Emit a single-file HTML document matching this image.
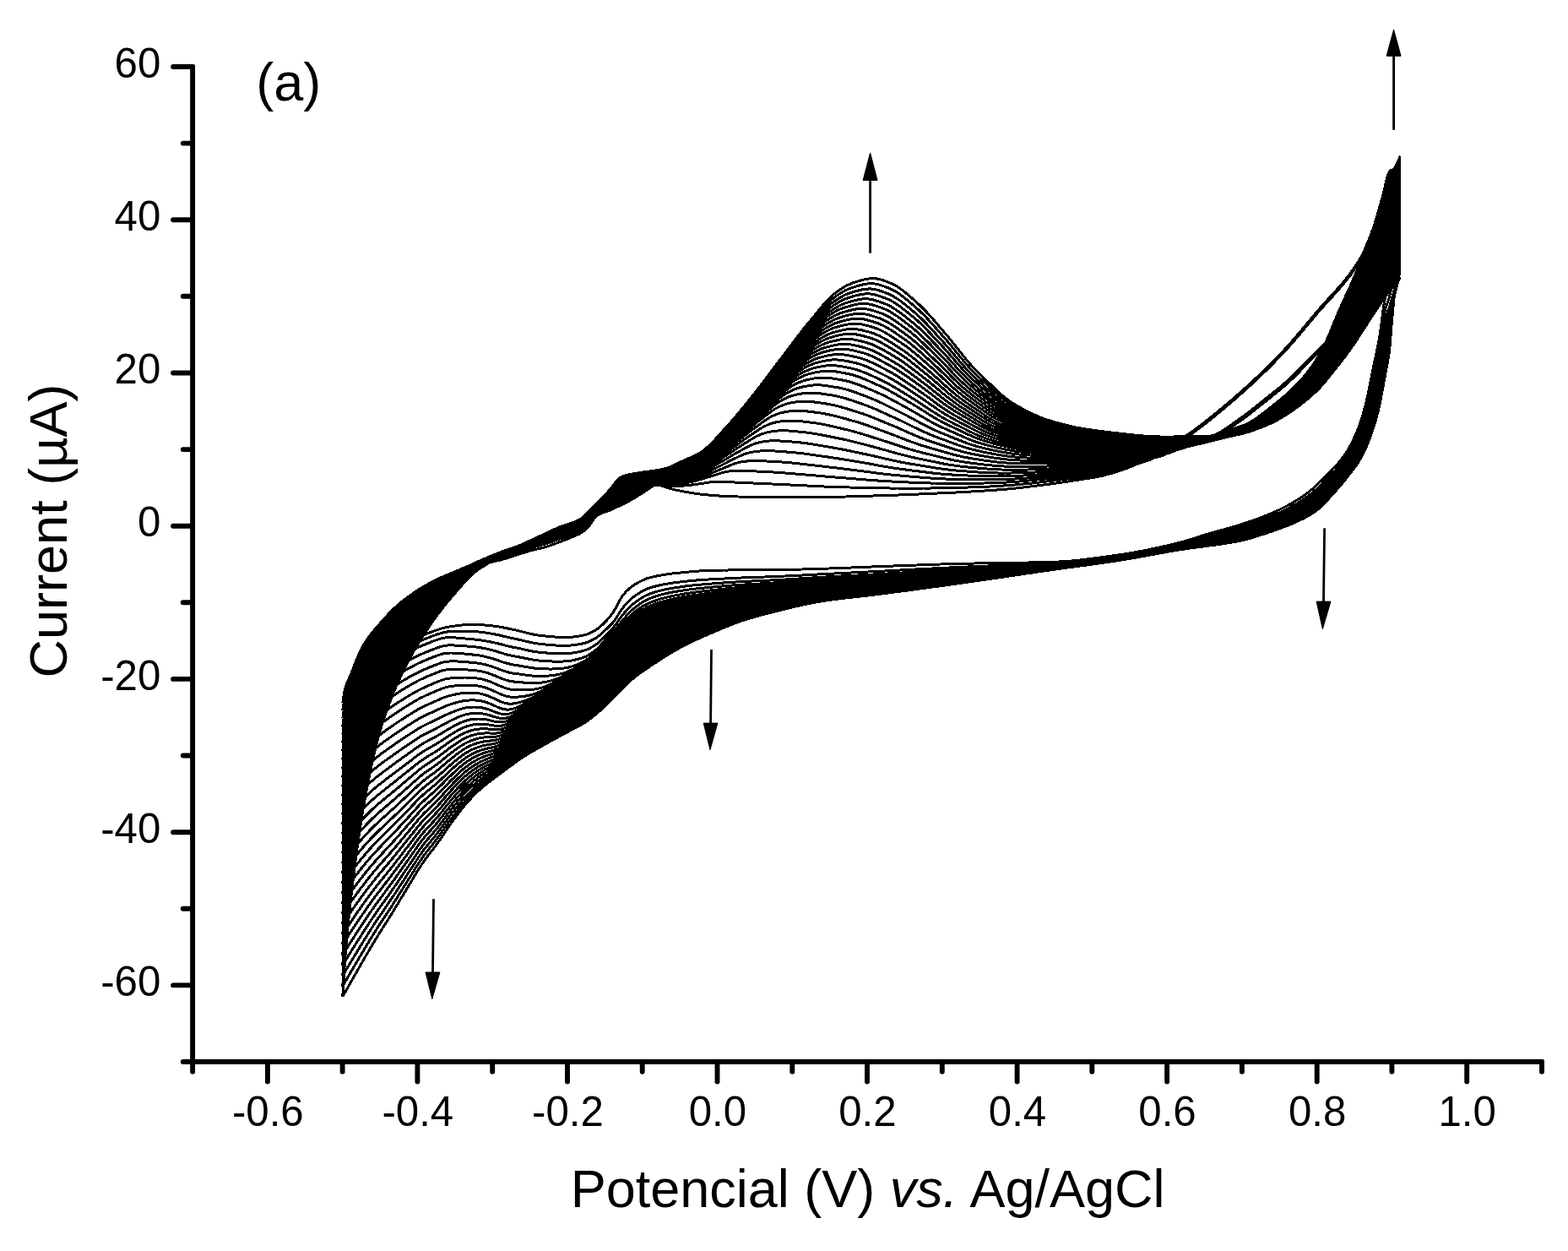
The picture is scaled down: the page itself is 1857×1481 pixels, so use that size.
<!DOCTYPE html>
<html><head><meta charset="utf-8"><title>Cyclic voltammograms</title>
<style>
html,body{margin:0;padding:0;background:#fff;}
body{width:1857px;height:1481px;overflow:hidden;}
svg{display:block;}
text{font-family:"Liberation Sans",Arial,Helvetica,sans-serif;fill:#000;}
.t{font-size:49.2px;}
.l{font-size:63px;}
.cv path{fill:none;stroke:#000;stroke-width:3.0;stroke-linejoin:round;stroke-linecap:butt;}
.ax path{fill:none;stroke:#000;stroke-width:5.9;stroke-linecap:round;stroke-linejoin:miter;}
.ar .h{fill:#000;stroke:#000;stroke-width:1;stroke-linejoin:miter;}
.ar .s{fill:none;stroke:#000;stroke-width:2.8;}
</style></head>
<body>
<svg width="1857" height="1481" viewBox="0 0 1857 1481">
<rect width="1857" height="1481" fill="#fff"/>
<g class="cv" shape-rendering="crispEdges">
<path d="M405.8,832 406.1,830 406.5,827.3 407,824.1 407.6,820.5 408.3,816.9 409.1,813.7 410,810.8 411,808.2 412.3,805.4 413.8,802.2 415.8,797.4 417.8,792.4 420.3,786 422.8,779.8 425.8,772.8 428.8,766.6 431.8,761.4 435.8,755.4 439.8,750 443.8,745.2 448.8,739.5 453.8,733.8 459.8,727.3 465.8,721.2 470,717.3 474,713.8 478,710.6 482,707.6 486,704.7 490,701.9 494,699.2 498,696.7 502,694.3 506,692 510,689.8 514,687.7 518,685.7 522,683.9 526,682.1 530,680.4 534,678.8 538,677.2 542,675.8 546,674.3 550,673 554,671.7 558,670.5 562,669.5 566,668.6 570,667.8 574,667 578,666.2 582,665.4 586,664.5 590,663.6 594,662.6 598,661.5 602,660.2 606,658.8 610,657.4 614,656.2 618,655 622,653.8 626,652.6 630,651.5 634,650.5 638,649.6 642,648.6 646,647.6 650,646.3 654,644.9 658,643.4 662,641.9 666,640.4 670,638.9 674,637.3 678,635.7 682,633.9 686,632.1 690,629.7 694,626.5 698,622.4 702,616.4 706,610.9 710,608.5 714,607 718,605.7 722,604.1 726,602.4 730,600.5 734,598.7 738,596.7 742,594.7 746,592.6 750,590.3 754,587.9 758,585.4 762,583 766,580.3 770,577.3 774,575 778,574 782,574.6 786,576 790,577.3 794,578.4 798,579.5 802,580.4 806,581.2 810,582 814,582.7 818,583.4 822,584 826,584.6 830,585.1 834,585.5 838,585.9 842,586.3 846,586.6 850,586.9 854,587.2 858,587.4 862,587.6 866,587.7 870,587.9 874,588 878,588.1 882,588.2 886,588.3 890,588.4 894,588.5 898,588.5 902,588.6 906,588.6 910,588.6 914,588.7 918,588.7 922,588.7 926,588.7 930,588.7 934,588.8 938,588.8 942,588.8 946,588.8 950,588.8 954,588.8 958,588.8 962,588.8 966,588.8 970,588.7 974,588.7 978,588.6 982,588.5 986,588.5 990,588.4 994,588.3 998,588.1 1002,588 1006,587.9 1010,587.8 1014,587.7 1018,587.5 1022,587.4 1026,587.3 1030,587.2 1034,587 1038,586.9 1042,586.8 1046,586.6 1050,586.5 1054,586.4 1058,586.2 1062,586.1 1066,585.9 1070,585.7 1074,585.6 1078,585.4 1082,585.2 1086,585.1 1090,584.9 1094,584.7 1098,584.6 1102,584.4 1106,584.2 1110,584 1114,583.8 1118,583.7 1122,583.5 1126,583.3 1130,583.1 1134,582.9 1138,582.7 1142,582.4 1146,582.2 1150,582 1154,581.8 1158,581.5 1162,581.3 1166,581 1170,580.8 1174,580.5 1178,580.2 1182,579.9 1186,579.6 1190,579.3 1194,578.9 1198,578.5 1202,578.1 1206,577.7 1210,577.3 1214,576.8 1218,576.3 1222,575.8 1226,575.3 1230,574.8 1234,574.3 1238,573.7 1242,573.2 1246,572.7 1250,572.1 1254,571.5 1258,571 1262,570.4 1266,569.8 1270,569.2 1274,568.6 1278,568 1282,567.3 1286,566.8 1290,566.1 1294,565.5 1298,564.8 1302,564 1306,563.1 1310,562.1 1314,561 1318,559.8 1322,558.6 1326,557.3 1330,556 1334,554.5 1338,553 1342,551.3 1346,549.6 1350,547.8 1354,546 1358,544 1362,541.9 1366,539.7 1370,537.4 1374,535 1378,532.7 1382,530.3 1386,527.9 1390,525.5 1394,523 1398,520.4 1402,517.8 1406,515 1410,512.2 1414,509.3 1418,506.3 1422,503.3 1426,500.3 1430,497.1 1434,494 1438,490.8 1442,487.5 1446,484.2 1450,480.9 1454,477.5 1458,474.1 1462,470.7 1466,467.2 1470,463.6 1474,460.1 1478,456.4 1482,452.8 1486,449 1490,445.3 1494,441.4 1498,437.6 1502,433.6 1506,429.6 1510,425.6 1514,421.5 1518,417.3 1522,413.1 1526,408.7 1530,404.2 1534,399.6 1538,394.9 1542,390.1 1546,385.3 1550,380.5 1554,375.7 1558,371 1562,366.3 1566,361.8 1570,357.4 1574,353 1578,348.7 1582,344.3 1586,339.8 1590,335.1 1594,330.2 1598,325.1 1600,322.4 1602,319.6 1604,316.7 1606,313.8 1608,310.7 1610,307.4 1612,304 1614,300.3 1616,296.4 1618,292 1620,287.3 1622,282.1 1624,276.6 1626,270.9 1628,265 1630,258.5 1632,251.6 1634,244.6 1636,237.5 1638,230.4 1640,222 1641,217.6 1642,213.4 1643,209.5 1644,206.3 1645,203.9 1646,202.5 1647,201.9 1648,201.5 1649,201.1 1650,200.4 1651,199.4 1652,198.1 1653,196.6 1654,194.7 1655,192.7 1656,190.4 1657,187.9 1657.8,185.8 1657.8,185.8 1657,213.1 1656,240.6 1655,262.4 1654,279.6 1653,293.3 1652,304.3 1651,313.1 1650,320.3 1649,326.2 1648,330.9 1647,334.7 1646,338 1645,340.8 1644,343.4 1643,345.9 1642,348.5 1641,351.2 1640,354.4 1638,366.8 1636,383.2 1634,397.6 1632,408.4 1630,418.1 1628,427.5 1626,437.4 1624,447.5 1622,457.6 1620,467.2 1618,476 1616,483.7 1614,490.8 1612,497.4 1610,503.3 1608,508.5 1606,513.3 1604,517.8 1602,522.1 1600,526 1598,529.7 1594,536.3 1590,542 1586,547 1582,551.6 1578,555.9 1574,560 1570,564 1566,568 1562,571.8 1558,575.5 1554,579.1 1550,582.4 1546,585.4 1542,588.2 1538,590.8 1534,593.3 1530,595.7 1526,597.9 1522,600 1518,602 1514,604 1510,605.8 1506,607.6 1502,609.3 1498,610.9 1494,612.5 1490,614 1486,615.4 1482,616.8 1478,618.2 1474,619.5 1470,620.8 1466,622.1 1462,623.3 1458,624.4 1454,625.6 1450,626.7 1446,627.8 1442,628.9 1438,630 1434,631.1 1430,632.3 1426,633.5 1422,634.8 1418,636.1 1414,637.4 1410,638.6 1406,639.8 1402,641 1398,642.1 1394,643.1 1390,644.1 1386,645 1382,646 1378,646.9 1374,647.8 1370,648.7 1366,649.5 1362,650.3 1358,651.2 1354,652 1350,652.7 1346,653.5 1342,654.2 1338,654.9 1334,655.5 1330,656.2 1326,656.8 1322,657.3 1318,657.9 1314,658.5 1310,659 1306,659.6 1302,660.2 1298,660.7 1294,661.2 1290,661.7 1286,662.2 1282,662.7 1278,663.1 1274,663.6 1270,663.9 1266,664.3 1262,664.6 1258,664.8 1254,665 1250,665.2 1246,665.3 1242,665.5 1238,665.6 1234,665.7 1230,665.8 1226,665.9 1222,665.9 1218,666 1214,666.1 1210,666.2 1206,666.2 1202,666.3 1198,666.4 1194,666.4 1190,666.5 1186,666.5 1182,666.6 1178,666.6 1174,666.7 1170,666.7 1166,666.8 1162,666.9 1158,666.9 1154,667 1150,667.1 1146,667.1 1142,667.2 1138,667.3 1134,667.4 1130,667.5 1126,667.6 1122,667.7 1118,667.9 1114,668 1110,668.1 1106,668.2 1102,668.4 1098,668.5 1094,668.7 1090,668.8 1086,669 1082,669.1 1078,669.3 1074,669.4 1070,669.6 1066,669.7 1062,669.9 1058,670 1054,670.2 1050,670.3 1046,670.5 1042,670.6 1038,670.8 1034,670.9 1030,671.1 1026,671.3 1022,671.4 1018,671.6 1014,671.7 1010,671.9 1006,672.1 1002,672.2 998,672.4 994,672.5 990,672.7 986,672.9 982,673 978,673.1 974,673.3 970,673.4 966,673.5 962,673.7 958,673.8 954,673.9 950,674 946,674.1 942,674.2 938,674.2 934,674.3 930,674.3 926,674.4 922,674.4 918,674.4 914,674.5 910,674.5 906,674.5 902,674.6 898,674.6 894,674.6 890,674.7 886,674.7 882,674.7 878,674.8 874,674.8 870,674.9 866,674.9 862,675 858,675 854,675.1 850,675.2 846,675.3 842,675.3 838,675.5 834,675.6 830,675.9 826,676.1 822,676.4 818,676.8 814,677.2 810,677.6 806,678 802,678.4 798,678.8 794,679.3 790,679.9 786,680.5 782,681.1 778,681.9 774,682.8 770,683.7 766,684.9 762,686.5 758,688.5 754,690.7 750,693.2 746,696.1 742,699.8 738,704.4 734,710.6 730,718.5 726,725.4 722,730.5 718,735 714,739 710,742.6 706,745.7 702,747.9 698,749.8 694,751.3 690,752.3 686,753 682,753.6 678,754.1 674,754.5 670,754.6 666,754.5 662,754.4 658,754.1 654,753.8 650,753.5 646,753 642,752.6 638,752.2 634,751.5 630,750.7 626,749.7 622,748.7 618,747.7 614,746.7 610,745.8 606,745 602,744.1 598,743.3 594,742.5 590,741.8 586,741.2 582,740.8 578,740.4 574,740 570,739.7 566,739.4 562,739.3 558,739.3 554,739.5 550,739.7 546,740.1 542,740.6 538,741.1 534,741.7 530,742.3 526,743.2 522,744.3 518,745.6 514,747 510,748.5 506,750 502,751.6 498,753.2 494,754.9 490,756.7 486,758.5 482,760.5 478,762.6 474,764.8 470,767 465.8,769.5 459.8,773.2 453.8,777.2 448.8,780.9 443.8,784.8 439.8,788.2 435.8,791.9 431.8,796 428.8,799.3 425.8,802.8 422.8,806.4 420.3,809.6 417.8,813 415.8,815.8 413.8,818.8 412.3,821.2 411,823.3 410,824.9 409.1,826.4 408.3,827.7 407.6,828.9 407,829.9 406.5,830.8 406.1,831.5 405.8,832"/>
<path d="M405.8,841 406.1,838.9 406.5,836.2 407,832.8 407.6,829.1 408.3,825.3 409.1,821.9 410,818.8 411,816 412.3,812.9 413.8,809.4 415.8,804.2 417.8,798.9 420.3,792.2 422.8,785.7 425.8,778.3 428.8,771.7 431.8,766.2 435.8,759.8 439.8,754.1 443.8,748.9 448.8,742.8 453.8,736.9 459.8,730.1 465.8,723.8 470,719.7 474,716.1 478,712.8 482,709.6 486,706.6 490,703.7 494,701 498,698.4 502,695.9 506,693.4 510,691.1 514,688.9 518,686.7 522,684.6 526,682.7 530,680.8 534,678.9 538,677.1 542,675.4 546,673.7 550,672.1 554,670.5 558,669.1 562,667.9 566,666.8 570,665.9 574,665 578,664 582,663 586,662.1 590,661 594,660 598,658.8 602,657.6 606,656.2 610,654.9 614,653.7 618,652.4 622,651 626,649.7 630,648.5 634,647.3 638,646.2 642,645 646,643.8 650,642.5 654,641.1 658,639.7 662,638.4 666,637.1 670,635.9 674,634.6 678,633.3 682,631.8 686,630.2 690,628 694,624.9 698,621 702,615.3 706,609.9 710,607.5 714,605.7 718,604.3 722,602.5 726,600.5 730,598.5 734,596.5 738,594.5 742,592.6 746,590.6 750,588.4 754,586.1 758,583.7 762,581.4 766,578.8 770,576.1 774,573.8 778,572.9 782,573.1 786,573.8 790,574.6 794,575.2 798,575.5 802,575.4 806,575.3 810,575 814,574.7 818,574.2 822,573.7 826,573.2 830,572.6 834,572 838,571.3 842,570.8 846,570.5 850,570.3 854,570.4 858,570.5 862,570.7 866,570.8 870,571 874,571.2 878,571.4 882,571.6 886,571.8 890,571.9 894,572.1 898,572.3 902,572.4 906,572.6 910,572.8 914,573 918,573.1 922,573.3 926,573.5 930,573.7 934,573.9 938,574.1 942,574.3 946,574.5 950,574.7 954,574.9 958,575.1 962,575.3 966,575.5 970,575.7 974,575.9 978,576.1 982,576.2 986,576.4 990,576.5 994,576.6 998,576.8 1002,576.9 1006,577 1010,577.1 1014,577.2 1018,577.3 1022,577.4 1026,577.5 1030,577.6 1034,577.7 1038,577.8 1042,577.8 1046,577.9 1050,577.9 1054,578 1058,578 1062,578 1066,578.1 1070,578.1 1074,578.1 1078,578.1 1082,578.1 1086,578.1 1090,578.1 1094,578 1098,578 1102,578 1106,577.9 1110,577.9 1114,577.8 1118,577.7 1122,577.6 1126,577.6 1130,577.5 1134,577.4 1138,577.3 1142,577.2 1146,577 1150,576.9 1154,576.7 1158,576.6 1162,576.4 1166,576.2 1170,576.1 1174,575.9 1178,575.7 1182,575.4 1186,575.2 1190,574.9 1194,574.7 1198,574.4 1202,574 1206,573.7 1210,573.3 1214,572.8 1218,572.4 1222,572 1226,571.5 1230,571.1 1234,570.6 1238,570.1 1242,569.7 1246,569.2 1250,568.7 1254,568.2 1258,567.7 1262,567.2 1266,566.7 1270,566.1 1274,565.6 1278,565.1 1282,564.5 1286,564 1290,563.5 1294,562.9 1298,562.3 1302,561.6 1306,560.7 1310,559.8 1314,558.7 1318,557.7 1322,556.5 1326,555.4 1330,554.3 1334,553.1 1338,551.9 1342,550.6 1346,549.4 1350,548.1 1354,546.9 1358,545.8 1362,544.2 1366,542 1370,539.7 1374,537.3 1378,535 1382,532.6 1386,530.2 1390,527.8 1394,525.3 1398,522.7 1402,520.1 1406,517.3 1410,514.5 1414,511.6 1418,508.6 1422,505.6 1426,502.6 1430,499.4 1434,496.3 1438,493.1 1442,489.8 1446,486.5 1450,483.2 1454,479.8 1458,476.4 1462,473 1466,469.5 1470,465.9 1474,462.4 1478,458.7 1482,455.1 1486,451.3 1490,447.6 1494,443.7 1498,439.9 1502,435.9 1506,431.9 1510,427.9 1514,423.8 1518,419.6 1522,415.4 1526,411 1530,406.5 1534,401.9 1538,397.2 1542,392.4 1546,387.6 1550,382.8 1554,378 1558,373.3 1562,368.6 1566,364.1 1570,359.7 1574,355.3 1578,351 1582,346.6 1586,342.1 1590,337.4 1594,332.5 1598,327.4 1600,324.7 1602,321.9 1604,319 1606,316.1 1608,313 1610,309.7 1612,306.3 1614,302.6 1616,298.7 1618,294.3 1620,289.6 1622,284.4 1624,278.9 1626,273.2 1628,267.3 1630,260.8 1632,253.9 1634,246.9 1636,239.8 1638,232.7 1640,224.3 1641,219.9 1642,215.7 1643,211.8 1644,208.6 1645,206.2 1646,204.8 1647,204.2 1648,203.8 1649,203.4 1650,202.7 1651,201.7 1652,200.4 1653,198.9 1654,197 1655,195 1656,192.7 1657,190.2 1657.8,188.1 1657.8,188.1 1657,215.1 1656,242.5 1655,264.7 1654,282.5 1653,297.1 1652,309.4 1651,319.3 1650,327.3 1649,333.9 1648,339.5 1647,344.7 1646,349.3 1645,353 1644,356.1 1643,359.1 1642,362 1641,365.2 1640,368.7 1638,380.9 1636,396.4 1634,410.2 1632,420.7 1630,430 1628,439 1626,448.3 1624,457.8 1622,467.2 1620,476.2 1618,484.3 1616,491.5 1614,498.1 1612,504.2 1610,509.8 1608,514.7 1606,519.2 1604,523.4 1602,527.4 1600,531.2 1598,534.7 1594,541 1590,546.6 1586,551.6 1582,556.2 1578,560.5 1574,564.6 1570,568.7 1566,572.7 1562,576.5 1558,580.1 1554,583.5 1550,586.7 1546,589.6 1542,592.3 1538,594.8 1534,597.2 1530,599.4 1526,601.6 1522,603.6 1518,605.6 1514,607.4 1510,609.2 1506,610.9 1502,612.6 1498,614.2 1494,615.7 1490,617.2 1486,618.6 1482,619.9 1478,621.3 1474,622.5 1470,623.8 1466,625 1462,626.1 1458,627.2 1454,628.3 1450,629.3 1446,630.3 1442,631.3 1438,632.4 1434,633.4 1430,634.5 1426,635.6 1422,636.7 1418,637.9 1414,639.1 1410,640.2 1406,641.3 1402,642.4 1398,643.4 1394,644.4 1390,645.3 1386,646.2 1382,647.1 1378,648 1374,648.9 1370,649.7 1366,650.6 1362,651.4 1358,652.2 1354,653 1350,653.7 1346,654.5 1342,655.2 1338,655.9 1334,656.5 1330,657.2 1326,657.8 1322,658.4 1318,658.9 1314,659.5 1310,660.1 1306,660.7 1302,661.2 1298,661.8 1294,662.3 1290,662.8 1286,663.3 1282,663.8 1278,664.2 1274,664.7 1270,665.1 1266,665.5 1262,665.8 1258,666.1 1254,666.4 1250,666.6 1246,666.8 1242,667 1238,667.2 1234,667.4 1230,667.6 1226,667.8 1222,667.9 1218,668.1 1214,668.3 1210,668.4 1206,668.6 1202,668.8 1198,668.9 1194,669.1 1190,669.2 1186,669.4 1182,669.5 1178,669.7 1174,669.8 1170,670 1166,670.1 1162,670.3 1158,670.5 1154,670.6 1150,670.8 1146,671 1142,671.1 1138,671.3 1134,671.5 1130,671.7 1126,671.9 1122,672.1 1118,672.3 1114,672.5 1110,672.7 1106,672.9 1102,673.1 1098,673.3 1094,673.5 1090,673.7 1086,673.9 1082,674.1 1078,674.4 1074,674.6 1070,674.8 1066,675 1062,675.2 1058,675.4 1054,675.6 1050,675.9 1046,676.1 1042,676.3 1038,676.5 1034,676.7 1030,676.9 1026,677.1 1022,677.3 1018,677.5 1014,677.7 1010,677.9 1006,678.1 1002,678.3 998,678.5 994,678.7 990,678.9 986,679.1 982,679.3 978,679.5 974,679.7 970,679.9 966,680.1 962,680.4 958,680.6 954,680.8 950,681 946,681.2 942,681.4 938,681.6 934,681.8 930,682 926,682.1 922,682.3 918,682.5 914,682.6 910,682.8 906,683 902,683.1 898,683.2 894,683.4 890,683.5 886,683.7 882,683.8 878,684 874,684.2 870,684.4 866,684.6 862,684.8 858,685 854,685.2 850,685.4 846,685.6 842,685.8 838,686.1 834,686.3 830,686.6 826,686.9 822,687.2 818,687.6 814,688 810,688.4 806,688.9 802,689.4 798,689.9 794,690.5 790,691.1 786,691.8 782,692.7 778,693.6 774,694.6 770,695.8 766,697.2 762,699.1 758,701.4 754,704 750,706.9 746,710.2 742,714.3 738,719.1 734,724.6 730,731.3 726,736.9 722,741.1 718,744.9 714,748.6 710,752.2 706,755.2 702,757.4 698,759.3 694,760.9 690,761.9 686,762.7 682,763.3 678,763.8 674,764.2 670,764.4 666,764.3 662,764.2 658,764 654,763.7 650,763.4 646,763 642,762.6 638,762.2 634,761.6 630,760.8 626,759.9 622,759 618,758 614,757.1 610,756.2 606,755.4 602,754.5 598,753.6 594,752.6 590,751.7 586,750.9 582,750.2 578,749.5 574,748.9 570,748.4 566,747.9 562,747.6 558,747.4 554,747.2 550,747.1 546,747.1 542,747.2 538,747.4 534,747.6 530,747.9 526,748.6 522,749.6 518,750.9 514,752.3 510,753.8 506,755.4 502,757 498,758.6 494,760.4 490,762.2 486,764.1 482,766.2 478,768.3 474,770.6 470,772.9 465.8,775.5 459.8,779.4 453.8,783.6 448.8,787.4 443.8,791.6 439.8,795.1 435.8,799 431.8,803.3 428.8,806.8 425.8,810.5 422.8,814.3 420.3,817.7 417.8,821.2 415.8,824.2 413.8,827.3 412.3,829.8 411,831.9 410,833.6 409.1,835.2 408.3,836.6 407.6,837.8 407,838.9 406.5,839.8 406.1,840.5 405.8,841"/>
<path d="M405.8,850.3 406.1,848.1 406.5,845.2 407,841.8 407.6,837.9 408.3,833.9 409.1,830.3 410,827 411,824 412.3,820.5 413.8,816.7 415.8,811.2 417.8,805.6 420.3,798.6 422.8,791.7 425.8,783.9 428.8,777 431.8,771.2 435.8,764.4 439.8,758.3 443.8,752.7 448.8,746.3 453.8,740.1 459.8,733 465.8,726.4 470,722.2 474,718.5 478,715 482,711.7 486,708.6 490,705.6 494,702.7 498,700 502,697.4 506,694.9 510,692.4 514,690.1 518,687.8 522,685.6 526,683.5 530,681.5 534,679.6 538,677.7 542,675.8 546,674 550,672.2 554,670.6 558,669 562,667.7 566,666.6 570,665.6 574,664.6 578,663.6 582,662.5 586,661.5 590,660.4 594,659.3 598,658.1 602,656.9 606,655.6 610,654.3 614,653 618,651.6 622,650.3 626,648.9 630,647.6 634,646.4 638,645.1 642,643.9 646,642.6 650,641.3 654,639.9 658,638.5 662,637.2 666,636 670,634.8 674,633.5 678,632.2 682,630.8 686,629.2 690,627.1 694,623.9 698,620 702,614.4 706,609.2 710,606.6 714,604.8 718,603.1 722,601.2 726,599.1 730,596.8 734,594.7 738,592.8 742,590.8 746,588.9 750,586.8 754,584.6 758,582.3 762,580.1 766,577.7 770,575 774,572.9 778,571.9 782,572 786,572.5 790,572.9 794,573.3 798,573.6 802,573.4 806,572.8 810,572.2 814,571.4 818,570.6 822,569.7 826,568.6 830,567.5 834,566.3 838,565.1 842,563.8 846,562.5 850,561.4 854,560.1 858,559 862,558.2 866,557.6 870,557.4 874,557.2 878,557.2 882,557.4 886,557.5 890,557.7 894,557.9 898,558.1 902,558.3 906,558.5 910,558.7 914,558.9 918,559.1 922,559.4 926,559.7 930,560 934,560.3 938,560.6 942,561 946,561.3 950,561.6 954,562 958,562.3 962,562.7 966,563 970,563.4 974,563.7 978,564.1 982,564.4 986,564.8 990,565.1 994,565.4 998,565.7 1002,566 1006,566.4 1010,566.7 1014,567 1018,567.3 1022,567.7 1026,568 1030,568.3 1034,568.6 1038,568.9 1042,569.2 1046,569.4 1050,569.7 1054,569.9 1058,570.1 1062,570.3 1066,570.5 1070,570.7 1074,570.9 1078,571.1 1082,571.3 1086,571.4 1090,571.6 1094,571.7 1098,571.9 1102,572 1106,572 1110,572.1 1114,572.2 1118,572.2 1122,572.3 1126,572.3 1130,572.3 1134,572.3 1138,572.3 1142,572.3 1146,572.3 1150,572.3 1154,572.2 1158,572.1 1162,572.1 1166,572 1170,571.9 1174,571.7 1178,571.6 1182,571.4 1186,571.3 1190,571.1 1194,570.9 1198,570.6 1202,570.4 1206,570.1 1210,569.7 1214,569.4 1218,569 1222,568.6 1226,568.2 1230,567.8 1234,567.4 1238,567 1242,566.6 1246,566.1 1250,565.7 1254,565.3 1258,564.8 1262,564.4 1266,563.9 1270,563.4 1274,563 1278,562.5 1282,562 1286,561.6 1290,561.1 1294,560.6 1298,560.1 1302,559.4 1306,558.6 1310,557.7 1314,556.8 1318,555.8 1322,554.7 1326,553.7 1330,552.6 1334,551.5 1338,550.3 1342,549.1 1346,547.9 1350,546.7 1354,545.6 1358,544.4 1362,543.4 1366,542.3 1370,541.2 1374,540.2 1378,539.1 1382,534.2 1386,532.7 1390,531.1 1394,529.6 1398,528.2 1402,526.8 1406,525.4 1410,524 1414,522.7 1418,521.6 1422,520.5 1426,519.4 1430,518.2 1434,516.8 1438,515.2 1442,513.3 1446,511 1450,508.6 1454,505.9 1458,503.1 1462,500.2 1466,497.3 1470,494.5 1474,491.6 1478,488.6 1482,485.5 1486,482.3 1490,479.2 1494,476 1498,472.8 1502,469.6 1506,466.4 1510,463.2 1514,459.9 1518,456.6 1522,453.2 1526,449.6 1530,445.9 1534,442 1538,438 1542,433.8 1546,429.6 1550,425.5 1554,421.5 1558,417.7 1562,414 1566,409.9 1570,405.7 1574,401.4 1578,396.9 1582,392.4 1586,387.9 1590,383.3 1594,378.8 1598,374.2 1600,372 1602,369.8 1604,367.6 1606,365.3 1608,363.1 1610,360.9 1612,358.6 1614,356.4 1616,354.2 1618,352 1620,349.7 1622,347.5 1624,345.3 1626,343 1628,340.8 1630,338.6 1632,336.3 1634,334.1 1636,331.9 1638,329.6 1640,327.4 1641,326.3 1642,325.2 1643,324 1644,322.9 1645,321.8 1646,320.7 1647,319.6 1648,318.4 1649,317.3 1650,316.2 1651,315.1 1652,314 1653,312.8 1654,311.7 1655,310.6 1656,309.5 1657,308.4 1657.8,307.5 1657.8,307.5 1657,312.9 1656,318.9 1655,324.6 1654,329.9 1653,334.9 1652,340.1 1651,344.6 1650,348.3 1649,351.6 1648,354.8 1647,358.6 1646,362.3 1645,365 1644,367.5 1643,369.9 1642,372.5 1641,375.3 1640,378.7 1638,390.2 1636,404.8 1634,418.1 1632,428.2 1630,437.3 1628,446 1626,455 1624,464.1 1622,473 1620,481.5 1618,489.3 1616,496.2 1614,502.5 1612,508.4 1610,513.6 1608,518.4 1606,522.7 1604,526.8 1602,530.6 1600,534.2 1598,537.6 1594,543.9 1590,549.4 1586,554.3 1582,558.9 1578,563.2 1574,567.4 1570,571.5 1566,575.5 1562,579.4 1558,582.9 1554,586.2 1550,589.3 1546,592.2 1542,594.8 1538,597.2 1534,599.5 1530,601.7 1526,603.8 1522,605.8 1518,607.7 1514,609.5 1510,611.2 1506,612.9 1502,614.5 1498,616.1 1494,617.6 1490,619.1 1486,620.5 1482,621.8 1478,623.1 1474,624.4 1470,625.6 1466,626.7 1462,627.8 1458,628.9 1454,629.9 1450,630.9 1446,631.8 1442,632.8 1438,633.8 1434,634.8 1430,635.8 1426,636.8 1422,637.9 1418,639 1414,640.1 1410,641.2 1406,642.2 1402,643.3 1398,644.2 1394,645.1 1390,646 1386,646.9 1382,647.8 1378,648.7 1374,649.5 1370,650.4 1366,651.2 1362,652 1358,652.8 1354,653.6 1350,654.3 1346,655.1 1342,655.8 1338,656.5 1334,657.1 1330,657.8 1326,658.4 1322,659 1318,659.6 1314,660.1 1310,660.7 1306,661.3 1302,661.8 1298,662.4 1294,662.9 1290,663.4 1286,663.9 1282,664.4 1278,664.9 1274,665.3 1270,665.8 1266,666.2 1262,666.5 1258,666.9 1254,667.2 1250,667.5 1246,667.7 1242,668 1238,668.2 1234,668.5 1230,668.7 1226,668.9 1222,669.2 1218,669.4 1214,669.6 1210,669.8 1206,670.1 1202,670.3 1198,670.5 1194,670.7 1190,670.9 1186,671.1 1182,671.3 1178,671.6 1174,671.8 1170,672 1166,672.2 1162,672.4 1158,672.6 1154,672.8 1150,673.1 1146,673.3 1142,673.5 1138,673.7 1134,674 1130,674.2 1126,674.4 1122,674.7 1118,674.9 1114,675.2 1110,675.4 1106,675.6 1102,675.9 1098,676.1 1094,676.4 1090,676.6 1086,676.9 1082,677.1 1078,677.4 1074,677.6 1070,677.9 1066,678.1 1062,678.3 1058,678.6 1054,678.8 1050,679.1 1046,679.3 1042,679.5 1038,679.8 1034,680 1030,680.2 1026,680.4 1022,680.6 1018,680.9 1014,681.1 1010,681.3 1006,681.5 1002,681.7 998,681.9 994,682.1 990,682.4 986,682.6 982,682.8 978,683 974,683.3 970,683.5 966,683.7 962,684 958,684.2 954,684.5 950,684.8 946,685 942,685.3 938,685.5 934,685.8 930,686 926,686.2 922,686.5 918,686.7 914,686.9 910,687.1 906,687.3 902,687.5 898,687.7 894,687.9 890,688 886,688.2 882,688.4 878,688.6 874,688.8 870,689.1 866,689.3 862,689.6 858,689.9 854,690.2 850,690.5 846,690.8 842,691.1 838,691.4 834,691.7 830,692.1 826,692.4 822,692.8 818,693.3 814,693.7 810,694.2 806,694.8 802,695.4 798,696 794,696.7 790,697.4 786,698.3 782,699.2 778,700.3 774,701.5 770,702.9 766,704.5 762,706.6 758,709 754,711.8 750,714.9 746,718.4 742,722.6 738,727.5 734,732.4 730,738.3 726,743.5 722,747.6 718,751.6 714,755.7 710,759.6 706,763 702,765.5 698,767.7 694,769.4 690,770.6 686,771.6 682,772.4 678,773 674,773.5 670,773.7 666,773.8 662,773.8 658,773.7 654,773.5 650,773.2 646,772.9 642,772.5 638,772.1 634,771.6 630,770.9 626,770.1 622,769.2 618,768.3 614,767.4 610,766.6 606,765.9 602,765 598,764 594,762.9 590,761.9 586,761 582,760.1 578,759.3 574,758.6 570,758 566,757.5 562,757 558,756.7 554,756.3 550,755.9 546,755.5 542,755.1 538,754.9 534,754.7 530,754.7 526,755.1 522,756 518,757.3 514,758.7 510,760.3 506,761.9 502,763.5 498,765.1 494,766.9 490,768.8 486,770.8 482,772.9 478,775.1 474,777.5 470,779.9 465.8,782.5 459.8,786.6 453.8,791 448.8,794.9 443.8,799.2 439.8,802.9 435.8,807 431.8,811.4 428.8,815 425.8,818.8 422.8,822.8 420.3,826.2 417.8,829.9 415.8,832.9 413.8,836.2 412.3,838.7 411,840.9 410,842.7 409.1,844.3 408.3,845.7 407.6,847 407,848.1 406.5,849 406.1,849.7 405.8,850.3"/>
<path d="M405.8,859.7 406.1,857.4 406.5,854.5 407,850.9 407.6,846.8 408.3,842.7 409.1,838.8 410,835.4 411,832.1 412.3,828.3 413.8,824.3 415.8,818.4 417.8,812.4 420.3,805 422.8,797.8 425.8,789.6 428.8,782.4 431.8,776.2 435.8,769 439.8,762.5 443.8,756.6 448.8,749.8 453.8,743.3 459.8,736 465.8,729.1 470,724.7 474,720.8 478,717.3 482,713.8 486,710.6 490,707.5 494,704.5 498,701.7 502,698.9 506,696.3 510,693.8 514,691.3 518,688.9 522,686.6 526,684.4 530,682.3 534,680.2 538,678.2 542,676.3 546,674.3 550,672.4 554,670.6 558,669 562,667.6 566,666.4 570,665.3 574,664.2 578,663.2 582,662 586,660.9 590,659.8 594,658.7 598,657.5 602,656.2 606,654.9 610,653.6 614,652.3 618,650.9 622,649.5 626,648.1 630,646.7 634,645.4 638,644.1 642,642.8 646,641.5 650,640.2 654,638.8 658,637.4 662,636.1 666,634.8 670,633.7 674,632.5 678,631.3 682,629.8 686,628.3 690,626.2 694,623 698,619.1 702,613.7 706,608.5 710,605.9 714,603.9 718,602.1 722,600.1 726,597.8 730,595.4 734,593.2 738,591.2 742,589.3 746,587.4 750,585.4 754,583.3 758,581.1 762,579 766,576.6 770,574.1 774,572 778,571.1 782,571.1 786,571.5 790,571.7 794,571.9 798,572.1 802,572.1 806,571.5 810,570.6 814,569.6 818,568.6 822,567.5 826,566.2 830,564.9 834,563.4 838,561.9 842,560.3 846,558.7 850,557 854,555.4 858,553.7 862,552.1 866,550.4 870,548.9 874,547.7 878,546.8 882,546.2 886,545.9 890,545.6 894,545.5 898,545.6 902,545.7 906,545.9 910,546.1 914,546.3 918,546.5 922,546.8 926,547 930,547.3 934,547.7 938,548 942,548.4 946,548.9 950,549.3 954,549.8 958,550.2 962,550.7 966,551.1 970,551.6 974,552 978,552.5 982,553 986,553.4 990,553.9 994,554.4 998,554.9 1002,555.4 1006,555.9 1010,556.4 1014,556.9 1018,557.4 1022,557.9 1026,558.4 1030,558.9 1034,559.5 1038,560 1042,560.5 1046,561 1050,561.5 1054,561.9 1058,562.3 1062,562.7 1066,563 1070,563.4 1074,563.7 1078,564.1 1082,564.4 1086,564.7 1090,565.1 1094,565.4 1098,565.7 1102,566 1106,566.3 1110,566.5 1114,566.7 1118,566.9 1122,567.1 1126,567.2 1130,567.3 1134,567.5 1138,567.6 1142,567.7 1146,567.8 1150,567.8 1154,567.9 1158,567.9 1162,567.9 1166,567.9 1170,567.9 1174,567.9 1178,567.8 1182,567.7 1186,567.6 1190,567.5 1194,567.3 1198,567.2 1202,567 1206,566.7 1210,566.5 1214,566.2 1218,565.9 1222,565.6 1226,565.2 1230,564.9 1234,564.5 1238,564.1 1242,563.7 1246,563.4 1250,563 1254,562.6 1258,562.2 1262,561.8 1266,561.3 1270,560.9 1274,560.5 1278,560.1 1282,559.7 1286,559.3 1290,558.9 1294,558.5 1298,558 1302,557.4 1306,556.7 1310,555.9 1314,555 1318,554 1322,553 1326,552.1 1330,551 1334,550 1338,548.9 1342,547.7 1346,546.6 1350,545.4 1354,544.3 1358,543.2 1362,542.2 1366,541.2 1370,540.2 1374,539.2 1378,538.1 1382,537 1386,535.8 1390,534.1 1394,532.6 1398,531.2 1402,529.8 1406,528.4 1410,527 1414,525.7 1418,524.6 1422,523.5 1426,522.4 1430,521.2 1434,519.8 1438,518.2 1442,516.3 1446,514 1450,511.6 1454,508.9 1458,506.1 1462,503.2 1466,500.3 1470,497.5 1474,494.6 1478,491.6 1482,488.5 1486,485.3 1490,482.2 1494,479 1498,475.8 1502,472.6 1506,469.4 1510,466.2 1514,462.9 1518,459.6 1522,456.2 1526,452.6 1530,448.9 1534,445 1538,441 1542,436.8 1546,432.6 1550,428.5 1554,424.5 1558,420.7 1562,417 1566,412.9 1570,408.7 1574,404.4 1578,399.9 1582,395.4 1586,390.9 1590,386.3 1594,381.8 1598,377.2 1600,375 1602,372.8 1604,370.6 1606,368.3 1608,366.1 1610,363.9 1612,361.6 1614,359.4 1616,357.2 1618,355 1620,352.7 1622,350.5 1624,348.3 1626,346 1628,343.8 1630,341.6 1632,339.3 1634,337.1 1636,334.9 1638,332.6 1640,330.4 1641,329.3 1642,328.2 1643,327 1644,325.9 1645,324.8 1646,323.7 1647,322.6 1648,321.4 1649,320.3 1650,319.2 1651,318.1 1652,317 1653,315.8 1654,314.7 1655,313.6 1656,312.5 1657,311.4 1657.8,310.5 1657.8,310.5 1657,315.4 1656,321 1655,326.6 1654,331.9 1653,337.1 1652,342.6 1651,347.5 1650,351.4 1649,354.9 1648,358.4 1647,362.7 1646,366.9 1645,370 1644,372.7 1643,375.2 1642,377.9 1641,381 1640,384.5 1638,395.8 1636,410.1 1634,423.2 1632,433.1 1630,442 1628,450.6 1626,459.4 1624,468.2 1622,476.9 1620,485.1 1618,492.6 1616,499.3 1614,505.5 1612,511.1 1610,516.2 1608,520.8 1606,525 1604,529 1602,532.8 1600,536.3 1598,539.6 1594,545.8 1590,551.2 1586,556.2 1582,560.8 1578,565.1 1574,569.3 1570,573.4 1566,577.4 1562,581.2 1558,584.7 1554,588 1550,591.1 1546,593.9 1542,596.4 1538,598.8 1534,601.1 1530,603.2 1526,605.3 1522,607.2 1518,609.1 1514,610.9 1510,612.6 1506,614.3 1502,615.9 1498,617.4 1494,618.9 1490,620.3 1486,621.7 1482,623.1 1478,624.3 1474,625.6 1470,626.7 1466,627.9 1462,628.9 1458,630 1454,631 1450,631.9 1446,632.8 1442,633.8 1438,634.7 1434,635.7 1430,636.6 1426,637.7 1422,638.7 1418,639.7 1414,640.8 1410,641.8 1406,642.8 1402,643.8 1398,644.8 1394,645.6 1390,646.5 1386,647.4 1382,648.3 1378,649.1 1374,649.9 1370,650.8 1366,651.6 1362,652.4 1358,653.2 1354,654 1350,654.7 1346,655.5 1342,656.2 1338,656.9 1334,657.5 1330,658.2 1326,658.8 1322,659.4 1318,660 1314,660.6 1310,661.1 1306,661.7 1302,662.3 1298,662.8 1294,663.3 1290,663.9 1286,664.4 1282,664.9 1278,665.3 1274,665.8 1270,666.2 1266,666.6 1262,667 1258,667.4 1254,667.7 1250,668 1246,668.3 1242,668.6 1238,668.9 1234,669.1 1230,669.4 1226,669.7 1222,670 1218,670.2 1214,670.5 1210,670.7 1206,671 1202,671.3 1198,671.5 1194,671.8 1190,672 1186,672.3 1182,672.5 1178,672.8 1174,673 1170,673.3 1166,673.5 1162,673.8 1158,674 1154,674.3 1150,674.6 1146,674.8 1142,675.1 1138,675.3 1134,675.6 1130,675.9 1126,676.1 1122,676.4 1118,676.7 1114,676.9 1110,677.2 1106,677.5 1102,677.8 1098,678 1094,678.3 1090,678.6 1086,678.9 1082,679.1 1078,679.4 1074,679.7 1070,679.9 1066,680.2 1062,680.5 1058,680.7 1054,681 1050,681.3 1046,681.5 1042,681.8 1038,682 1034,682.3 1030,682.5 1026,682.8 1022,683 1018,683.2 1014,683.5 1010,683.7 1006,683.9 1002,684.2 998,684.4 994,684.6 990,684.9 986,685.1 982,685.3 978,685.6 974,685.8 970,686.1 966,686.4 962,686.7 958,687 954,687.3 950,687.6 946,687.9 942,688.2 938,688.5 934,688.8 930,689 926,689.3 922,689.6 918,689.9 914,690.2 910,690.4 906,690.7 902,690.9 898,691.1 894,691.3 890,691.5 886,691.8 882,692 878,692.2 874,692.5 870,692.8 866,693.1 862,693.4 858,693.8 854,694.1 850,694.5 846,694.8 842,695.2 838,695.6 834,696 830,696.4 826,696.8 822,697.3 818,697.8 814,698.3 810,698.8 806,699.4 802,700.1 798,700.7 794,701.5 790,702.3 786,703.3 782,704.3 778,705.5 774,706.8 770,708.3 766,710.1 762,712.3 758,714.9 754,717.8 750,721 746,724.6 742,728.9 738,733.8 734,738.3 730,743.5 726,747.9 722,751.6 718,755.9 714,760.6 710,765.3 706,769.2 702,772.3 698,774.9 694,777.1 690,778.6 686,779.9 682,780.9 678,781.8 674,782.4 670,782.8 666,783.1 662,783.2 658,783.2 654,783 650,782.9 646,782.6 642,782.3 638,782 634,781.5 630,780.9 626,780.1 622,779.3 618,778.5 614,777.7 610,777 606,776.3 602,775.4 598,774.3 594,773 590,771.8 586,770.6 582,769.5 578,768.5 574,767.6 570,766.9 566,766.3 562,765.8 558,765.5 554,765.1 550,764.8 546,764.5 542,764.2 538,764 534,763.9 530,764 526,764.5 522,765.5 518,766.8 514,768.3 510,769.9 506,771.5 502,773.1 498,774.8 494,776.7 490,778.6 486,780.7 482,782.9 478,785.1 474,787.5 470,789.9 465.8,792.6 459.8,796.7 453.8,801 448.8,805 443.8,809.3 439.8,812.9 435.8,817 431.8,821.4 428.8,824.9 425.8,828.7 422.8,832.6 420.3,836 417.8,839.6 415.8,842.6 413.8,845.8 412.3,848.3 411,850.5 410,852.2 409.1,853.8 408.3,855.2 407.6,856.5 407,857.5 406.5,858.4 406.1,859.2 405.8,859.7"/>
<path d="M405.8,869.3 406.1,867 406.5,863.9 407,860.2 407.6,856 408.3,851.6 409.1,847.6 410,843.9 411,840.4 412.3,836.3 413.8,831.9 415.8,825.7 417.8,819.4 420.3,811.6 422.8,804 425.8,795.5 428.8,787.9 431.8,781.4 435.8,773.7 439.8,766.9 443.8,760.6 448.8,753.4 453.8,746.6 459.8,739 465.8,731.9 470,727.3 474,723.3 478,719.6 482,716 486,712.6 490,709.4 494,706.3 498,703.4 502,700.5 506,697.8 510,695.1 514,692.5 518,690 522,687.6 526,685.3 530,683.1 534,680.9 538,678.8 542,676.7 546,674.6 550,672.6 554,670.7 558,668.9 562,667.4 566,666.2 570,665 574,663.9 578,662.7 582,661.6 586,660.4 590,659.2 594,658 598,656.8 602,655.5 606,654.2 610,652.9 614,651.6 618,650.2 622,648.7 626,647.3 630,645.9 634,644.5 638,643.1 642,641.8 646,640.4 650,639 654,637.6 658,636.2 662,634.9 666,633.7 670,632.6 674,631.5 678,630.3 682,628.9 686,627.4 690,625.3 694,622.2 698,618.3 702,612.9 706,607.8 710,605.1 714,603 718,601.1 722,599 726,596.5 730,594 734,591.6 738,589.7 742,587.8 746,586 750,584 754,582 758,579.9 762,577.9 766,575.6 770,573.2 774,571.2 778,570.3 782,570.2 786,570.5 790,570.6 794,570.5 798,570.6 802,570.5 806,570 810,569.1 814,567.9 818,566.6 822,565.3 826,563.8 830,562.2 834,560.5 838,558.7 842,556.9 846,554.9 850,553 854,551 858,549 862,546.9 866,544.8 870,542.9 874,541 878,539.1 882,537.5 886,536.3 890,535.3 894,534.6 898,534.2 902,533.8 906,533.6 910,533.7 914,533.8 918,534 922,534.3 926,534.6 930,534.9 934,535.2 938,535.5 942,535.9 946,536.3 950,536.8 954,537.3 958,537.9 962,538.4 966,539 970,539.6 974,540.1 978,540.7 982,541.2 986,541.8 990,542.4 994,543.1 998,543.7 1002,544.4 1006,545 1010,545.7 1014,546.4 1018,547 1022,547.7 1026,548.4 1030,549.1 1034,549.8 1038,550.6 1042,551.3 1046,552 1050,552.7 1054,553.4 1058,554 1062,554.6 1066,555.2 1070,555.7 1074,556.2 1078,556.8 1082,557.2 1086,557.7 1090,558.2 1094,558.7 1098,559.2 1102,559.7 1106,560.2 1110,560.6 1114,561 1118,561.3 1122,561.6 1126,561.9 1130,562.2 1134,562.4 1138,562.6 1142,562.9 1146,563 1150,563.2 1154,563.4 1158,563.5 1162,563.7 1166,563.8 1170,563.8 1174,563.9 1178,563.9 1182,563.9 1186,563.9 1190,563.8 1194,563.8 1198,563.6 1202,563.5 1206,563.3 1210,563.1 1214,562.9 1218,562.7 1222,562.4 1226,562.2 1230,561.9 1234,561.5 1238,561.2 1242,560.9 1246,560.5 1250,560.2 1254,559.8 1258,559.5 1262,559.1 1266,558.7 1270,558.4 1274,558.1 1278,557.7 1282,557.4 1286,557 1290,556.7 1294,556.3 1298,555.9 1302,555.3 1306,554.7 1310,553.9 1314,553.1 1318,552.2 1322,551.3 1326,550.4 1330,549.5 1334,548.5 1338,547.4 1342,546.3 1346,545.2 1350,544.1 1354,543.1 1358,542 1362,541 1366,540.1 1370,539.1 1374,538.1 1378,537.1 1382,536.1 1386,535 1390,533.8 1394,532.6 1398,531.4 1402,530.2 1406,529.1 1410,528 1414,527 1418,526 1422,525.1 1426,524.1 1430,523.2 1434,522.3 1438,521.3 1442,520.3 1446,519.2 1450,518.2 1454,517.3 1458,516.4 1462,515.5 1466,514.6 1470,513.7 1474,512.6 1478,511.5 1482,510.2 1486,508.8 1490,507.3 1494,505.8 1498,504.2 1502,502.5 1506,500.7 1510,498.7 1514,496.6 1518,494.2 1522,491.8 1526,489.2 1530,486.5 1534,483.7 1538,480.8 1542,477.7 1546,474.5 1550,471.2 1554,467.7 1558,464 1562,460 1566,455.8 1570,451.1 1574,446.2 1578,441.1 1582,436.1 1586,431.1 1590,426 1594,420.7 1598,415.3 1600,412.5 1602,409.6 1604,406.7 1606,403.7 1608,400.6 1610,397.5 1612,394.4 1614,391.3 1616,388.1 1618,385.1 1620,382 1622,379 1624,375.9 1626,372.8 1628,369.7 1630,366.7 1632,363.6 1634,360.7 1636,357.7 1638,354.8 1640,352 1641,350.6 1642,349.2 1643,347.9 1644,346.5 1645,345.2 1646,343.9 1647,342.5 1648,341.2 1649,339.9 1650,338.7 1651,337.4 1652,336.1 1653,334.9 1654,333.6 1655,332.4 1656,331.2 1657,330 1657.8,329 1657.8,329 1657,330.6 1656,333 1655,336.1 1654,339.7 1653,343.6 1652,348.3 1651,352.6 1650,356 1649,359.2 1648,362.5 1647,366.9 1646,371.2 1645,374.3 1644,377 1643,379.6 1642,382.3 1641,385.4 1640,389 1638,400.2 1636,414.1 1634,427 1632,436.9 1630,445.6 1628,454.1 1626,462.7 1624,471.3 1622,479.8 1620,487.8 1618,495.1 1616,501.7 1614,507.7 1612,513.2 1610,518.2 1608,522.7 1606,526.8 1604,530.7 1602,534.4 1600,537.8 1598,541.1 1594,547.2 1590,552.6 1586,557.5 1582,562.1 1578,566.5 1574,570.7 1570,574.8 1566,578.9 1562,582.7 1558,586.1 1554,589.4 1550,592.4 1546,595.1 1542,597.6 1538,600 1534,602.2 1530,604.4 1526,606.4 1522,608.3 1518,610.1 1514,611.9 1510,613.6 1506,615.2 1502,616.8 1498,618.4 1494,619.9 1490,621.3 1486,622.7 1482,624 1478,625.3 1474,626.5 1470,627.6 1466,628.7 1462,629.8 1458,630.8 1454,631.8 1450,632.7 1446,633.6 1442,634.5 1438,635.4 1434,636.4 1430,637.3 1426,638.3 1422,639.3 1418,640.3 1414,641.3 1410,642.3 1406,643.3 1402,644.2 1398,645.2 1394,646 1390,646.9 1386,647.7 1382,648.6 1378,649.4 1374,650.3 1370,651.1 1366,651.9 1362,652.7 1358,653.5 1354,654.3 1350,655 1346,655.8 1342,656.5 1338,657.2 1334,657.8 1330,658.5 1326,659.1 1322,659.7 1318,660.3 1314,660.9 1310,661.4 1306,662 1302,662.6 1298,663.1 1294,663.7 1290,664.2 1286,664.7 1282,665.2 1278,665.7 1274,666.1 1270,666.6 1266,667 1262,667.4 1258,667.8 1254,668.1 1250,668.4 1246,668.8 1242,669.1 1238,669.4 1234,669.7 1230,670 1226,670.3 1222,670.5 1218,670.8 1214,671.1 1210,671.4 1206,671.7 1202,672 1198,672.3 1194,672.6 1190,672.8 1186,673.1 1182,673.4 1178,673.7 1174,674 1170,674.3 1166,674.5 1162,674.8 1158,675.1 1154,675.4 1150,675.7 1146,676 1142,676.2 1138,676.5 1134,676.8 1130,677.1 1126,677.4 1122,677.7 1118,678 1114,678.3 1110,678.6 1106,678.9 1102,679.2 1098,679.5 1094,679.8 1090,680.1 1086,680.3 1082,680.6 1078,680.9 1074,681.2 1070,681.5 1066,681.8 1062,682.1 1058,682.4 1054,682.7 1050,682.9 1046,683.2 1042,683.5 1038,683.8 1034,684 1030,684.3 1026,684.5 1022,684.8 1018,685 1014,685.3 1010,685.5 1006,685.8 1002,686 998,686.2 994,686.5 990,686.7 986,687 982,687.3 978,687.5 974,687.8 970,688.1 966,688.4 962,688.7 958,689 954,689.4 950,689.7 946,690.1 942,690.4 938,690.7 934,691.1 930,691.4 926,691.8 922,692.1 918,692.4 914,692.7 910,693 906,693.3 902,693.6 898,693.9 894,694.1 890,694.4 886,694.7 882,695 878,695.3 874,695.6 870,696 866,696.3 862,696.7 858,697.1 854,697.6 850,698 846,698.4 842,698.9 838,699.4 834,699.8 830,700.3 826,700.8 822,701.3 818,701.9 814,702.4 810,703.1 806,703.8 802,704.5 798,705.2 794,706.1 790,707 786,708 782,709.1 778,710.4 774,711.8 770,713.3 766,715.1 762,717.2 758,719.8 754,722.6 750,725.8 746,729.2 742,733.4 738,738.1 734,742.4 730,747.2 726,751.2 722,754.7 718,758.7 714,763.4 710,768 706,772.1 702,775.4 698,778.6 694,781.5 690,783.8 686,785.8 682,787.5 678,788.8 674,789.9 670,790.7 666,791.3 662,791.7 658,791.9 654,792 650,792 646,791.9 642,791.8 638,791.6 634,791.2 630,790.7 626,790 622,789.4 618,788.6 614,787.9 610,787.3 606,786.6 602,785.7 598,784.6 594,783.3 590,781.9 586,780.5 582,779.3 578,778.2 574,777.2 570,776.4 566,775.7 562,775.2 558,774.9 554,774.5 550,774 546,773.7 542,773.3 538,773.1 534,773 530,773.1 526,773.6 522,774.6 518,776 514,777.5 510,779.1 506,780.7 502,782.4 498,784.1 494,786 490,788.1 486,790.2 482,792.4 478,794.7 474,797.1 470,799.6 465.8,802.3 459.8,806.4 453.8,810.8 448.8,814.8 443.8,819 439.8,822.7 435.8,826.8 431.8,831.2 428.8,834.7 425.8,838.5 422.8,842.4 420.3,845.8 417.8,849.4 415.8,852.4 413.8,855.5 412.3,858 411,860.2 410,861.9 409.1,863.5 408.3,864.9 407.6,866.1 407,867.2 406.5,868.1 406.1,868.8 405.8,869.3"/>
<path d="M405.8,879.1 406.1,876.7 406.5,873.5 407,869.6 407.6,865.3 408.3,860.8 409.1,856.5 410,852.6 411,848.8 412.3,844.5 413.8,839.8 415.8,833.2 417.8,826.5 420.3,818.3 422.8,810.4 425.8,801.5 428.8,793.5 431.8,786.6 435.8,778.6 439.8,771.3 443.8,764.7 448.8,757.1 453.8,750 459.8,742 465.8,734.7 470,730 474,725.8 478,721.9 482,718.2 486,714.7 490,711.4 494,708.2 498,705.1 502,702.2 506,699.3 510,696.5 514,693.8 518,691.2 522,688.7 526,686.3 530,683.9 534,681.6 538,679.4 542,677.2 546,674.9 550,672.8 554,670.7 558,668.9 562,667.3 566,665.9 570,664.7 574,663.5 578,662.3 582,661.1 586,659.8 590,658.6 594,657.4 598,656.1 602,654.8 606,653.5 610,652.2 614,650.9 618,649.4 622,647.9 626,646.4 630,645 634,643.6 638,642.1 642,640.7 646,639.3 650,637.9 654,636.4 658,635 662,633.8 666,632.6 670,631.5 674,630.5 678,629.3 682,628 686,626.5 690,624.5 694,621.3 698,617.4 702,612.2 706,607.2 710,604.4 714,602.2 718,600.1 722,597.8 726,595.2 730,592.5 734,590.1 738,588.1 742,586.3 746,584.5 750,582.7 754,580.7 758,578.7 762,576.7 766,574.6 770,572.3 774,570.4 778,569.5 782,569.3 786,569.5 790,569.4 794,569.2 798,569.1 802,568.9 806,568.4 810,567.5 814,566.2 818,564.7 822,563.1 826,561.4 830,559.7 834,557.7 838,555.7 842,553.6 846,551.5 850,549.2 854,546.9 858,544.6 862,542.2 866,539.8 870,537.4 874,535.2 878,533 882,530.7 886,528.6 890,526.7 894,525.2 898,524.1 902,523.2 906,522.6 910,522.1 914,521.8 918,521.8 922,521.9 926,522.1 930,522.3 934,522.7 938,523 942,523.4 946,523.7 950,524.2 954,524.7 958,525.2 962,525.9 966,526.5 970,527.2 974,527.9 978,528.5 982,529.2 986,529.9 990,530.6 994,531.3 998,532.1 1002,532.9 1006,533.7 1010,534.5 1014,535.4 1018,536.2 1022,537.1 1026,537.9 1030,538.8 1034,539.7 1038,540.6 1042,541.5 1046,542.5 1050,543.4 1054,544.3 1058,545.2 1062,546 1066,546.9 1070,547.6 1074,548.4 1078,549.1 1082,549.7 1086,550.4 1090,551 1094,551.7 1098,552.3 1102,553 1106,553.7 1110,554.3 1114,554.9 1118,555.5 1122,555.9 1126,556.4 1130,556.8 1134,557.2 1138,557.5 1142,557.8 1146,558.1 1150,558.4 1154,558.7 1158,559 1162,559.2 1166,559.4 1170,559.6 1174,559.8 1178,559.9 1182,560 1186,560 1190,560 1194,560.1 1198,560 1202,559.9 1206,559.8 1210,559.7 1214,559.6 1218,559.4 1222,559.2 1226,559 1230,558.8 1234,558.5 1238,558.3 1242,558 1246,557.7 1250,557.4 1254,557 1258,556.7 1262,556.4 1266,556.1 1270,555.8 1274,555.5 1278,555.2 1282,554.9 1286,554.7 1290,554.4 1294,554.1 1298,553.7 1302,553.2 1306,552.6 1310,552 1314,551.2 1318,550.4 1322,549.5 1326,548.7 1330,547.8 1334,546.9 1338,545.9 1342,544.9 1346,543.8 1350,542.8 1354,541.8 1358,540.8 1362,539.9 1366,538.9 1370,538 1374,537.1 1378,536.2 1382,535.2 1386,534.1 1390,533 1394,531.8 1398,530.7 1402,529.6 1406,528.5 1410,527.5 1414,526.5 1418,525.5 1422,524.6 1426,523.7 1430,522.8 1434,522 1438,521 1442,519.9 1446,518.8 1450,517.8 1454,516.9 1458,516 1462,515.1 1466,514.2 1470,513.2 1474,512.2 1478,511 1482,509.7 1486,508.3 1490,506.8 1494,505.2 1498,503.6 1502,501.8 1506,499.9 1510,497.9 1514,495.8 1518,493.4 1522,490.9 1526,488.3 1530,485.6 1534,482.7 1538,479.8 1542,476.6 1546,473.4 1550,470 1554,466.4 1558,462.6 1562,458.6 1566,454.2 1570,449.4 1574,444.3 1578,439.1 1582,433.9 1586,428.7 1590,423.5 1594,418.1 1598,412.5 1600,409.7 1602,406.8 1604,403.8 1606,400.7 1608,397.5 1610,394.4 1612,391.2 1614,387.9 1616,384.7 1618,381.6 1620,378.5 1622,375.3 1624,372.2 1626,369 1628,365.9 1630,362.7 1632,359.5 1634,356.4 1636,353.3 1638,350.2 1640,347.2 1641,345.7 1642,344.2 1643,342.8 1644,341.3 1645,340 1646,338.6 1647,337.3 1648,336.1 1649,334.8 1650,333.5 1651,332.3 1652,331 1653,329.7 1654,328.5 1655,327.2 1656,326 1657,324.7 1657.8,323.7 1657.8,323.7 1657,326.3 1656,329.7 1655,333.7 1654,338.2 1653,342.8 1652,348.2 1651,353.1 1650,357 1649,360.4 1648,364.2 1647,369 1646,373.8 1645,377.1 1644,380 1643,382.8 1642,385.6 1641,388.9 1640,392.5 1638,403.7 1636,417.4 1634,430.2 1632,439.9 1630,448.6 1628,457 1626,465.4 1624,473.9 1622,482.2 1620,490 1618,497.2 1616,503.6 1614,509.5 1612,514.9 1610,519.8 1608,524.2 1606,528.3 1604,532.1 1602,535.7 1600,539.1 1598,542.4 1594,548.4 1590,553.7 1586,558.7 1582,563.3 1578,567.6 1574,571.8 1570,576 1566,580 1562,583.8 1558,587.3 1554,590.5 1550,593.4 1546,596.2 1542,598.7 1538,601 1534,603.2 1530,605.3 1526,607.3 1522,609.2 1518,611 1514,612.8 1510,614.5 1506,616.1 1502,617.7 1498,619.2 1494,620.7 1490,622.1 1486,623.5 1482,624.8 1478,626 1474,627.2 1470,628.4 1466,629.5 1462,630.5 1458,631.5 1454,632.4 1450,633.3 1446,634.2 1442,635.1 1438,636 1434,636.9 1430,637.8 1426,638.8 1422,639.8 1418,640.7 1414,641.7 1410,642.7 1406,643.7 1402,644.6 1398,645.5 1394,646.3 1390,647.2 1386,648 1382,648.9 1378,649.7 1374,650.5 1370,651.4 1366,652.2 1362,653 1358,653.8 1354,654.5 1350,655.3 1346,656 1342,656.7 1338,657.4 1334,658.1 1330,658.7 1326,659.4 1322,660 1318,660.5 1314,661.1 1310,661.7 1306,662.3 1302,662.8 1298,663.4 1294,663.9 1290,664.4 1286,665 1282,665.5 1278,665.9 1274,666.4 1270,666.9 1266,667.3 1262,667.7 1258,668.1 1254,668.5 1250,668.8 1246,669.1 1242,669.4 1238,669.8 1234,670.1 1230,670.4 1226,670.7 1222,671 1218,671.3 1214,671.7 1210,672 1206,672.3 1202,672.6 1198,672.9 1194,673.2 1190,673.5 1186,673.8 1182,674.1 1178,674.4 1174,674.7 1170,675 1166,675.3 1162,675.6 1158,676 1154,676.3 1150,676.6 1146,676.9 1142,677.2 1138,677.5 1134,677.8 1130,678.1 1126,678.4 1122,678.7 1118,679 1114,679.4 1110,679.7 1106,680 1102,680.3 1098,680.6 1094,680.9 1090,681.2 1086,681.5 1082,681.8 1078,682.2 1074,682.5 1070,682.8 1066,683.1 1062,683.4 1058,683.7 1054,684 1050,684.3 1046,684.6 1042,684.8 1038,685.1 1034,685.4 1030,685.7 1026,685.9 1022,686.2 1018,686.5 1014,686.7 1010,687 1006,687.2 1002,687.5 998,687.7 994,688 990,688.2 986,688.5 982,688.8 978,689.1 974,689.4 970,689.7 966,690 962,690.3 958,690.7 954,691.1 950,691.4 946,691.8 942,692.2 938,692.6 934,692.9 930,693.3 926,693.7 922,694.1 918,694.4 914,694.8 910,695.1 906,695.5 902,695.8 898,696.1 894,696.4 890,696.8 886,697.1 882,697.4 878,697.8 874,698.2 870,698.6 866,699 862,699.5 858,700 854,700.5 850,701 846,701.5 842,702 838,702.5 834,703 830,703.5 826,704.1 822,704.6 818,705.2 814,705.8 810,706.5 806,707.2 802,708 798,708.8 794,709.7 790,710.7 786,711.7 782,712.9 778,714.2 774,715.6 770,717.1 766,718.9 762,721.1 758,723.6 754,726.4 750,729.5 746,732.9 742,737 738,741.6 734,745.8 730,750.4 726,754.3 722,757.6 718,761.6 714,766.2 710,770.8 706,774.8 702,778.1 698,781.3 694,784.2 690,786.6 686,788.6 682,790.6 678,792.5 674,794.3 670,796 666,797.3 662,798.3 658,799.1 654,799.6 650,800 646,800.3 642,800.4 638,800.5 634,800.3 630,800 626,799.5 622,799 618,798.5 614,797.9 610,797.4 606,796.8 602,795.9 598,794.7 594,793.3 590,791.8 586,790.3 582,788.9 578,787.7 574,786.6 570,785.8 566,785.1 562,784.6 558,784.2 554,783.9 550,783.5 546,783.2 542,783 538,782.9 534,782.9 530,783.1 526,783.8 522,784.8 518,786.3 514,787.9 510,789.5 506,791.1 502,792.8 498,794.6 494,796.6 490,798.7 486,800.8 482,803.1 478,805.4 474,807.9 470,810.4 465.8,813.1 459.8,817.2 453.8,821.6 448.8,825.5 443.8,829.8 439.8,833.4 435.8,837.4 431.8,841.7 428.8,845.2 425.8,848.9 422.8,852.8 420.3,856.1 417.8,859.6 415.8,862.6 413.8,865.7 412.3,868.1 411,870.2 410,871.9 409.1,873.4 408.3,874.8 407.6,876 407,877 406.5,877.9 406.1,878.6 405.8,879.1"/>
<path d="M405.8,889.1 406.1,886.6 406.5,883.3 407,879.3 407.6,874.8 408.3,870.1 409.1,865.6 410,861.4 411,857.4 412.3,852.8 413.8,847.7 415.8,840.8 417.8,833.8 420.3,825.2 422.8,816.9 425.8,807.5 428.8,799.2 431.8,792 435.8,783.5 439.8,775.8 443.8,768.8 448.8,760.9 453.8,753.5 459.8,745.2 465.8,737.5 470,732.6 474,728.3 478,724.3 482,720.5 486,716.8 490,713.4 494,710.1 498,706.9 502,703.8 506,700.9 510,698 514,695.1 518,692.4 522,689.8 526,687.2 530,684.7 534,682.3 538,679.9 542,677.6 546,675.3 550,673 554,670.8 558,668.9 562,667.2 566,665.7 570,664.4 574,663.2 578,661.9 582,660.6 586,659.3 590,658 594,656.7 598,655.4 602,654.2 606,652.9 610,651.6 614,650.2 618,648.7 622,647.1 626,645.6 630,644.1 634,642.6 638,641.1 642,639.6 646,638.1 650,636.7 654,635.3 658,633.9 662,632.6 666,631.5 670,630.5 674,629.5 678,628.4 682,627.1 686,625.6 690,623.6 694,620.4 698,616.6 702,611.4 706,606.5 710,603.7 714,601.3 718,599.1 722,596.7 726,593.9 730,591.1 734,588.5 738,586.6 742,584.8 746,583.1 750,581.3 754,579.4 758,577.4 762,575.6 766,573.6 770,571.4 774,569.6 778,568.7 782,568.5 786,568.5 790,568.3 794,567.9 798,567.7 802,567.4 806,566.9 810,566 814,564.7 818,563 822,561.1 826,559.2 830,557.3 834,555.2 838,553 842,550.7 846,548.3 850,545.9 854,543.3 858,540.7 862,538 866,535.4 870,532.7 874,530 878,527.4 882,524.9 886,522.5 890,520 894,517.6 898,515.5 902,513.9 906,512.6 910,511.5 914,510.8 918,510.3 922,509.9 926,509.7 930,509.8 934,510 938,510.3 942,510.7 946,511.1 950,511.5 954,511.9 958,512.4 962,513 966,513.6 970,514.3 974,515.1 978,515.9 982,516.7 986,517.5 990,518.3 994,519.1 998,519.9 1002,520.8 1006,521.7 1010,522.7 1014,523.7 1018,524.7 1022,525.8 1026,526.8 1030,527.9 1034,528.9 1038,530 1042,531.1 1046,532.2 1050,533.3 1054,534.5 1058,535.6 1062,536.7 1066,537.8 1070,538.8 1074,539.8 1078,540.8 1082,541.7 1086,542.5 1090,543.4 1094,544.2 1098,545 1102,545.8 1106,546.6 1110,547.5 1114,548.3 1118,549.1 1122,549.8 1126,550.4 1130,551 1134,551.6 1138,552.1 1142,552.5 1146,553 1150,553.4 1154,553.8 1158,554.1 1162,554.5 1166,554.8 1170,555.1 1174,555.4 1178,555.6 1182,555.8 1186,556 1190,556.1 1194,556.2 1198,556.2 1202,556.2 1206,556.2 1210,556.2 1214,556.1 1218,556 1222,555.9 1226,555.7 1230,555.6 1234,555.4 1238,555.2 1242,555 1246,554.7 1250,554.5 1254,554.2 1258,553.9 1262,553.6 1266,553.3 1270,553.1 1274,552.9 1278,552.6 1282,552.4 1286,552.2 1290,552 1294,551.7 1298,551.4 1302,551 1306,550.5 1310,549.9 1314,549.2 1318,548.5 1322,547.7 1326,546.9 1330,546.1 1334,545.3 1338,544.3 1342,543.4 1346,542.4 1350,541.4 1354,540.5 1358,539.5 1362,538.6 1366,537.8 1370,536.9 1374,536 1378,535.1 1382,534.2 1386,533.2 1390,532.1 1394,531.1 1398,529.9 1402,528.9 1406,527.8 1410,526.9 1414,525.9 1418,525 1422,524.1 1426,523.3 1430,522.4 1434,521.6 1438,520.7 1442,519.6 1446,518.4 1450,517.4 1454,516.4 1458,515.5 1462,514.6 1466,513.7 1470,512.8 1474,511.7 1478,510.5 1482,509.2 1486,507.8 1490,506.2 1494,504.6 1498,502.9 1502,501.1 1506,499.2 1510,497.2 1514,495 1518,492.6 1522,490 1526,487.4 1530,484.6 1534,481.7 1538,478.7 1542,475.6 1546,472.2 1550,468.8 1554,465.1 1558,461.2 1562,457.1 1566,452.6 1570,447.7 1574,442.5 1578,437.1 1582,431.7 1586,426.4 1590,421 1594,415.5 1598,409.8 1600,406.9 1602,403.9 1604,400.8 1606,397.7 1608,394.5 1610,391.2 1612,387.9 1614,384.6 1616,381.3 1618,378.1 1620,374.9 1622,371.7 1624,368.5 1626,365.3 1628,362 1630,358.7 1632,355.4 1634,352.1 1636,348.8 1638,345.6 1640,342.4 1641,340.8 1642,339.2 1643,337.6 1644,336.1 1645,334.7 1646,333.4 1647,332.1 1648,330.9 1649,329.7 1650,328.4 1651,327.2 1652,325.9 1653,324.6 1654,323.3 1655,322 1656,320.7 1657,319.4 1657.8,318.4 1657.8,318.4 1657,321.9 1656,326.4 1655,331.3 1654,336.4 1653,341.6 1652,347.6 1651,353 1650,357.2 1649,361 1648,365 1647,370.1 1646,375.2 1645,378.7 1644,381.8 1643,384.6 1642,387.6 1641,390.9 1640,394.6 1638,405.8 1636,419.4 1634,432 1632,441.8 1630,450.4 1628,458.7 1626,467.1 1624,475.4 1622,483.6 1620,491.3 1618,498.5 1616,504.8 1614,510.6 1612,515.9 1610,520.8 1608,525.1 1606,529.2 1604,532.9 1602,536.5 1600,539.9 1598,543.1 1594,549.1 1590,554.4 1586,559.4 1582,564 1578,568.3 1574,572.5 1570,576.7 1566,580.8 1562,584.5 1558,588 1554,591.2 1550,594.1 1546,596.8 1542,599.3 1538,601.6 1534,603.8 1530,605.9 1526,607.9 1522,609.7 1518,611.6 1514,613.3 1510,615 1506,616.6 1502,618.1 1498,619.7 1494,621.1 1490,622.6 1486,623.9 1482,625.2 1478,626.5 1474,627.7 1470,628.8 1466,629.9 1462,630.9 1458,631.9 1454,632.8 1450,633.7 1446,634.6 1442,635.5 1438,636.4 1434,637.3 1430,638.2 1426,639.1 1422,640.1 1418,641 1414,642 1410,642.9 1406,643.9 1402,644.8 1398,645.7 1394,646.5 1390,647.4 1386,648.2 1382,649.1 1378,649.9 1374,650.7 1370,651.5 1366,652.3 1362,653.1 1358,653.9 1354,654.7 1350,655.4 1346,656.2 1342,656.9 1338,657.6 1334,658.2 1330,658.9 1326,659.5 1322,660.1 1318,660.7 1314,661.3 1310,661.9 1306,662.4 1302,663 1298,663.5 1294,664.1 1290,664.6 1286,665.1 1282,665.6 1278,666.1 1274,666.6 1270,667 1266,667.5 1262,667.9 1258,668.3 1254,668.7 1250,669 1246,669.4 1242,669.7 1238,670 1234,670.4 1230,670.7 1226,671 1222,671.4 1218,671.7 1214,672 1210,672.4 1206,672.7 1202,673 1198,673.4 1194,673.7 1190,674 1186,674.3 1182,674.7 1178,675 1174,675.3 1170,675.7 1166,676 1162,676.3 1158,676.6 1154,677 1150,677.3 1146,677.6 1142,677.9 1138,678.3 1134,678.6 1130,678.9 1126,679.3 1122,679.6 1118,679.9 1114,680.2 1110,680.6 1106,680.9 1102,681.2 1098,681.6 1094,681.9 1090,682.2 1086,682.5 1082,682.9 1078,683.2 1074,683.5 1070,683.8 1066,684.1 1062,684.5 1058,684.8 1054,685.1 1050,685.4 1046,685.7 1042,686 1038,686.3 1034,686.6 1030,686.9 1026,687.1 1022,687.4 1018,687.7 1014,687.9 1010,688.2 1006,688.5 1002,688.7 998,689 994,689.3 990,689.5 986,689.8 982,690.1 978,690.4 974,690.7 970,691 966,691.4 962,691.7 958,692.1 954,692.5 950,692.9 946,693.3 942,693.7 938,694.1 934,694.4 930,694.8 926,695.2 922,695.6 918,696 914,696.4 910,696.8 906,697.1 902,697.4 898,697.8 894,698.1 890,698.4 886,698.8 882,699.1 878,699.5 874,699.9 870,700.3 866,700.8 862,701.2 858,701.7 854,702.2 850,702.8 846,703.3 842,703.8 838,704.4 834,704.9 830,705.5 826,706.1 822,706.8 818,707.4 814,708.1 810,708.9 806,709.7 802,710.6 798,711.5 794,712.5 790,713.6 786,714.7 782,716 778,717.3 774,718.8 770,720.4 766,722.2 762,724.3 758,726.8 754,729.6 750,732.6 746,735.9 742,739.9 738,744.4 734,748.5 730,753.2 726,757.1 722,760.5 718,764.4 714,769 710,773.5 706,777.5 702,780.8 698,784 694,786.9 690,789.3 686,791.4 682,793.3 678,795.2 674,797.2 670,799 666,800.8 662,802.6 658,804.2 654,805.5 650,806.6 646,807.4 642,808 638,808.5 634,808.7 630,808.7 626,808.5 622,808.2 618,807.9 614,807.6 610,807.2 606,806.7 602,805.9 598,804.7 594,803.2 590,801.6 586,799.9 582,798.4 578,796.9 574,795.8 570,794.8 566,794.1 562,793.6 558,793.3 554,793 550,792.7 546,792.4 542,792.3 538,792.2 534,792.3 530,792.6 526,793.3 522,794.5 518,796 514,797.6 510,799.2 506,800.9 502,802.7 498,804.5 494,806.6 490,808.8 486,811 482,813.3 478,815.7 474,818.2 470,820.8 465.8,823.6 459.8,827.7 453.8,832.1 448.8,836.1 443.8,840.3 439.8,843.9 435.8,847.9 431.8,852.2 428.8,855.7 425.8,859.3 422.8,863.1 420.3,866.4 417.8,869.9 415.8,872.8 413.8,875.9 412.3,878.2 411,880.3 410,882 409.1,883.5 408.3,884.8 407.6,886 407,887.1 406.5,887.9 406.1,888.6 405.8,889.1"/>
<path d="M405.8,899.3 406.1,896.7 406.5,893.3 407,889.2 407.6,884.5 408.3,879.5 409.1,874.9 410,870.5 411,866.2 412.3,861.2 413.8,855.9 415.8,848.5 417.8,841.2 420.3,832.2 422.8,823.5 425.8,813.7 428.8,805 431.8,797.5 435.8,788.5 439.8,780.4 443.8,773.1 448.8,764.7 453.8,757 459.8,748.3 465.8,740.5 470,735.4 474,730.9 478,726.7 482,722.8 486,719 490,715.4 494,712 498,708.7 502,705.5 506,702.4 510,699.4 514,696.5 518,693.6 522,690.9 526,688.2 530,685.6 534,683 538,680.6 542,678.1 546,675.6 550,673.2 554,670.9 558,668.8 562,667.1 566,665.6 570,664.2 574,662.8 578,661.5 582,660.1 586,658.7 590,657.4 594,656.1 598,654.8 602,653.5 606,652.2 610,650.9 614,649.5 618,648 622,646.4 626,644.8 630,643.2 634,641.7 638,640.1 642,638.5 646,637 650,635.5 654,634.1 658,632.7 662,631.4 666,630.4 670,629.4 674,628.4 678,627.4 682,626.2 686,624.7 690,622.7 694,619.6 698,615.7 702,610.7 706,605.9 710,602.9 714,600.5 718,598.1 722,595.6 726,592.7 730,589.7 734,587 738,585.1 742,583.4 746,581.7 750,579.9 754,578.1 758,576.3 762,574.5 766,572.6 770,570.5 774,568.8 778,567.9 782,567.6 786,567.6 790,567.3 794,566.8 798,566.3 802,565.9 806,565.3 810,564.5 814,563.3 818,561.5 822,559.5 826,557.4 830,555.3 834,553.1 838,550.7 842,548.2 846,545.6 850,543 854,540.3 858,537.5 862,534.6 866,531.6 870,528.8 874,525.8 878,522.9 882,520 886,517.2 890,514.5 894,511.8 898,509.1 902,506.6 906,504.4 910,502.6 914,501.2 918,500.1 922,499.3 926,498.7 930,498.2 934,498 938,498 942,498.2 946,498.5 950,498.9 954,499.4 958,499.9 962,500.4 966,500.9 970,501.5 974,502.2 978,503 982,503.9 986,504.8 990,505.7 994,506.7 998,507.6 1002,508.6 1006,509.5 1010,510.6 1014,511.7 1018,512.8 1022,514 1026,515.3 1030,516.5 1034,517.8 1038,519 1042,520.3 1046,521.6 1050,522.9 1054,524.2 1058,525.5 1062,526.9 1066,528.2 1070,529.5 1074,530.8 1078,532 1082,533.2 1086,534.3 1090,535.3 1094,536.4 1098,537.4 1102,538.3 1106,539.3 1110,540.3 1114,541.3 1118,542.3 1122,543.2 1126,544.1 1130,545 1134,545.7 1138,546.4 1142,547 1146,547.6 1150,548.1 1154,548.6 1158,549.1 1162,549.6 1166,550.1 1170,550.5 1174,550.9 1178,551.3 1182,551.6 1186,551.8 1190,552.1 1194,552.2 1198,552.4 1202,552.5 1206,552.5 1210,552.5 1214,552.5 1218,552.5 1222,552.4 1226,552.4 1230,552.3 1234,552.2 1238,552.1 1242,551.9 1246,551.7 1250,551.5 1254,551.3 1258,551.1 1262,550.8 1266,550.6 1270,550.4 1274,550.2 1278,550 1282,549.9 1286,549.7 1290,549.6 1294,549.4 1298,549.1 1302,548.8 1306,548.3 1310,547.8 1314,547.2 1318,546.5 1322,545.8 1326,545.1 1330,544.4 1334,543.6 1338,542.7 1342,541.8 1346,540.9 1350,540 1354,539.1 1358,538.3 1362,537.4 1366,536.6 1370,535.8 1374,535 1378,534.1 1382,533.2 1386,532.3 1390,531.3 1394,530.3 1398,529.2 1402,528.2 1406,527.2 1410,526.3 1414,525.4 1418,524.5 1422,523.7 1426,522.8 1430,522 1434,521.2 1438,520.3 1442,519.2 1446,518 1450,517 1454,516 1458,515.1 1462,514.2 1466,513.3 1470,512.3 1474,511.3 1478,510.1 1482,508.7 1486,507.2 1490,505.7 1494,504 1498,502.3 1502,500.4 1506,498.5 1510,496.4 1514,494.2 1518,491.7 1522,489.2 1526,486.5 1530,483.7 1534,480.8 1538,477.7 1542,474.5 1546,471.1 1550,467.6 1554,463.8 1558,459.9 1562,455.7 1566,451.1 1570,446 1574,440.6 1578,435.1 1582,429.5 1586,424 1590,418.5 1594,412.8 1598,407 1600,404.1 1602,401 1604,397.9 1606,394.7 1608,391.4 1610,388.1 1612,384.7 1614,381.3 1616,377.9 1618,374.6 1620,371.4 1622,368.1 1624,364.8 1626,361.5 1628,358.1 1630,354.7 1632,351.2 1634,347.8 1636,344.3 1638,341 1640,337.6 1641,335.8 1642,334.2 1643,332.5 1644,331 1645,329.5 1646,328.2 1647,326.9 1648,325.7 1649,324.5 1650,323.3 1651,322 1652,320.8 1653,319.5 1654,318.2 1655,316.9 1656,315.5 1657,314.2 1657.8,313.1 1657.8,313.1 1657,317.6 1656,323.1 1655,328.8 1654,334.7 1653,340.5 1652,347.1 1651,352.9 1650,357.4 1649,361.5 1648,365.8 1647,371.2 1646,376.6 1645,380.3 1644,383.5 1643,386.4 1642,389.5 1641,392.9 1640,396.7 1638,407.8 1636,421.3 1634,433.9 1632,443.6 1630,452.2 1628,460.4 1626,468.7 1624,477 1622,485 1620,492.7 1618,499.7 1616,505.9 1614,511.7 1612,517 1610,521.8 1608,526.1 1606,530 1604,533.8 1602,537.3 1600,540.7 1598,543.8 1594,549.8 1590,555.1 1586,560.1 1582,564.6 1578,569 1574,573.2 1570,577.4 1566,581.5 1562,585.2 1558,588.7 1554,591.8 1550,594.7 1546,597.4 1542,599.9 1538,602.2 1534,604.4 1530,606.4 1526,608.4 1522,610.3 1518,612.1 1514,613.8 1510,615.5 1506,617.1 1502,618.6 1498,620.2 1494,621.6 1490,623 1486,624.4 1482,625.7 1478,626.9 1474,628.1 1470,629.3 1466,630.3 1462,631.3 1458,632.3 1454,633.2 1450,634.1 1446,635 1442,635.9 1438,636.7 1434,637.6 1430,638.5 1426,639.4 1422,640.3 1418,641.3 1414,642.2 1410,643.2 1406,644.1 1402,645 1398,645.9 1394,646.7 1390,647.6 1386,648.4 1382,649.2 1378,650.1 1374,650.9 1370,651.7 1366,652.5 1362,653.3 1358,654.1 1354,654.8 1350,655.6 1346,656.3 1342,657 1338,657.7 1334,658.4 1330,659 1326,659.7 1322,660.3 1318,660.9 1314,661.4 1310,662 1306,662.6 1302,663.1 1298,663.7 1294,664.2 1290,664.8 1286,665.3 1282,665.8 1278,666.3 1274,666.7 1270,667.2 1266,667.6 1262,668.1 1258,668.5 1254,668.9 1250,669.2 1246,669.6 1242,669.9 1238,670.3 1234,670.6 1230,671 1226,671.3 1222,671.6 1218,672 1214,672.3 1210,672.7 1206,673 1202,673.3 1198,673.7 1194,674 1190,674.4 1186,674.7 1182,675 1178,675.4 1174,675.7 1170,676.1 1166,676.4 1162,676.7 1158,677.1 1154,677.4 1150,677.7 1146,678.1 1142,678.4 1138,678.7 1134,679.1 1130,679.4 1126,679.8 1122,680.1 1118,680.4 1114,680.8 1110,681.1 1106,681.5 1102,681.8 1098,682.1 1094,682.5 1090,682.8 1086,683.1 1082,683.5 1078,683.8 1074,684.1 1070,684.5 1066,684.8 1062,685.1 1058,685.4 1054,685.8 1050,686.1 1046,686.4 1042,686.7 1038,687 1034,687.3 1030,687.6 1026,687.9 1022,688.2 1018,688.5 1014,688.8 1010,689 1006,689.3 1002,689.6 998,689.9 994,690.1 990,690.4 986,690.7 982,691 978,691.3 974,691.7 970,692 966,692.4 962,692.7 958,693.1 954,693.5 950,694 946,694.4 942,694.8 938,695.2 934,695.6 930,696.1 926,696.5 922,696.9 918,697.4 914,697.8 910,698.1 906,698.5 902,698.9 898,699.2 894,699.5 890,699.9 886,700.3 882,700.6 878,701 874,701.4 870,701.9 866,702.4 862,702.9 858,703.4 854,704 850,704.5 846,705.1 842,705.7 838,706.2 834,706.8 830,707.5 826,708.1 822,708.8 818,709.5 814,710.3 810,711.1 806,712 802,712.9 798,713.9 794,714.9 790,716.1 786,717.3 782,718.6 778,720 774,721.5 770,723.1 766,725 762,727.1 758,729.6 754,732.4 750,735.4 746,738.7 742,742.7 738,747.2 734,751.3 730,755.9 726,759.9 722,763.3 718,767.2 714,771.7 710,776.2 706,780.2 702,783.5 698,786.7 694,789.6 690,792 686,794.1 682,796 678,798 674,799.9 670,801.7 666,803.6 662,805.4 658,807.3 654,809.1 650,810.9 646,812.6 642,814 638,815.1 634,815.9 630,816.4 626,816.6 622,816.8 618,816.8 614,816.7 610,816.6 606,816.3 602,815.6 598,814.4 594,812.9 590,811.2 586,809.4 582,807.6 578,806.1 574,804.8 570,803.8 566,803.1 562,802.6 558,802.3 554,802.1 550,802 546,802 542,802.2 538,802.4 534,802.8 530,803.4 526,804.3 522,805.6 518,807.2 514,808.9 510,810.6 506,812.3 502,814.1 498,816 494,818.1 490,820.3 486,822.6 482,825 478,827.4 474,830 470,832.6 465.8,835.3 459.8,839.5 453.8,843.8 448.8,847.7 443.8,851.8 439.8,855.4 435.8,859.3 431.8,863.5 428.8,866.9 425.8,870.4 422.8,874.1 420.3,877.3 417.8,880.7 415.8,883.5 413.8,886.5 412.3,888.8 411,890.8 410,892.4 409.1,893.9 408.3,895.2 407.6,896.3 407,897.3 406.5,898.2 406.1,898.8 405.8,899.3"/>
<path d="M405.8,909.7 406.1,907 406.5,903.5 407,899.2 407.6,894.3 408.3,889.2 409.1,884.3 410,879.7 411,875.1 412.3,869.8 413.8,864.1 415.8,856.4 417.8,848.7 420.3,839.3 422.8,830.2 425.8,820.1 428.8,810.9 431.8,803 435.8,793.6 439.8,785.1 443.8,777.4 448.8,768.6 453.8,760.5 459.8,751.6 465.8,743.4 470,738.2 474,733.5 478,729.2 482,725.1 486,721.2 490,717.5 494,713.9 498,710.5 502,707.2 506,704 510,700.9 514,697.8 518,694.8 522,692 526,689.2 530,686.4 534,683.8 538,681.2 542,678.6 546,676 550,673.5 554,671 558,668.8 562,667 566,665.4 570,663.9 574,662.5 578,661.1 582,659.6 586,658.2 590,656.8 594,655.4 598,654.1 602,652.8 606,651.5 610,650.2 614,648.8 618,647.2 622,645.6 626,643.9 630,642.3 634,640.7 638,639.1 642,637.5 646,635.9 650,634.4 654,632.9 658,631.5 662,630.3 666,629.2 670,628.3 674,627.4 678,626.4 682,625.2 686,623.8 690,621.9 694,618.7 698,614.9 702,610 706,605.2 710,602.2 714,599.6 718,597.1 722,594.5 726,591.4 730,588.3 734,585.5 738,583.6 742,581.9 746,580.3 750,578.6 754,576.8 758,575.1 762,573.4 766,571.6 770,569.6 774,567.9 778,567.1 782,566.8 786,566.6 790,566.3 794,565.6 798,565 802,564.5 806,563.8 810,563 814,561.8 818,560.1 822,558 826,555.7 830,553.4 834,551 838,548.5 842,545.9 846,543.1 850,540.3 854,537.4 858,534.5 862,531.4 866,528.2 870,525.1 874,522 878,518.9 882,515.7 886,512.5 890,509.4 894,506.5 898,503.6 902,500.6 906,497.8 910,495.1 914,492.9 918,491.1 922,489.7 926,488.5 930,487.7 934,487 938,486.5 942,486.2 946,486.2 950,486.4 954,486.7 958,487.2 962,487.7 966,488.2 970,488.8 974,489.3 978,490.1 982,490.9 986,491.8 990,492.7 994,493.8 998,494.9 1002,495.9 1006,497.1 1010,498.2 1014,499.3 1018,500.5 1022,501.8 1026,503.2 1030,504.6 1034,506 1038,507.5 1042,509 1046,510.4 1050,511.9 1054,513.3 1058,514.9 1062,516.4 1066,518 1070,519.5 1074,521.1 1078,522.6 1082,524 1086,525.4 1090,526.8 1094,528 1098,529.2 1102,530.4 1106,531.6 1110,532.7 1114,533.9 1118,535 1122,536.2 1126,537.3 1130,538.4 1134,539.4 1138,540.3 1142,541.2 1146,541.9 1150,542.6 1154,543.3 1158,543.9 1162,544.5 1166,545.1 1170,545.6 1174,546.2 1178,546.7 1182,547.1 1186,547.5 1190,547.9 1194,548.1 1198,548.4 1202,548.6 1206,548.7 1210,548.8 1214,548.9 1218,548.9 1222,548.9 1226,548.9 1230,548.9 1234,548.9 1238,548.9 1242,548.8 1246,548.7 1250,548.5 1254,548.4 1258,548.2 1262,548 1266,547.8 1270,547.6 1274,547.5 1278,547.3 1282,547.2 1286,547.2 1290,547.1 1294,547 1298,546.8 1302,546.5 1306,546.1 1310,545.6 1314,545.1 1318,544.5 1322,543.9 1326,543.3 1330,542.6 1334,541.9 1338,541.1 1342,540.3 1346,539.4 1350,538.6 1354,537.8 1358,536.9 1362,536.2 1366,535.4 1370,534.6 1374,533.8 1378,533.1 1382,532.3 1386,531.4 1390,530.4 1394,529.4 1398,528.5 1402,527.5 1406,526.5 1410,525.7 1414,524.8 1418,524 1422,523.2 1426,522.4 1430,521.6 1434,520.9 1438,520 1442,518.9 1446,517.7 1450,516.5 1454,515.6 1458,514.7 1462,513.8 1466,512.9 1470,511.9 1474,510.8 1478,509.6 1482,508.2 1486,506.7 1490,505.1 1494,503.4 1498,501.7 1502,499.8 1506,497.8 1510,495.7 1514,493.4 1518,490.9 1522,488.3 1526,485.6 1530,482.7 1534,479.8 1538,476.7 1542,473.4 1546,470 1550,466.3 1554,462.5 1558,458.5 1562,454.2 1566,449.5 1570,444.3 1574,438.8 1578,433.1 1582,427.3 1586,421.7 1590,416 1594,410.2 1598,404.3 1600,401.3 1602,398.2 1604,395 1606,391.7 1608,388.3 1610,384.9 1612,381.4 1614,378 1616,374.5 1618,371.1 1620,367.8 1622,364.5 1624,361.2 1626,357.7 1628,354.2 1630,350.7 1632,347.1 1634,343.5 1636,339.9 1638,336.4 1640,332.7 1641,330.9 1642,329.1 1643,327.4 1644,325.8 1645,324.3 1646,322.9 1647,321.7 1648,320.5 1649,319.4 1650,318.2 1651,316.9 1652,315.7 1653,314.4 1654,313 1655,311.7 1656,310.3 1657,308.9 1657.8,307.8 1657.8,307.8 1657,313.3 1656,319.7 1655,326.4 1654,332.9 1653,339.4 1652,346.5 1651,352.8 1650,357.7 1649,362 1648,366.6 1647,372.3 1646,378 1645,381.9 1644,385.2 1643,388.3 1642,391.4 1641,394.9 1640,398.8 1638,409.9 1636,423.3 1634,435.8 1632,445.4 1630,453.9 1628,462.1 1626,470.3 1624,478.5 1622,486.5 1620,494 1618,500.9 1616,507.1 1614,512.8 1612,518 1610,522.7 1608,527 1606,530.9 1604,534.6 1602,538.1 1600,541.4 1598,544.6 1594,550.5 1590,555.8 1586,560.7 1582,565.3 1578,569.7 1574,573.9 1570,578.1 1566,582.2 1562,586 1558,589.4 1554,592.5 1550,595.4 1546,598.1 1542,600.5 1538,602.8 1534,604.9 1530,607 1526,609 1522,610.8 1518,612.6 1514,614.3 1510,616 1506,617.6 1502,619.1 1498,620.6 1494,622.1 1490,623.5 1486,624.9 1482,626.2 1478,627.4 1474,628.6 1470,629.7 1466,630.8 1462,631.8 1458,632.7 1454,633.6 1450,634.5 1446,635.4 1442,636.2 1438,637.1 1434,637.9 1430,638.8 1426,639.7 1422,640.6 1418,641.6 1414,642.5 1410,643.4 1406,644.3 1402,645.2 1398,646.1 1394,646.9 1390,647.7 1386,648.6 1382,649.4 1378,650.2 1374,651 1370,651.8 1366,652.6 1362,653.4 1358,654.2 1354,655 1350,655.7 1346,656.5 1342,657.2 1338,657.9 1334,658.5 1330,659.2 1326,659.8 1322,660.4 1318,661 1314,661.6 1310,662.2 1306,662.7 1302,663.3 1298,663.8 1294,664.4 1290,664.9 1286,665.4 1282,665.9 1278,666.4 1274,666.9 1270,667.4 1266,667.8 1262,668.2 1258,668.7 1254,669 1250,669.4 1246,669.8 1242,670.1 1238,670.5 1234,670.8 1230,671.2 1226,671.6 1222,671.9 1218,672.3 1214,672.6 1210,673 1206,673.3 1202,673.7 1198,674 1194,674.4 1190,674.7 1186,675.1 1182,675.4 1178,675.8 1174,676.1 1170,676.5 1166,676.8 1162,677.1 1158,677.5 1154,677.8 1150,678.2 1146,678.5 1142,678.9 1138,679.2 1134,679.6 1130,679.9 1126,680.3 1122,680.6 1118,681 1114,681.3 1110,681.7 1106,682 1102,682.4 1098,682.7 1094,683 1090,683.4 1086,683.7 1082,684.1 1078,684.4 1074,684.8 1070,685.1 1066,685.4 1062,685.8 1058,686.1 1054,686.4 1050,686.8 1046,687.1 1042,687.4 1038,687.7 1034,688 1030,688.3 1026,688.6 1022,688.9 1018,689.2 1014,689.5 1010,689.8 1006,690.1 1002,690.3 998,690.6 994,690.9 990,691.2 986,691.5 982,691.8 978,692.2 974,692.5 970,692.8 966,693.2 962,693.6 958,694 954,694.5 950,694.9 946,695.3 942,695.8 938,696.2 934,696.7 930,697.1 926,697.6 922,698 918,698.5 914,698.9 910,699.3 906,699.7 902,700.1 898,700.4 894,700.8 890,701.2 886,701.6 882,702 878,702.4 874,702.9 870,703.4 866,703.9 862,704.5 858,705.1 854,705.7 850,706.3 846,706.9 842,707.5 838,708.1 834,708.8 830,709.4 826,710.1 822,710.9 818,711.6 814,712.5 810,713.3 806,714.3 802,715.2 798,716.3 794,717.4 790,718.5 786,719.8 782,721.2 778,722.6 774,724.2 770,725.8 766,727.7 762,729.9 758,732.4 754,735.2 750,738.2 746,741.5 742,745.5 738,749.9 734,754.1 730,758.7 726,762.6 722,766.1 718,770 714,774.5 710,779 706,782.9 702,786.3 698,789.4 694,792.3 690,794.7 686,796.8 682,798.8 678,800.7 674,802.6 670,804.5 666,806.4 662,808.2 658,810.1 654,811.9 650,813.8 646,815.7 642,817.6 638,819.5 634,821.1 630,822.4 626,823.4 622,824.1 618,824.6 614,825 610,825.3 606,825.3 602,824.8 598,823.7 594,822.3 590,820.5 586,818.6 582,816.8 578,815.1 574,813.8 570,812.7 566,812 562,811.5 558,811.3 554,811.1 550,811.1 546,811.3 542,811.6 538,812 534,812.5 530,813.2 526,814.3 522,815.7 518,817.4 514,819.2 510,820.9 506,822.6 502,824.5 498,826.4 494,828.6 490,830.9 486,833.3 482,835.7 478,838.3 474,840.8 470,843.5 465.8,846.3 459.8,850.5 453.8,854.8 448.8,858.7 443.8,862.8 439.8,866.4 435.8,870.2 431.8,874.4 428.8,877.8 425.8,881.3 422.8,884.9 420.3,888.1 417.8,891.4 415.8,894.2 413.8,897.1 412.3,899.3 411,901.3 410,902.9 409.1,904.3 408.3,905.6 407.6,906.8 407,907.7 406.5,908.6 406.1,909.2 405.8,909.7"/>
<path d="M405.8,920.3 406.1,917.5 406.5,913.8 407,909.4 407.6,904.4 408.3,899 409.1,893.9 410,889 411,884.2 412.3,878.6 413.8,872.6 415.8,864.4 417.8,856.4 420.3,846.5 422.8,837.1 425.8,826.5 428.8,817 431.8,808.7 435.8,798.8 439.8,789.9 443.8,781.7 448.8,772.5 453.8,764.1 459.8,754.9 465.8,746.4 470,741 474,736.2 478,731.7 482,727.5 486,723.5 490,719.6 494,715.9 498,712.4 502,709 506,705.6 510,702.4 514,699.2 518,696.1 522,693.1 526,690.2 530,687.3 534,684.6 538,681.8 542,679.1 546,676.4 550,673.7 554,671.1 558,668.8 562,666.9 566,665.2 570,663.7 574,662.2 578,660.7 582,659.2 586,657.7 590,656.2 594,654.8 598,653.5 602,652.2 606,650.9 610,649.5 614,648.1 618,646.5 622,644.8 626,643.1 630,641.5 634,639.8 638,638.1 642,636.4 646,634.8 650,633.2 654,631.8 658,630.4 662,629.2 666,628.1 670,627.3 674,626.4 678,625.5 682,624.3 686,623 690,621.1 694,617.9 698,614.1 702,609.3 706,604.6 710,601.5 714,598.8 718,596.2 722,593.4 726,590.2 730,586.9 734,584.1 738,582.2 742,580.5 746,578.9 750,577.3 754,575.6 758,574 762,572.4 766,570.6 770,568.7 774,567.2 778,566.4 782,566 786,565.8 790,565.4 794,564.6 798,563.9 802,563.2 806,562.5 810,561.6 814,560.5 818,558.9 822,556.8 826,554.4 830,551.8 834,549.3 838,546.7 842,544 846,541.1 850,538.2 854,535.1 858,532 862,528.8 866,525.5 870,522.2 874,518.8 878,515.5 882,512.2 886,508.8 890,505.5 894,502.2 898,498.9 902,495.9 906,492.7 910,489.6 914,486.7 918,484 922,481.9 926,480.1 930,478.6 934,477.4 938,476.7 942,476 946,475.4 950,475.1 954,475.1 958,475.3 962,475.7 966,476.2 970,476.7 974,477.3 978,477.9 982,478.6 986,479.4 990,480.3 994,481.3 998,482.4 1002,483.6 1006,484.8 1010,486.1 1014,487.3 1018,488.6 1022,489.9 1026,491.3 1030,492.8 1034,494.4 1038,496 1042,497.7 1046,499.3 1050,501 1054,502.6 1058,504.2 1062,505.9 1066,507.7 1070,509.5 1074,511.2 1078,513 1082,514.7 1086,516.4 1090,518.1 1094,519.6 1098,521.1 1102,522.5 1106,523.9 1110,525.2 1114,526.5 1118,527.8 1122,529.1 1126,530.5 1130,531.8 1134,533 1138,534.2 1142,535.3 1146,536.2 1150,537.1 1154,537.9 1158,538.7 1162,539.5 1166,540.2 1170,540.8 1174,541.5 1178,542.1 1182,542.7 1186,543.2 1190,543.7 1194,544.1 1198,544.4 1202,544.7 1206,544.9 1210,545.1 1214,545.3 1218,545.4 1222,545.5 1226,545.6 1230,545.6 1234,545.7 1238,545.7 1242,545.7 1246,545.7 1250,545.6 1254,545.5 1258,545.4 1262,545.2 1266,545.1 1270,544.9 1274,544.8 1278,544.7 1282,544.7 1286,544.7 1290,544.7 1294,544.6 1298,544.5 1302,544.3 1306,543.9 1310,543.5 1314,543 1318,542.5 1322,542 1326,541.4 1330,540.9 1334,540.2 1338,539.5 1342,538.8 1346,538 1350,537.2 1354,536.4 1358,535.7 1362,534.9 1366,534.2 1370,533.5 1374,532.8 1378,532.1 1382,531.3 1386,530.5 1390,529.6 1394,528.7 1398,527.7 1402,526.8 1406,525.9 1410,525.1 1414,524.3 1418,523.5 1422,522.7 1426,522 1430,521.3 1434,520.5 1438,519.6 1442,518.5 1446,517.3 1450,516.1 1454,515.2 1458,514.2 1462,513.3 1466,512.4 1470,511.5 1474,510.4 1478,509.1 1482,507.7 1486,506.2 1490,504.6 1494,502.8 1498,501 1502,499.1 1506,497.1 1510,494.9 1514,492.6 1518,490.1 1522,487.4 1526,484.6 1530,481.8 1534,478.8 1538,475.6 1542,472.3 1546,468.8 1550,465.1 1554,461.3 1558,457.1 1562,452.7 1566,447.9 1570,442.6 1574,436.9 1578,431.1 1582,425.2 1586,419.3 1590,413.5 1594,407.6 1598,401.6 1600,398.5 1602,395.3 1604,392 1606,388.7 1608,385.3 1610,381.8 1612,378.2 1614,374.6 1616,371.1 1618,367.7 1620,364.3 1622,360.9 1624,357.5 1626,354 1628,350.3 1630,346.6 1632,342.9 1634,339.2 1636,335.4 1638,331.8 1640,327.9 1641,326 1642,324.1 1643,322.3 1644,320.6 1645,319 1646,317.7 1647,316.5 1648,315.4 1649,314.2 1650,313.1 1651,311.8 1652,310.6 1653,309.2 1654,307.9 1655,306.5 1656,305.1 1657,303.7 1657.8,302.5 1657.8,302.5 1657,309 1656,316.4 1655,323.9 1654,331.2 1653,338.2 1652,345.9 1651,352.7 1650,357.9 1649,362.6 1648,367.4 1647,373.4 1646,379.4 1645,383.5 1644,386.9 1643,390.1 1642,393.3 1641,396.9 1640,400.9 1638,412 1636,425.2 1634,437.7 1632,447.3 1630,455.7 1628,463.9 1626,472 1624,480.1 1622,487.9 1620,495.4 1618,502.2 1616,508.3 1614,513.9 1612,519 1610,523.7 1608,527.9 1606,531.8 1604,535.5 1602,538.9 1600,542.2 1598,545.3 1594,551.2 1590,556.5 1586,561.4 1582,566 1578,570.4 1574,574.6 1570,578.8 1566,582.9 1562,586.7 1558,590.1 1554,593.2 1550,596 1546,598.7 1542,601.1 1538,603.4 1534,605.5 1530,607.6 1526,609.5 1522,611.4 1518,613.1 1514,614.8 1510,616.5 1506,618.1 1502,619.6 1498,621.1 1494,622.6 1490,624 1486,625.3 1482,626.6 1478,627.9 1474,629 1470,630.2 1466,631.2 1462,632.2 1458,633.1 1454,634 1450,634.9 1446,635.8 1442,636.6 1438,637.4 1434,638.3 1430,639.1 1426,640 1422,640.9 1418,641.8 1414,642.8 1410,643.7 1406,644.6 1402,645.4 1398,646.3 1394,647.1 1390,647.9 1386,648.8 1382,649.6 1378,650.4 1374,651.2 1370,652 1366,652.8 1362,653.6 1358,654.4 1354,655.1 1350,655.9 1346,656.6 1342,657.3 1338,658 1334,658.7 1330,659.3 1326,660 1322,660.6 1318,661.2 1314,661.7 1310,662.3 1306,662.9 1302,663.5 1298,664 1294,664.5 1290,665.1 1286,665.6 1282,666.1 1278,666.6 1274,667.1 1270,667.5 1266,668 1262,668.4 1258,668.8 1254,669.2 1250,669.6 1246,670 1242,670.4 1238,670.7 1234,671.1 1230,671.5 1226,671.8 1222,672.2 1218,672.5 1214,672.9 1210,673.3 1206,673.6 1202,674 1198,674.3 1194,674.7 1190,675.1 1186,675.4 1182,675.8 1178,676.1 1174,676.5 1170,676.9 1166,677.2 1162,677.6 1158,677.9 1154,678.3 1150,678.6 1146,679 1142,679.4 1138,679.7 1134,680.1 1130,680.4 1126,680.8 1122,681.1 1118,681.5 1114,681.9 1110,682.2 1106,682.6 1102,682.9 1098,683.3 1094,683.6 1090,684 1086,684.3 1082,684.7 1078,685 1074,685.4 1070,685.7 1066,686.1 1062,686.4 1058,686.8 1054,687.1 1050,687.4 1046,687.8 1042,688.1 1038,688.4 1034,688.7 1030,689.1 1026,689.4 1022,689.7 1018,690 1014,690.2 1010,690.5 1006,690.8 1002,691.1 998,691.4 994,691.7 990,692 986,692.3 982,692.6 978,693 974,693.3 970,693.7 966,694.1 962,694.5 958,694.9 954,695.4 950,695.8 946,696.3 942,696.7 938,697.2 934,697.7 930,698.1 926,698.6 922,699.1 918,699.6 914,700 910,700.5 906,700.9 902,701.3 898,701.7 894,702.1 890,702.5 886,702.9 882,703.4 878,703.9 874,704.4 870,704.9 866,705.5 862,706.1 858,706.7 854,707.3 850,708 846,708.7 842,709.3 838,710 834,710.7 830,711.4 826,712.2 822,712.9 818,713.8 814,714.6 810,715.6 806,716.5 802,717.6 798,718.7 794,719.8 790,721 786,722.4 782,723.8 778,725.2 774,726.8 770,728.6 766,730.5 762,732.7 758,735.2 754,738 750,741 746,744.4 742,748.3 738,752.7 734,756.9 730,761.5 726,765.4 722,768.9 718,772.8 714,777.3 710,781.7 706,785.6 702,789 698,792.1 694,795 690,797.4 686,799.5 682,801.5 678,803.4 674,805.4 670,807.2 666,809.1 662,811 658,812.9 654,814.7 650,816.6 646,818.6 642,820.5 638,822.4 634,824.3 630,826.1 626,827.8 622,829.4 618,830.8 614,831.8 610,832.7 606,833.2 602,833.1 598,832.3 594,831 590,829.3 586,827.4 582,825.5 578,823.9 574,822.5 570,821.4 566,820.7 562,820.3 558,820.1 554,820.2 550,820.4 546,820.9 542,821.5 538,822.3 534,823.2 530,824.3 526,825.7 522,827.3 518,829.1 514,830.8 510,832.6 506,834.4 502,836.2 498,838.3 494,840.5 490,842.9 486,845.4 482,847.8 478,850.4 474,853 470,855.7 465.8,858.5 459.8,862.6 453.8,866.9 448.8,870.7 443.8,874.8 439.8,878.3 435.8,882 431.8,886.1 428.8,889.4 425.8,892.8 422.8,896.3 420.3,899.4 417.8,902.6 415.8,905.3 413.8,908.1 412.3,910.3 411,912.2 410,913.7 409.1,915.1 408.3,916.3 407.6,917.4 407,918.4 406.5,919.2 406.1,919.8 405.8,920.3"/>
<path d="M405.8,931 406.1,928.2 406.5,924.4 407,919.8 407.6,914.6 408.3,909.1 409.1,903.7 410,898.5 411,893.5 412.3,887.6 413.8,881.2 415.8,872.6 417.8,864.2 420.3,853.9 422.8,844.1 425.8,833 428.8,823.1 431.8,814.5 435.8,804.1 439.8,794.7 443.8,786.2 448.8,776.6 453.8,767.8 459.8,758.2 465.8,749.5 470,743.9 474,738.9 478,734.3 482,729.9 486,725.8 490,721.8 494,718 498,714.3 502,710.8 506,707.3 510,703.9 514,700.6 518,697.4 522,694.3 526,691.2 530,688.2 534,685.3 538,682.5 542,679.7 546,676.8 550,674 554,671.3 558,668.8 562,666.8 566,665 570,663.4 574,661.9 578,660.3 582,658.7 586,657.1 590,655.6 594,654.2 598,652.8 602,651.5 606,650.2 610,648.9 614,647.4 618,645.8 622,644 626,642.3 630,640.6 634,638.8 638,637.1 642,635.3 646,633.7 650,632.1 654,630.6 658,629.2 662,628 666,627.1 670,626.3 674,625.5 678,624.6 682,623.5 686,622.2 690,620.3 694,617.1 698,613.3 702,608.7 706,604.1 710,600.9 714,598.1 718,595.4 722,592.5 726,589.2 730,585.7 734,582.8 738,580.9 742,579.2 746,577.7 750,576.2 754,574.6 758,572.9 762,571.4 766,569.7 770,568 774,566.5 778,565.7 782,565.3 786,565 790,564.6 794,563.7 798,562.9 802,562.1 806,561.3 810,560.5 814,559.4 818,557.8 822,555.8 826,553.4 830,550.8 834,548 838,545.3 842,542.5 846,539.6 850,536.6 854,533.4 858,530.2 862,526.9 866,523.5 870,520.1 874,516.6 878,513.1 882,509.6 886,506.1 890,502.6 894,499.1 898,495.6 902,492.2 906,488.9 910,485.7 914,482.4 918,479.2 922,476.3 926,473.7 930,471.7 934,469.9 938,468.5 942,467.4 946,466.6 950,465.9 954,465.3 958,465 962,465 966,465.3 970,465.7 974,466.2 978,466.8 982,467.4 986,468 990,468.8 994,469.7 998,470.7 1002,471.9 1006,473.1 1010,474.4 1014,475.8 1018,477.2 1022,478.6 1026,480 1030,481.6 1034,483.2 1038,484.9 1042,486.7 1046,488.5 1050,490.3 1054,492.1 1058,494 1062,495.8 1066,497.6 1070,499.5 1074,501.5 1078,503.5 1082,505.5 1086,507.4 1090,509.3 1094,511.2 1098,512.9 1102,514.6 1106,516.2 1110,517.8 1114,519.3 1118,520.7 1122,522.2 1126,523.7 1130,525.1 1134,526.6 1138,528 1142,529.4 1146,530.6 1150,531.7 1154,532.7 1158,533.6 1162,534.5 1166,535.4 1170,536.2 1174,536.9 1178,537.7 1182,538.4 1186,539 1190,539.6 1194,540.2 1198,540.7 1202,541 1206,541.4 1210,541.6 1214,541.9 1218,542.1 1222,542.2 1226,542.4 1230,542.5 1234,542.7 1238,542.8 1242,542.8 1246,542.9 1250,542.9 1254,542.8 1258,542.8 1262,542.7 1266,542.5 1270,542.4 1274,542.4 1278,542.3 1282,542.3 1286,542.3 1290,542.4 1294,542.4 1298,542.3 1302,542.2 1306,541.9 1310,541.5 1314,541.1 1318,540.7 1322,540.2 1326,539.7 1330,539.2 1334,538.6 1338,538 1342,537.3 1346,536.6 1350,535.9 1354,535.2 1358,534.5 1362,533.8 1366,533.1 1370,532.4 1374,531.8 1378,531.1 1382,530.4 1386,529.6 1390,528.8 1394,527.9 1398,527 1402,526.2 1406,525.3 1410,524.5 1414,523.8 1418,523 1422,522.3 1426,521.6 1430,520.9 1434,520.2 1438,519.4 1442,518.2 1446,516.9 1450,515.8 1454,514.8 1458,513.9 1462,513 1466,512 1470,511.1 1474,510 1478,508.7 1482,507.3 1486,505.7 1490,504 1494,502.3 1498,500.4 1502,498.4 1506,496.3 1510,494.1 1514,491.8 1518,489.2 1522,486.6 1526,483.7 1530,480.8 1534,477.8 1538,474.6 1542,471.2 1546,467.7 1550,463.9 1554,460 1558,455.8 1562,451.3 1566,446.4 1570,440.9 1574,435.1 1578,429.1 1582,423 1586,416.9 1590,411 1594,405 1598,398.8 1600,395.7 1602,392.4 1604,389.1 1606,385.7 1608,382.2 1610,378.6 1612,375 1614,371.3 1616,367.7 1618,364.2 1620,360.7 1622,357.3 1624,353.8 1626,350.2 1628,346.5 1630,342.6 1632,338.8 1634,334.9 1636,331 1638,327.2 1640,323.1 1641,321.1 1642,319.1 1643,317.1 1644,315.4 1645,313.8 1646,312.5 1647,311.3 1648,310.2 1649,309.1 1650,307.9 1651,306.7 1652,305.4 1653,304.1 1654,302.8 1655,301.3 1656,299.9 1657,298.4 1657.8,297.2 1657.8,297.2 1657,304.6 1656,313.1 1655,321.4 1654,329.5 1653,337.1 1652,345.4 1651,352.6 1650,358.2 1649,363.1 1648,368.2 1647,374.6 1646,380.8 1645,385.1 1644,388.7 1643,391.9 1642,395.3 1641,398.9 1640,403 1638,414.1 1636,427.2 1634,439.6 1632,449.1 1630,457.5 1628,465.6 1626,473.6 1624,481.6 1622,489.4 1620,496.7 1618,503.4 1616,509.5 1614,515 1612,520.1 1610,524.7 1608,528.8 1606,532.7 1604,536.3 1602,539.7 1600,543 1598,546.1 1594,551.9 1590,557.2 1586,562.1 1582,566.7 1578,571 1574,575.3 1570,579.5 1566,583.6 1562,587.4 1558,590.7 1554,593.8 1550,596.7 1546,599.3 1542,601.7 1538,604 1534,606.1 1530,608.1 1526,610.1 1522,611.9 1518,613.7 1514,615.4 1510,617 1506,618.6 1502,620.1 1498,621.6 1494,623.1 1490,624.5 1486,625.8 1482,627.1 1478,628.3 1474,629.5 1470,630.6 1466,631.6 1462,632.6 1458,633.5 1454,634.4 1450,635.3 1446,636.1 1442,637 1438,637.8 1434,638.6 1430,639.5 1426,640.3 1422,641.2 1418,642.1 1414,643 1410,643.9 1406,644.8 1402,645.6 1398,646.5 1394,647.3 1390,648.1 1386,648.9 1382,649.7 1378,650.6 1374,651.4 1370,652.2 1366,653 1362,653.7 1358,654.5 1354,655.3 1350,656 1346,656.8 1342,657.5 1338,658.2 1334,658.8 1330,659.5 1326,660.1 1322,660.7 1318,661.3 1314,661.9 1310,662.5 1306,663 1302,663.6 1298,664.2 1294,664.7 1290,665.2 1286,665.8 1282,666.3 1278,666.8 1274,667.2 1270,667.7 1266,668.2 1262,668.6 1258,669 1254,669.4 1250,669.8 1246,670.2 1242,670.6 1238,670.9 1234,671.3 1230,671.7 1226,672.1 1222,672.4 1218,672.8 1214,673.2 1210,673.6 1206,673.9 1202,674.3 1198,674.7 1194,675 1190,675.4 1186,675.8 1182,676.2 1178,676.5 1174,676.9 1170,677.3 1166,677.6 1162,678 1158,678.4 1154,678.7 1150,679.1 1146,679.5 1142,679.8 1138,680.2 1134,680.6 1130,680.9 1126,681.3 1122,681.7 1118,682 1114,682.4 1110,682.8 1106,683.1 1102,683.5 1098,683.8 1094,684.2 1090,684.6 1086,684.9 1082,685.3 1078,685.6 1074,686 1070,686.4 1066,686.7 1062,687.1 1058,687.4 1054,687.8 1050,688.1 1046,688.4 1042,688.8 1038,689.1 1034,689.5 1030,689.8 1026,690.1 1022,690.4 1018,690.7 1014,691 1010,691.3 1006,691.6 1002,691.9 998,692.2 994,692.5 990,692.8 986,693.1 982,693.5 978,693.8 974,694.2 970,694.5 966,694.9 962,695.4 958,695.8 954,696.3 950,696.7 946,697.2 942,697.7 938,698.2 934,698.7 930,699.2 926,699.7 922,700.2 918,700.7 914,701.2 910,701.6 906,702.1 902,702.5 898,702.9 894,703.4 890,703.8 886,704.3 882,704.8 878,705.3 874,705.8 870,706.4 866,707 862,707.7 858,708.3 854,709 850,709.7 846,710.4 842,711.2 838,711.9 834,712.6 830,713.4 826,714.2 822,715 818,715.9 814,716.8 810,717.8 806,718.8 802,719.9 798,721 794,722.2 790,723.5 786,724.9 782,726.3 778,727.9 774,729.5 770,731.3 766,733.3 762,735.5 758,738 754,740.8 750,743.9 746,747.2 742,751.1 738,755.5 734,759.7 730,764.2 726,768.2 722,771.7 718,775.6 714,780.1 710,784.4 706,788.3 702,791.7 698,794.8 694,797.7 690,800.1 686,802.2 682,804.2 678,806.2 674,808.1 670,810 666,811.9 662,813.8 658,815.6 654,817.5 650,819.5 646,821.4 642,823.3 638,825.3 634,827.2 630,829 626,830.9 622,832.8 618,834.7 614,836.6 610,838.4 606,839.6 602,840.2 598,839.9 594,838.9 590,837.4 586,835.6 582,833.9 578,832.2 574,830.9 570,829.9 566,829.3 562,828.9 558,828.9 554,829.1 550,829.5 546,830.3 542,831.3 538,832.4 534,833.6 530,835 526,836.7 522,838.5 518,840.4 514,842.2 510,844 506,845.8 502,847.7 498,849.8 494,852.1 490,854.6 486,857.1 482,859.6 478,862.2 474,864.9 470,867.6 465.8,870.4 459.8,874.5 453.8,878.8 448.8,882.6 443.8,886.6 439.8,890 435.8,893.7 431.8,897.7 428.8,900.9 425.8,904.3 422.8,907.7 420.3,910.7 417.8,913.8 415.8,916.4 413.8,919.2 412.3,921.3 411,923.2 410,924.6 409.1,926 408.3,927.2 407.6,928.3 407,929.2 406.5,929.9 406.1,930.6 405.8,931"/>
<path d="M405.8,942 406.1,939 406.5,935.1 407,930.4 407.6,925 408.3,919.2 409.1,913.6 410,908.2 411,902.9 412.3,896.6 413.8,889.9 415.8,880.9 417.8,872.1 420.3,861.4 422.8,851.1 425.8,839.7 428.8,829.4 431.8,820.4 435.8,809.5 439.8,799.7 443.8,790.7 448.8,780.7 453.8,771.6 459.8,761.7 465.8,752.6 470,746.9 474,741.7 478,736.9 482,732.4 486,728.1 490,724 494,720 498,716.2 502,712.6 506,709 510,705.5 514,702 518,698.7 522,695.4 526,692.3 530,689.2 534,686.1 538,683.2 542,680.2 546,677.2 550,674.2 554,671.4 558,668.9 562,666.7 566,664.9 570,663.2 574,661.6 578,659.9 582,658.3 586,656.6 590,655 594,653.5 598,652.1 602,650.8 606,649.6 610,648.2 614,646.7 618,645.1 622,643.3 626,641.5 630,639.7 634,637.9 638,636.1 642,634.2 646,632.5 650,631 654,629.5 658,628.1 662,626.9 666,626 670,625.3 674,624.6 678,623.7 682,622.7 686,621.4 690,619.6 694,616.4 698,612.7 702,608.1 706,603.5 710,600.4 714,597.4 718,594.6 722,591.6 726,588.2 730,584.6 734,581.6 738,579.7 742,578.1 746,576.6 750,575.1 754,573.6 758,572 762,570.5 766,569 770,567.3 774,565.9 778,565.1 782,564.7 786,564.4 790,563.9 794,563 798,562.1 802,561.2 806,560.3 810,559.4 814,558.4 818,556.9 822,555 826,552.6 830,549.9 834,547.1 838,544.2 842,541.4 846,538.5 850,535.4 854,532.1 858,528.8 862,525.4 866,522 870,518.5 874,514.9 878,511.3 882,507.7 886,504.1 890,500.5 894,496.8 898,493.2 902,489.5 906,486 910,482.5 914,479.2 918,475.8 922,472.5 926,469.3 930,466.5 934,464.1 938,462.2 942,460.5 946,459.1 950,458.1 954,457.3 958,456.6 962,456.1 966,455.8 970,455.8 974,456.1 978,456.6 982,457.1 986,457.8 990,458.4 994,459.1 998,460 1002,461 1006,462.2 1010,463.5 1014,464.9 1018,466.4 1022,467.9 1026,469.4 1030,471 1034,472.6 1038,474.3 1042,476.1 1046,478 1050,480 1054,482 1058,484 1062,486 1066,488 1070,490 1074,492 1078,494.2 1082,496.3 1086,498.5 1090,500.7 1094,502.8 1098,504.9 1102,506.8 1106,508.7 1110,510.5 1114,512.2 1118,513.8 1122,515.5 1126,517.1 1130,518.7 1134,520.3 1138,521.9 1142,523.5 1146,525 1150,526.4 1154,527.6 1158,528.7 1162,529.8 1166,530.7 1170,531.7 1174,532.6 1178,533.4 1182,534.2 1186,535 1190,535.7 1194,536.4 1198,537 1202,537.5 1206,537.9 1210,538.3 1214,538.6 1218,538.9 1222,539.1 1226,539.4 1230,539.6 1234,539.8 1238,539.9 1242,540.1 1246,540.2 1250,540.3 1254,540.3 1258,540.3 1262,540.2 1266,540.2 1270,540.1 1274,540 1278,540 1282,540 1286,540.1 1290,540.2 1294,540.3 1298,540.3 1302,540.2 1306,540 1310,539.7 1314,539.3 1318,538.9 1322,538.5 1326,538.1 1330,537.6 1334,537.1 1338,536.6 1342,536 1346,535.3 1350,534.6 1354,534 1358,533.4 1362,532.7 1366,532.1 1370,531.5 1374,530.8 1378,530.2 1382,529.5 1386,528.8 1390,528 1394,527.2 1398,526.4 1402,525.6 1406,524.8 1410,524 1414,523.3 1418,522.6 1422,521.9 1426,521.3 1430,520.6 1434,520 1438,519.1 1442,517.9 1446,516.6 1450,515.4 1454,514.4 1458,513.5 1462,512.6 1466,511.7 1470,510.7 1474,509.6 1478,508.3 1482,506.8 1486,505.2 1490,503.5 1494,501.7 1498,499.8 1502,497.8 1506,495.6 1510,493.4 1514,491 1518,488.4 1522,485.7 1526,482.8 1530,479.9 1534,476.8 1538,473.6 1542,470.1 1546,466.5 1550,462.7 1554,458.7 1558,454.4 1562,449.8 1566,444.8 1570,439.2 1574,433.3 1578,427 1582,420.8 1586,414.6 1590,408.5 1594,402.3 1598,396.1 1600,392.8 1602,389.6 1604,386.2 1606,382.7 1608,379.1 1610,375.4 1612,371.7 1614,368 1616,364.3 1618,360.7 1620,357.2 1622,353.7 1624,350.1 1626,346.4 1628,342.6 1630,338.6 1632,334.6 1634,330.6 1636,326.5 1638,322.6 1640,318.3 1641,316.1 1642,314 1643,312 1644,310.2 1645,308.6 1646,307.2 1647,306.1 1648,305 1649,303.9 1650,302.8 1651,301.6 1652,300.3 1653,299 1654,297.6 1655,296.2 1656,294.7 1657,293.1 1657.8,291.9 1657.8,291.9 1657,300.3 1656,309.8 1655,319 1654,327.7 1653,336 1652,344.8 1651,352.5 1650,358.4 1649,363.6 1648,369 1647,375.7 1646,382.2 1645,386.7 1644,390.4 1643,393.8 1642,397.2 1641,401 1640,405.1 1638,416.1 1636,429.2 1634,441.4 1632,450.9 1630,459.3 1628,467.3 1626,475.3 1624,483.2 1622,490.8 1620,498 1618,504.7 1616,510.6 1614,516.1 1612,521.1 1610,525.7 1608,529.8 1606,533.6 1604,537.1 1602,540.5 1600,543.7 1598,546.8 1594,552.6 1590,557.9 1586,562.8 1582,567.4 1578,571.7 1574,576 1570,580.2 1566,584.3 1562,588.1 1558,591.4 1554,594.5 1550,597.4 1546,600 1542,602.3 1538,604.6 1534,606.7 1530,608.7 1526,610.6 1522,612.5 1518,614.2 1514,615.9 1510,617.5 1506,619.1 1502,620.6 1498,622.1 1494,623.5 1490,624.9 1486,626.3 1482,627.6 1478,628.8 1474,630 1470,631 1466,632.1 1462,633 1458,634 1454,634.8 1450,635.7 1446,636.5 1442,637.3 1438,638.2 1434,639 1430,639.8 1426,640.6 1422,641.5 1418,642.4 1414,643.3 1410,644.1 1406,645 1402,645.9 1398,646.7 1394,647.5 1390,648.3 1386,649.1 1382,649.9 1378,650.7 1374,651.5 1370,652.3 1366,653.1 1362,653.9 1358,654.7 1354,655.4 1350,656.2 1346,656.9 1342,657.6 1338,658.3 1334,659 1330,659.6 1326,660.3 1322,660.9 1318,661.5 1314,662.1 1310,662.6 1306,663.2 1302,663.8 1298,664.3 1294,664.9 1290,665.4 1286,665.9 1282,666.4 1278,666.9 1274,667.4 1270,667.9 1266,668.3 1262,668.8 1258,669.2 1254,669.6 1250,670 1246,670.4 1242,670.8 1238,671.2 1234,671.6 1230,671.9 1226,672.3 1222,672.7 1218,673.1 1214,673.5 1210,673.9 1206,674.2 1202,674.6 1198,675 1194,675.4 1190,675.8 1186,676.1 1182,676.5 1178,676.9 1174,677.3 1170,677.7 1166,678 1162,678.4 1158,678.8 1154,679.2 1150,679.5 1146,679.9 1142,680.3 1138,680.7 1134,681 1130,681.4 1126,681.8 1122,682.2 1118,682.5 1114,682.9 1110,683.3 1106,683.7 1102,684 1098,684.4 1094,684.8 1090,685.2 1086,685.5 1082,685.9 1078,686.3 1074,686.6 1070,687 1066,687.4 1062,687.7 1058,688.1 1054,688.4 1050,688.8 1046,689.1 1042,689.5 1038,689.8 1034,690.2 1030,690.5 1026,690.8 1022,691.1 1018,691.4 1014,691.7 1010,692 1006,692.3 1002,692.6 998,692.9 994,693.3 990,693.6 986,693.9 982,694.3 978,694.6 974,695 970,695.4 966,695.8 962,696.2 958,696.7 954,697.2 950,697.7 946,698.2 942,698.7 938,699.2 934,699.7 930,700.2 926,700.7 922,701.3 918,701.8 914,702.3 910,702.8 906,703.3 902,703.7 898,704.2 894,704.7 890,705.1 886,705.6 882,706.2 878,706.7 874,707.3 870,707.9 866,708.6 862,709.2 858,710 854,710.7 850,711.5 846,712.2 842,713 838,713.8 834,714.6 830,715.4 826,716.2 822,717.1 818,718 814,719 810,720 806,721.1 802,722.2 798,723.4 794,724.7 790,726 786,727.4 782,728.9 778,730.5 774,732.2 770,734 766,736 762,738.3 758,740.9 754,743.7 750,746.7 746,750 742,753.9 738,758.3 734,762.5 730,767 726,771 722,774.5 718,778.4 714,782.8 710,787.2 706,791.1 702,794.4 698,797.5 694,800.4 690,802.8 686,804.9 682,806.9 678,808.9 674,810.8 670,812.7 666,814.6 662,816.5 658,818.4 654,820.3 650,822.3 646,824.2 642,826.2 638,828.2 634,830.1 630,831.9 626,833.8 622,835.7 618,837.7 614,839.9 610,842.1 606,844.1 602,845.4 598,845.8 594,845.3 590,844.2 586,842.8 582,841.2 578,839.7 574,838.5 570,837.7 566,837.2 562,837 558,837.1 554,837.5 550,838.2 546,839.3 542,840.7 538,842.2 534,843.8 530,845.5 526,847.4 522,849.4 518,851.4 514,853.3 510,855.1 506,857 502,859 498,861.1 494,863.5 490,866.1 486,868.7 482,871.3 478,873.9 474,876.6 470,879.3 465.8,882.2 459.8,886.4 453.8,890.6 448.8,894.4 443.8,898.4 439.8,901.8 435.8,905.4 431.8,909.4 428.8,912.5 425.8,915.8 422.8,919.2 420.3,922.1 417.8,925.2 415.8,927.7 413.8,930.4 412.3,932.5 411,934.3 410,935.7 409.1,937.1 408.3,938.2 407.6,939.3 407,940.2 406.5,940.9 406.1,941.5 405.8,942"/>
<path d="M405.8,953.1 406.1,950.1 406.5,946 407,941.1 407.6,935.5 408.3,929.6 409.1,923.7 410,918.1 411,912.5 412.3,905.9 413.8,898.8 415.8,889.4 417.8,880.2 420.3,869 422.8,858.4 425.8,846.4 428.8,835.7 431.8,826.3 435.8,815 439.8,804.7 443.8,795.3 448.8,784.8 453.8,775.4 459.8,765.1 465.8,755.8 470,749.8 474,744.5 478,739.6 482,734.9 486,730.4 490,726.2 494,722.1 498,718.2 502,714.4 506,710.7 510,707.1 514,703.5 518,700 522,696.7 526,693.4 530,690.2 534,687 538,683.9 542,680.9 546,677.7 550,674.7 554,671.7 558,669.1 562,666.8 566,664.9 570,663.1 574,661.5 578,659.8 582,658 586,656.4 590,654.7 594,653.2 598,651.7 602,650.4 606,649.1 610,647.8 614,646.3 618,644.6 622,642.7 626,640.9 630,639.1 634,637.3 638,635.4 642,633.5 646,631.8 650,630.2 654,628.6 658,627.3 662,626.1 666,625.2 670,624.5 674,623.8 678,623.1 682,622 686,620.8 690,619 694,615.8 698,612 702,607.5 706,603.1 710,599.8 714,596.8 718,593.9 722,590.8 726,587.3 730,583.6 734,580.5 738,578.6 742,577 746,575.6 750,574.1 754,572.6 758,571.1 762,569.7 766,568.2 770,566.6 774,565.3 778,564.5 782,564.1 786,563.7 790,563.2 794,562.2 798,561.3 802,560.3 806,559.3 810,558.4 814,557.4 818,556 822,554.2 826,551.9 830,549.2 834,546.3 838,543.3 842,540.3 846,537.4 850,534.3 854,531 858,527.6 862,524.1 866,520.6 870,517 874,513.4 878,509.7 882,506 886,502.2 890,498.5 894,494.8 898,491 902,487.2 906,483.5 910,479.8 914,476.2 918,472.8 922,469.3 926,465.9 930,462.6 934,459.5 938,456.9 942,454.7 946,452.9 950,451.3 954,450.1 958,449.2 962,448.4 966,447.7 970,447.2 974,447.1 978,447.2 982,447.5 986,448 990,448.7 994,449.4 998,450.1 1002,450.9 1006,451.9 1010,453.1 1014,454.5 1018,455.9 1022,457.5 1026,459.1 1030,460.8 1034,462.5 1038,464.2 1042,466 1046,467.9 1050,469.9 1054,472 1058,474.2 1062,476.3 1066,478.5 1070,480.7 1074,482.9 1078,485.1 1082,487.4 1086,489.7 1090,492.1 1094,494.4 1098,496.7 1102,499 1106,501.2 1110,503.2 1114,505.2 1118,507 1122,508.8 1126,510.6 1130,512.3 1134,514.1 1138,515.9 1142,517.6 1146,519.4 1150,521 1154,522.5 1158,523.8 1162,525 1166,526.2 1170,527.3 1174,528.3 1178,529.2 1182,530.2 1186,531 1190,531.9 1194,532.7 1198,533.4 1202,534.1 1206,534.6 1210,535.1 1214,535.5 1218,535.8 1222,536.1 1226,536.4 1230,536.7 1234,537 1238,537.2 1242,537.4 1246,537.6 1250,537.8 1254,537.9 1258,537.9 1262,537.9 1266,537.9 1270,537.9 1274,537.8 1278,537.8 1282,537.9 1286,538 1290,538.1 1294,538.2 1298,538.3 1302,538.3 1306,538.1 1310,537.8 1314,537.5 1318,537.2 1322,536.8 1326,536.5 1330,536.1 1334,535.7 1338,535.2 1342,534.6 1346,534 1350,533.4 1354,532.9 1358,532.3 1362,531.7 1366,531.1 1370,530.5 1374,529.9 1378,529.3 1382,528.7 1386,528.1 1390,527.3 1394,526.6 1398,525.8 1402,525 1406,524.2 1410,523.5 1414,522.9 1418,522.2 1422,521.6 1426,520.9 1430,520.3 1434,519.7 1438,518.8 1442,517.7 1446,516.3 1450,515.1 1454,514.1 1458,513.2 1462,512.2 1466,511.3 1470,510.3 1474,509.2 1478,507.9 1482,506.4 1486,504.8 1490,503 1494,501.1 1498,499.2 1502,497.1 1506,494.9 1510,492.6 1514,490.2 1518,487.6 1522,484.8 1526,481.9 1530,478.9 1534,475.8 1538,472.5 1542,469.1 1546,465.4 1550,461.5 1554,457.4 1558,453.1 1562,448.4 1566,443.2 1570,437.5 1574,431.4 1578,425 1582,418.6 1586,412.2 1590,406 1594,399.7 1598,393.3 1600,390 1602,386.7 1604,383.2 1606,379.7 1608,376 1610,372.3 1612,368.5 1614,364.7 1616,360.9 1618,357.2 1620,353.7 1622,350.1 1624,346.4 1626,342.6 1628,338.7 1630,334.6 1632,330.5 1634,326.3 1636,322.1 1638,318 1640,313.5 1641,311.2 1642,309 1643,306.9 1644,305 1645,303.3 1646,302 1647,300.9 1648,299.8 1649,298.8 1650,297.7 1651,296.5 1652,295.2 1653,293.9 1654,292.5 1655,291 1656,289.5 1657,287.9 1657.8,286.6 1657.8,286.6 1657,296 1656,306.5 1655,316.5 1654,326 1653,334.8 1652,344.3 1651,352.4 1650,358.7 1649,364.2 1648,369.8 1647,376.8 1646,383.6 1645,388.3 1644,392.1 1643,395.6 1642,399.1 1641,403 1640,407.2 1638,418.2 1636,431.1 1634,443.3 1632,452.8 1630,461.1 1628,469 1626,476.9 1624,484.7 1622,492.3 1620,499.4 1618,505.9 1616,511.8 1614,517.2 1612,522.1 1610,526.6 1608,530.7 1606,534.4 1604,538 1602,541.3 1600,544.5 1598,547.6 1594,553.3 1590,558.6 1586,563.5 1582,568.1 1578,572.4 1574,576.7 1570,580.9 1566,585 1562,588.8 1558,592.1 1554,595.2 1550,598 1546,600.6 1542,603 1538,605.2 1534,607.3 1530,609.3 1526,611.2 1522,613 1518,614.7 1514,616.4 1510,618 1506,619.6 1502,621.1 1498,622.6 1494,624 1490,625.4 1486,626.7 1482,628 1478,629.3 1474,630.4 1470,631.5 1466,632.5 1462,633.5 1458,634.4 1454,635.2 1450,636.1 1446,636.9 1442,637.7 1438,638.5 1434,639.3 1430,640.1 1426,641 1422,641.8 1418,642.7 1414,643.5 1410,644.4 1406,645.2 1402,646.1 1398,646.9 1394,647.7 1390,648.5 1386,649.3 1382,650.1 1378,650.9 1374,651.7 1370,652.5 1366,653.3 1362,654.1 1358,654.8 1354,655.6 1350,656.3 1346,657.1 1342,657.8 1338,658.5 1334,659.1 1330,659.8 1326,660.4 1322,661 1318,661.6 1314,662.2 1310,662.8 1306,663.4 1302,663.9 1298,664.5 1294,665 1290,665.5 1286,666.1 1282,666.6 1278,667.1 1274,667.6 1270,668 1266,668.5 1262,669 1258,669.4 1254,669.8 1250,670.2 1246,670.6 1242,671 1238,671.4 1234,671.8 1230,672.2 1226,672.6 1222,673 1218,673.4 1214,673.8 1210,674.2 1206,674.6 1202,674.9 1198,675.3 1194,675.7 1190,676.1 1186,676.5 1182,676.9 1178,677.3 1174,677.7 1170,678.1 1166,678.5 1162,678.8 1158,679.2 1154,679.6 1150,680 1146,680.4 1142,680.8 1138,681.2 1134,681.5 1130,681.9 1126,682.3 1122,682.7 1118,683.1 1114,683.5 1110,683.8 1106,684.2 1102,684.6 1098,685 1094,685.4 1090,685.7 1086,686.1 1082,686.5 1078,686.9 1074,687.2 1070,687.6 1066,688 1062,688.4 1058,688.7 1054,689.1 1050,689.4 1046,689.8 1042,690.2 1038,690.5 1034,690.9 1030,691.2 1026,691.5 1022,691.8 1018,692.2 1014,692.5 1010,692.8 1006,693.1 1002,693.4 998,693.7 994,694 990,694.4 986,694.7 982,695.1 978,695.4 974,695.8 970,696.2 966,696.7 962,697.1 958,697.6 954,698.1 950,698.6 946,699.1 942,699.6 938,700.2 934,700.7 930,701.2 926,701.8 922,702.3 918,702.9 914,703.4 910,703.9 906,704.5 902,704.9 898,705.4 894,705.9 890,706.5 886,707 882,707.5 878,708.1 874,708.7 870,709.4 866,710.1 862,710.8 858,711.6 854,712.4 850,713.2 846,714 842,714.8 838,715.6 834,716.5 830,717.3 826,718.2 822,719.1 818,720.1 814,721.1 810,722.2 806,723.4 802,724.5 798,725.8 794,727.1 790,728.5 786,730 782,731.5 778,733.2 774,734.9 770,736.8 766,738.8 762,741.1 758,743.7 754,746.5 750,749.5 746,752.8 742,756.7 738,761.1 734,765.2 730,769.8 726,773.8 722,777.3 718,781.3 714,785.6 710,789.9 706,793.8 702,797.1 698,800.2 694,803.1 690,805.5 686,807.7 682,809.7 678,811.6 674,813.6 670,815.5 666,817.4 662,819.3 658,821.2 654,823.1 650,825.1 646,827 642,829 638,831 634,832.9 630,834.8 626,836.7 622,838.7 618,840.7 614,842.9 610,845.3 606,847.6 602,849.4 598,850.4 594,850.5 590,849.9 586,848.8 582,847.5 578,846.3 574,845.3 570,844.7 566,844.4 562,844.4 558,844.7 554,845.3 550,846.3 546,847.7 542,849.3 538,851.1 534,853 530,855.1 526,857.3 522,859.5 518,861.6 514,863.6 510,865.6 506,867.6 502,869.6 498,871.9 494,874.4 490,877.1 486,879.8 482,882.5 478,885.3 474,888 470,890.8 465.8,893.8 459.8,898 453.8,902.3 448.8,906.1 443.8,910.1 439.8,913.5 435.8,917.1 431.8,921 428.8,924.1 425.8,927.4 422.8,930.7 420.3,933.6 417.8,936.6 415.8,939.1 413.8,941.8 412.3,943.8 411,945.6 410,947 409.1,948.3 408.3,949.4 407.6,950.4 407,951.3 406.5,952 406.1,952.6 405.8,953.1"/>
<path d="M405.8,964.4 406.1,961.2 406.5,957.1 407,952 407.6,946.2 408.3,940.1 409.1,934 410,928.1 411,922.2 412.3,915.2 413.8,907.7 415.8,897.9 417.8,888.4 420.3,876.7 422.8,865.7 425.8,853.3 428.8,842.1 431.8,832.4 435.8,820.5 439.8,809.8 443.8,800 448.8,789 453.8,779.3 459.8,768.6 465.8,759 470,752.9 474,747.4 478,742.3 482,737.4 486,732.8 490,728.4 494,724.2 498,720.1 502,716.2 506,712.4 510,708.7 514,705 518,701.4 522,697.9 526,694.6 530,691.3 534,688.1 538,684.9 542,681.7 546,678.6 550,675.4 554,672.4 558,669.7 562,667.4 566,665.4 570,663.6 574,661.9 578,660.1 582,658.4 586,656.6 590,655 594,653.4 598,651.9 602,650.6 606,649.3 610,647.9 614,646.4 618,644.6 622,642.8 626,640.9 630,639.1 634,637.3 638,635.4 642,633.5 646,631.7 650,630.1 654,628.6 658,627.2 662,626 666,625 670,624.3 674,623.6 678,622.8 682,621.7 686,620.4 690,618.6 694,615.4 698,611.5 702,607.1 706,602.6 710,599.3 714,596.3 718,593.2 722,590.1 726,586.4 730,582.6 734,579.5 738,577.6 742,576 746,574.6 750,573.2 754,571.8 758,570.4 762,569 766,567.6 770,566 774,564.7 778,564 782,563.5 786,563.2 790,562.6 794,561.6 798,560.6 802,559.5 806,558.5 810,557.5 814,556.5 818,555.1 822,553.4 826,551.1 830,548.4 834,545.5 838,542.4 842,539.3 846,536.3 850,533.1 854,529.8 858,526.4 862,522.8 866,519.2 870,515.6 874,511.9 878,508.1 882,504.3 886,500.4 890,496.6 894,492.8 898,488.9 902,485.1 906,481.2 910,477.3 914,473.5 918,469.9 922,466.4 926,462.8 930,459.2 934,455.8 938,452.7 942,449.9 946,447.6 950,445.7 954,444 958,442.7 962,441.7 966,440.8 970,440.1 974,439.5 978,439.2 982,439.2 986,439.4 990,439.9 994,440.6 998,441.3 1002,442.1 1006,442.9 1010,443.9 1014,445.1 1018,446.5 1022,448.1 1026,449.7 1030,451.5 1034,453.2 1038,455.1 1042,456.9 1046,458.8 1050,460.8 1054,463 1058,465.2 1062,467.5 1066,469.8 1070,472.1 1074,474.5 1078,476.8 1082,479.1 1086,481.6 1090,484.1 1094,486.6 1098,489.2 1102,491.7 1106,494.1 1110,496.4 1114,498.6 1118,500.7 1122,502.7 1126,504.6 1130,506.5 1134,508.4 1138,510.3 1142,512.2 1146,514.1 1150,515.9 1154,517.6 1158,519.2 1162,520.6 1166,521.9 1170,523.1 1174,524.3 1178,525.4 1182,526.4 1186,527.4 1190,528.3 1194,529.2 1198,530.1 1202,530.8 1206,531.5 1210,532.1 1214,532.5 1218,533 1222,533.4 1226,533.7 1230,534.1 1234,534.4 1238,534.7 1242,535 1246,535.2 1250,535.4 1254,535.6 1258,535.7 1262,535.8 1266,535.8 1270,535.8 1274,535.8 1278,535.8 1282,535.9 1286,536 1290,536.2 1294,536.4 1298,536.5 1302,536.5 1306,536.4 1310,536.2 1314,535.9 1318,535.6 1322,535.3 1326,535 1330,534.7 1334,534.3 1338,533.9 1342,533.4 1346,532.9 1350,532.3 1354,531.8 1358,531.3 1362,530.7 1366,530.2 1370,529.7 1374,529.1 1378,528.6 1382,528 1386,527.4 1390,526.7 1394,526 1398,525.2 1402,524.5 1406,523.8 1410,523.1 1414,522.5 1418,521.8 1422,521.2 1426,520.6 1430,520 1434,519.4 1438,518.6 1442,517.4 1446,516.1 1450,514.8 1454,513.8 1458,512.8 1462,511.9 1466,511 1470,510 1474,508.8 1478,507.5 1482,506 1486,504.3 1490,502.5 1494,500.6 1498,498.5 1502,496.4 1506,494.2 1510,491.9 1514,489.4 1518,486.7 1522,483.9 1526,481 1530,478 1534,474.8 1538,471.5 1542,468 1546,464.3 1550,460.3 1554,456.2 1558,451.7 1562,446.9 1566,441.7 1570,435.8 1574,429.6 1578,423 1582,416.4 1586,409.9 1590,403.5 1594,397.1 1598,390.6 1600,387.2 1602,383.8 1604,380.3 1606,376.7 1608,373 1610,369.1 1612,365.2 1614,361.3 1616,357.5 1618,353.8 1620,350.1 1622,346.5 1624,342.7 1626,338.9 1628,334.8 1630,330.6 1632,326.3 1634,322 1636,317.6 1638,313.4 1640,308.7 1641,306.3 1642,304 1643,301.8 1644,299.8 1645,298.1 1646,296.7 1647,295.7 1648,294.7 1649,293.7 1650,292.6 1651,291.4 1652,290.1 1653,288.8 1654,287.3 1655,285.8 1656,284.3 1657,282.6 1657.8,281.3 1657.8,281.3 1657,291.7 1656,303.2 1655,314 1654,324.2 1653,333.7 1652,343.7 1651,352.3 1650,358.9 1649,364.7 1648,370.6 1647,377.9 1646,385 1645,389.8 1644,393.8 1643,397.4 1642,401 1641,405 1640,409.2 1638,420.3 1636,433.1 1634,445.2 1632,454.6 1630,462.9 1628,470.8 1626,478.6 1624,486.3 1622,493.7 1620,500.7 1618,507.2 1616,513 1614,518.3 1612,523.2 1610,527.6 1608,531.6 1606,535.3 1604,538.8 1602,542.1 1600,545.3 1598,548.3 1594,554 1590,559.3 1586,564.2 1582,568.7 1578,573.1 1574,577.4 1570,581.6 1566,585.7 1562,589.5 1558,592.8 1554,595.9 1550,598.7 1546,601.2 1542,603.6 1538,605.8 1534,607.9 1530,609.8 1526,611.7 1522,613.5 1518,615.3 1514,616.9 1510,618.5 1506,620.1 1502,621.6 1498,623.1 1494,624.5 1490,625.9 1486,627.2 1482,628.5 1478,629.7 1474,630.9 1470,631.9 1466,632.9 1462,633.9 1458,634.8 1454,635.7 1450,636.5 1446,637.3 1442,638.1 1438,638.9 1434,639.7 1430,640.5 1426,641.3 1422,642.1 1418,642.9 1414,643.8 1410,644.6 1406,645.5 1402,646.3 1398,647.1 1394,647.9 1390,648.7 1386,649.5 1382,650.3 1378,651.1 1374,651.9 1370,652.6 1366,653.4 1362,654.2 1358,655 1354,655.7 1350,656.5 1346,657.2 1342,657.9 1338,658.6 1334,659.3 1330,660 1326,660.6 1322,661.2 1318,661.8 1314,662.4 1310,662.9 1306,663.5 1302,664.1 1298,664.6 1294,665.2 1290,665.7 1286,666.2 1282,666.7 1278,667.2 1274,667.7 1270,668.2 1266,668.7 1262,669.1 1258,669.6 1254,670 1250,670.4 1246,670.8 1242,671.2 1238,671.6 1234,672 1230,672.4 1226,672.8 1222,673.2 1218,673.7 1214,674.1 1210,674.5 1206,674.9 1202,675.3 1198,675.7 1194,676.1 1190,676.5 1186,676.9 1182,677.3 1178,677.7 1174,678.1 1170,678.5 1166,678.9 1162,679.3 1158,679.7 1154,680.1 1150,680.5 1146,680.9 1142,681.2 1138,681.6 1134,682 1130,682.4 1126,682.8 1122,683.2 1118,683.6 1114,684 1110,684.4 1106,684.8 1102,685.2 1098,685.6 1094,685.9 1090,686.3 1086,686.7 1082,687.1 1078,687.5 1074,687.9 1070,688.2 1066,688.6 1062,689 1058,689.4 1054,689.8 1050,690.1 1046,690.5 1042,690.9 1038,691.2 1034,691.6 1030,691.9 1026,692.2 1022,692.6 1018,692.9 1014,693.2 1010,693.5 1006,693.8 1002,694.2 998,694.5 994,694.8 990,695.2 986,695.5 982,695.9 978,696.3 974,696.7 970,697.1 966,697.5 962,698 958,698.5 954,699 950,699.5 946,700.1 942,700.6 938,701.2 934,701.7 930,702.3 926,702.9 922,703.4 918,704 914,704.6 910,705.1 906,705.6 902,706.2 898,706.7 894,707.2 890,707.8 886,708.3 882,708.9 878,709.5 874,710.2 870,710.9 866,711.6 862,712.4 858,713.2 854,714.1 850,714.9 846,715.8 842,716.7 838,717.5 834,718.4 830,719.3 826,720.2 822,721.2 818,722.2 814,723.3 810,724.4 806,725.6 802,726.9 798,728.2 794,729.6 790,731 786,732.5 782,734.1 778,735.8 774,737.6 770,739.5 766,741.6 762,743.9 758,746.5 754,749.3 750,752.3 746,755.7 742,759.5 738,763.9 734,768 730,772.5 726,776.5 722,780.1 718,784.1 714,788.4 710,792.7 706,796.5 702,799.8 698,803 694,805.8 690,808.3 686,810.4 682,812.4 678,814.4 674,816.3 670,818.2 666,820.2 662,822.1 658,824 654,825.9 650,827.9 646,829.9 642,831.9 638,833.9 634,835.8 630,837.7 626,839.6 622,841.6 618,843.7 614,845.9 610,848.4 606,850.8 602,852.9 598,854.4 594,855 590,854.9 586,854.2 582,853.2 578,852.2 574,851.5 570,851.1 566,851 562,851.2 558,851.7 554,852.6 550,853.8 546,855.4 542,857.3 538,859.4 534,861.5 530,863.8 526,866.2 522,868.7 518,871 514,873.2 510,875.3 506,877.4 502,879.6 498,882.1 494,884.8 490,887.6 486,890.5 482,893.3 478,896.2 474,899.1 470,902 465.8,905.1 459.8,909.5 453.8,913.9 448.8,917.7 443.8,921.7 439.8,925.1 435.8,928.8 431.8,932.7 428.8,935.8 425.8,939 422.8,942.4 420.3,945.2 417.8,948.2 415.8,950.7 413.8,953.2 412.3,955.2 411,957 410,958.4 409.1,959.6 408.3,960.8 407.6,961.8 407,962.6 406.5,963.3 406.1,963.9 405.8,964.4"/>
<path d="M405.8,975.8 406.1,972.5 406.5,968.2 407,963 407.6,957.1 408.3,950.7 409.1,944.4 410,938.2 411,932 412.3,924.7 413.8,916.8 415.8,906.6 417.8,896.6 420.3,884.5 422.8,873.1 425.8,860.2 428.8,848.7 431.8,838.5 435.8,826.2 439.8,814.9 443.8,804.7 448.8,793.3 453.8,783.2 459.8,772.2 465.8,762.3 470,755.9 474,750.3 478,745 482,740 486,735.2 490,730.7 494,726.3 498,722.1 502,718.1 506,714.1 510,710.3 514,706.5 518,702.8 522,699.3 526,695.8 530,692.4 534,689.1 538,685.9 542,682.6 546,679.4 550,676.1 554,673.1 558,670.3 562,667.9 566,665.9 570,664 574,662.3 578,660.5 582,658.7 586,656.9 590,655.2 594,653.6 598,652.1 602,650.7 606,649.4 610,648 614,646.4 618,644.7 622,642.8 626,641 630,639.1 634,637.3 638,635.4 642,633.5 646,631.7 650,630.1 654,628.5 658,627.1 662,625.9 666,624.9 670,624.1 674,623.4 678,622.5 682,621.4 686,620.1 690,618.2 694,615 698,611.1 702,606.7 706,602.3 710,598.9 714,595.8 718,592.7 722,589.5 726,585.7 730,581.9 734,578.7 738,576.7 742,575.2 746,573.9 750,572.5 754,571.1 758,569.7 762,568.4 766,567 770,565.5 774,564.3 778,563.6 782,563.1 786,562.7 790,562.1 794,561.1 798,560 802,558.9 806,557.7 810,556.7 814,555.7 818,554.4 822,552.7 826,550.4 830,547.8 834,544.8 838,541.6 842,538.5 846,535.4 850,532.2 854,528.8 858,525.3 862,521.7 866,518.1 870,514.4 874,510.6 878,506.8 882,502.9 886,499 890,495 894,491.1 898,487.2 902,483.3 906,479.3 910,475.3 914,471.4 918,467.6 922,463.9 926,460.3 930,456.6 934,453 938,449.5 942,446.4 946,443.6 950,441.4 954,439.4 958,437.7 962,436.3 966,435.3 970,434.4 974,433.6 978,433 982,432.6 986,432.6 990,432.9 994,433.3 998,434 1002,434.8 1006,435.6 1010,436.5 1014,437.5 1018,438.8 1022,440.3 1026,441.9 1030,443.7 1034,445.5 1038,447.4 1042,449.3 1046,451.2 1050,453.3 1054,455.4 1058,457.7 1062,460 1066,462.5 1070,464.9 1074,467.4 1078,469.8 1082,472.3 1086,474.8 1090,477.4 1094,480.1 1098,482.7 1102,485.4 1106,488 1110,490.6 1114,493 1118,495.3 1122,497.5 1126,499.5 1130,501.6 1134,503.6 1138,505.5 1142,507.5 1146,509.6 1150,511.6 1154,513.5 1158,515.3 1162,516.9 1166,518.3 1170,519.7 1174,520.9 1178,522.1 1182,523.2 1186,524.3 1190,525.3 1194,526.3 1198,527.3 1202,528.1 1206,528.9 1210,529.5 1214,530.1 1218,530.6 1222,531.1 1226,531.5 1230,531.9 1234,532.2 1238,532.6 1242,532.9 1246,533.2 1250,533.5 1254,533.7 1258,533.9 1262,534 1266,534.1 1270,534.1 1274,534.2 1278,534.2 1282,534.3 1286,534.4 1290,534.6 1294,534.8 1298,535 1302,535 1306,535 1310,534.8 1314,534.6 1318,534.3 1322,534 1326,533.8 1330,533.5 1334,533.2 1338,532.8 1342,532.4 1346,531.9 1350,531.4 1354,530.9 1358,530.4 1362,530 1366,529.5 1370,528.9 1374,528.4 1378,527.9 1382,527.4 1386,526.8 1390,526.1 1394,525.4 1398,524.7 1402,524 1406,523.4 1410,522.7 1414,522.1 1418,521.5 1422,520.9 1426,520.4 1430,519.8 1434,519.2 1438,518.4 1442,517.2 1446,515.9 1450,514.6 1454,513.5 1458,512.6 1462,511.6 1466,510.7 1470,509.6 1474,508.5 1478,507.1 1482,505.6 1486,503.9 1490,502 1494,500 1498,497.9 1502,495.7 1506,493.5 1510,491.1 1514,488.6 1518,485.9 1522,483.1 1526,480.1 1530,477 1534,473.8 1538,470.5 1542,466.9 1546,463.1 1550,459.1 1554,454.9 1558,450.3 1562,445.5 1566,440.1 1570,434.1 1574,427.7 1578,421 1582,414.2 1586,407.5 1590,401 1594,394.5 1598,387.8 1600,384.4 1602,380.9 1604,377.4 1606,373.7 1608,369.9 1610,366 1612,362 1614,358 1616,354.1 1618,350.3 1620,346.6 1622,342.8 1624,339 1626,335.1 1628,330.9 1630,326.6 1632,322.2 1634,317.7 1636,313.2 1638,308.7 1640,303.9 1641,301.4 1642,298.9 1643,296.6 1644,294.6 1645,292.9 1646,291.5 1647,290.5 1648,289.5 1649,288.5 1650,287.5 1651,286.3 1652,285 1653,283.6 1654,282.2 1655,280.6 1656,279 1657,277.4 1657.8,276 1657.8,276 1657,287.3 1656,299.9 1655,311.6 1654,322.5 1653,332.6 1652,343.1 1651,352.2 1650,359.2 1649,365.2 1648,371.4 1647,379 1646,386.4 1645,391.4 1644,395.6 1643,399.3 1642,403 1641,407 1640,411.3 1638,422.4 1636,435 1634,447.1 1632,456.4 1630,464.6 1628,472.5 1626,480.2 1624,487.8 1622,495.1 1620,502.1 1618,508.4 1616,514.1 1614,519.4 1612,524.2 1610,528.6 1608,532.5 1606,536.2 1604,539.6 1602,542.9 1600,546 1598,549 1594,554.7 1590,560 1586,564.8 1582,569.4 1578,573.8 1574,578.1 1570,582.4 1566,586.4 1562,590.2 1558,593.5 1554,596.5 1550,599.3 1546,601.8 1542,604.2 1538,606.4 1534,608.4 1530,610.4 1526,612.3 1522,614.1 1518,615.8 1514,617.4 1510,619 1506,620.6 1502,622.1 1498,623.5 1494,625 1490,626.4 1486,627.7 1482,629 1478,630.2 1474,631.3 1470,632.4 1466,633.4 1462,634.3 1458,635.2 1454,636.1 1450,636.9 1446,637.7 1442,638.5 1438,639.2 1434,640 1430,640.8 1426,641.6 1422,642.4 1418,643.2 1414,644 1410,644.9 1406,645.7 1402,646.5 1398,647.3 1394,648.1 1390,648.9 1386,649.6 1382,650.4 1378,651.2 1374,652 1370,652.8 1366,653.6 1362,654.4 1358,655.1 1354,655.9 1350,656.6 1346,657.4 1342,658.1 1338,658.8 1334,659.4 1330,660.1 1326,660.7 1322,661.3 1318,661.9 1314,662.5 1310,663.1 1306,663.7 1302,664.2 1298,664.8 1294,665.3 1290,665.9 1286,666.4 1282,666.9 1278,667.4 1274,667.9 1270,668.4 1266,668.9 1262,669.3 1258,669.8 1254,670.2 1250,670.6 1246,671 1242,671.4 1238,671.9 1234,672.3 1230,672.7 1226,673.1 1222,673.5 1218,673.9 1214,674.3 1210,674.8 1206,675.2 1202,675.6 1198,676 1194,676.4 1190,676.8 1186,677.2 1182,677.6 1178,678.1 1174,678.5 1170,678.9 1166,679.3 1162,679.7 1158,680.1 1154,680.5 1150,680.9 1146,681.3 1142,681.7 1138,682.1 1134,682.5 1130,682.9 1126,683.3 1122,683.7 1118,684.1 1114,684.5 1110,684.9 1106,685.3 1102,685.7 1098,686.1 1094,686.5 1090,686.9 1086,687.3 1082,687.7 1078,688.1 1074,688.5 1070,688.9 1066,689.3 1062,689.7 1058,690 1054,690.4 1050,690.8 1046,691.2 1042,691.5 1038,691.9 1034,692.3 1030,692.6 1026,693 1022,693.3 1018,693.6 1014,694 1010,694.3 1006,694.6 1002,694.9 998,695.3 994,695.6 990,696 986,696.3 982,696.7 978,697.1 974,697.5 970,697.9 966,698.4 962,698.9 958,699.4 954,699.9 950,700.4 946,701 942,701.6 938,702.1 934,702.7 930,703.3 926,703.9 922,704.5 918,705.1 914,705.7 910,706.3 906,706.8 902,707.4 898,707.9 894,708.5 890,709.1 886,709.7 882,710.3 878,711 874,711.7 870,712.4 866,713.2 862,714 858,714.9 854,715.8 850,716.7 846,717.6 842,718.5 838,719.4 834,720.3 830,721.3 826,722.3 822,723.3 818,724.4 814,725.5 810,726.7 806,727.9 802,729.2 798,730.6 794,732 790,733.5 786,735.1 782,736.7 778,738.5 774,740.3 770,742.2 766,744.3 762,746.7 758,749.3 754,752.1 750,755.2 746,758.5 742,762.4 738,766.7 734,770.8 730,775.3 726,779.3 722,782.9 718,786.9 714,791.2 710,795.4 706,799.2 702,802.5 698,805.7 694,808.5 690,811 686,813.1 682,815.1 678,817.1 674,819.1 670,821 666,822.9 662,824.9 658,826.8 654,828.7 650,830.7 646,832.7 642,834.7 638,836.7 634,838.7 630,840.6 626,842.6 622,844.6 618,846.7 614,849 610,851.4 606,853.9 602,856.3 598,858.1 594,859.2 590,859.4 586,859.1 582,858.5 578,857.8 574,857.3 570,857.1 566,857.3 562,857.7 558,858.4 554,859.5 550,861 546,862.8 542,864.9 538,867.2 534,869.6 530,872.1 526,874.7 522,877.4 518,879.9 514,882.3 510,884.6 506,886.9 502,889.2 498,891.8 494,894.7 490,897.7 486,900.8 482,903.8 478,906.8 474,909.9 470,912.9 465.8,916.1 459.8,920.6 453.8,925.2 448.8,929.1 443.8,933.2 439.8,936.7 435.8,940.4 431.8,944.3 428.8,947.4 425.8,950.6 422.8,954 420.3,956.8 417.8,959.8 415.8,962.2 413.8,964.8 412.3,966.7 411,968.5 410,969.9 409.1,971.1 408.3,972.2 407.6,973.2 407,974 406.5,974.7 406.1,975.3 405.8,975.8"/>
<path d="M405.8,987.3 406.1,983.9 406.5,979.5 407,974.2 407.6,968 408.3,961.4 409.1,954.8 410,948.4 411,941.9 412.3,934.2 413.8,926 415.8,915.4 417.8,905 420.3,892.4 422.8,880.5 425.8,867.2 428.8,855.2 431.8,844.7 435.8,831.8 439.8,820.1 443.8,809.5 448.8,797.6 453.8,787.2 459.8,775.8 465.8,765.6 470,759 474,753.2 478,747.8 482,742.6 486,737.6 490,732.9 494,728.4 498,724.1 502,719.9 506,715.9 510,711.9 514,708 518,704.2 522,700.6 526,697 530,693.6 534,690.2 538,686.8 542,683.5 546,680.2 550,676.9 554,673.7 558,670.9 562,668.5 566,666.4 570,664.5 574,662.7 578,660.8 582,659 586,657.2 590,655.4 594,653.8 598,652.3 602,650.9 606,649.5 610,648.1 614,646.5 618,644.7 622,642.9 626,641 630,639.2 634,637.3 638,635.4 642,633.5 646,631.7 650,630.1 654,628.5 658,627.1 662,625.8 666,624.8 670,623.9 674,623.2 678,622.3 682,621.2 686,619.8 690,617.9 694,614.6 698,610.7 702,606.3 706,601.9 710,598.5 714,595.3 718,592.2 722,588.9 726,585 730,581.1 734,577.8 738,575.9 742,574.4 746,573.1 750,571.7 754,570.4 758,569 762,567.8 766,566.4 770,565 774,563.8 778,563.1 782,562.6 786,562.2 790,561.6 794,560.5 798,559.4 802,558.2 806,557 810,556 814,554.9 818,553.6 822,551.9 826,549.7 830,547.1 834,544.1 838,540.9 842,537.6 846,534.4 850,531.2 854,527.9 858,524.3 862,520.6 866,516.9 870,513.1 874,509.3 878,505.5 882,501.5 886,497.5 890,493.5 894,489.5 898,485.5 902,481.5 906,477.4 910,473.3 914,469.3 918,465.3 922,461.4 926,457.7 930,454 934,450.3 938,446.6 942,443.1 946,439.9 950,437.2 954,434.9 958,432.9 962,431.2 966,429.7 970,428.7 974,427.8 978,427 982,426.3 986,425.9 990,425.9 994,426.1 998,426.6 1002,427.3 1006,428.1 1010,429 1014,429.9 1018,431 1022,432.4 1026,433.9 1030,435.7 1034,437.5 1038,439.5 1042,441.5 1046,443.5 1050,445.5 1054,447.6 1058,449.9 1062,452.3 1066,454.8 1070,457.3 1074,459.9 1078,462.5 1082,465.1 1086,467.7 1090,470.4 1094,473.2 1098,476 1102,478.8 1106,481.6 1110,484.3 1114,487 1118,489.5 1122,491.9 1126,494.2 1130,496.4 1134,498.5 1138,500.6 1142,502.7 1146,504.8 1150,507 1154,509 1158,511 1162,512.9 1166,514.5 1170,516 1174,517.4 1178,518.7 1182,519.9 1186,521.1 1190,522.2 1194,523.3 1198,524.3 1202,525.2 1206,526.1 1210,526.9 1214,527.5 1218,528.1 1222,528.6 1226,529.1 1230,529.6 1234,530 1238,530.4 1242,530.8 1246,531.1 1250,531.5 1254,531.7 1258,532 1262,532.2 1266,532.3 1270,532.4 1274,532.4 1278,532.5 1282,532.6 1286,532.8 1290,533 1294,533.2 1298,533.4 1302,533.5 1306,533.5 1310,533.4 1314,533.2 1318,532.9 1322,532.7 1326,532.5 1330,532.3 1334,532 1338,531.7 1342,531.3 1346,530.9 1350,530.5 1354,530 1358,529.6 1362,529.1 1366,528.7 1370,528.2 1374,527.7 1378,527.2 1382,526.7 1386,526.2 1390,525.6 1394,524.9 1398,524.3 1402,523.6 1406,523 1410,522.4 1414,521.8 1418,521.2 1422,520.7 1426,520.1 1430,519.6 1434,519 1438,518.2 1442,517 1446,515.6 1450,514.3 1454,513.3 1458,512.3 1462,511.3 1466,510.4 1470,509.3 1474,508.1 1478,506.8 1482,505.2 1486,503.4 1490,501.5 1494,499.5 1498,497.3 1502,495.1 1506,492.8 1510,490.3 1514,487.8 1518,485.1 1522,482.2 1526,479.2 1530,476.1 1534,472.8 1538,469.4 1542,465.8 1546,462 1550,457.9 1554,453.6 1558,449 1562,444 1566,438.5 1570,432.4 1574,425.9 1578,419 1582,412 1586,405.2 1590,398.5 1594,391.8 1598,385.1 1600,381.6 1602,378.1 1604,374.4 1606,370.7 1608,366.8 1610,362.8 1612,358.8 1614,354.7 1616,350.7 1618,346.8 1620,343 1622,339.2 1624,335.3 1626,331.3 1628,327.1 1630,322.6 1632,318 1634,313.4 1636,308.7 1638,304.1 1640,299.1 1641,296.4 1642,293.9 1643,291.5 1644,289.4 1645,287.6 1646,286.3 1647,285.3 1648,284.3 1649,283.4 1650,282.3 1651,281.2 1652,279.9 1653,278.5 1654,277 1655,275.5 1656,273.8 1657,272.1 1657.8,270.7 1657.8,270.7 1657,283 1656,296.5 1655,309.1 1654,320.7 1653,331.4 1652,342.6 1651,352.1 1650,359.4 1649,365.7 1648,372.2 1647,380.1 1646,387.8 1645,393 1644,397.3 1643,401.1 1642,404.9 1641,409 1640,413.4 1638,424.4 1636,437 1634,448.9 1632,458.3 1630,466.4 1628,474.2 1626,481.9 1624,489.4 1622,496.6 1620,503.4 1618,509.7 1616,515.3 1614,520.5 1612,525.2 1610,529.6 1608,533.5 1606,537.1 1604,540.5 1602,543.7 1600,546.8 1598,549.8 1594,555.5 1590,560.7 1586,565.5 1582,570.1 1578,574.5 1574,578.8 1570,583.1 1566,587.1 1562,590.9 1558,594.2 1554,597.2 1550,600 1546,602.5 1542,604.8 1538,607 1534,609 1530,611 1526,612.8 1522,614.6 1518,616.3 1514,618 1510,619.5 1506,621.1 1502,622.6 1498,624 1494,625.5 1490,626.8 1486,628.2 1482,629.4 1478,630.6 1474,631.8 1470,632.8 1466,633.8 1462,634.7 1458,635.6 1454,636.5 1450,637.3 1446,638.1 1442,638.8 1438,639.6 1434,640.3 1430,641.1 1426,641.9 1422,642.7 1418,643.5 1414,644.3 1410,645.1 1406,645.9 1402,646.7 1398,647.5 1394,648.3 1390,649 1386,649.8 1382,650.6 1378,651.4 1374,652.2 1370,653 1366,653.7 1362,654.5 1358,655.3 1354,656 1350,656.8 1346,657.5 1342,658.2 1338,658.9 1334,659.6 1330,660.3 1326,660.9 1322,661.5 1318,662.1 1314,662.7 1310,663.3 1306,663.8 1302,664.4 1298,664.9 1294,665.5 1290,666 1286,666.5 1282,667.1 1278,667.6 1274,668.1 1270,668.6 1266,669 1262,669.5 1258,669.9 1254,670.4 1250,670.8 1246,671.2 1242,671.7 1238,672.1 1234,672.5 1230,672.9 1226,673.4 1222,673.8 1218,674.2 1214,674.6 1210,675.1 1206,675.5 1202,675.9 1198,676.3 1194,676.7 1190,677.2 1186,677.6 1182,678 1178,678.4 1174,678.9 1170,679.3 1166,679.7 1162,680.1 1158,680.5 1154,680.9 1150,681.4 1146,681.8 1142,682.2 1138,682.6 1134,683 1130,683.4 1126,683.8 1122,684.2 1118,684.7 1114,685.1 1110,685.5 1106,685.9 1102,686.3 1098,686.7 1094,687.1 1090,687.5 1086,687.9 1082,688.3 1078,688.7 1074,689.1 1070,689.5 1066,689.9 1062,690.3 1058,690.7 1054,691.1 1050,691.5 1046,691.8 1042,692.2 1038,692.6 1034,693 1030,693.3 1026,693.7 1022,694 1018,694.4 1014,694.7 1010,695 1006,695.4 1002,695.7 998,696 994,696.4 990,696.7 986,697.1 982,697.5 978,697.9 974,698.3 970,698.8 966,699.2 962,699.7 958,700.3 954,700.8 950,701.4 946,702 942,702.5 938,703.1 934,703.7 930,704.4 926,705 922,705.6 918,706.2 914,706.8 910,707.4 906,708 902,708.6 898,709.2 894,709.8 890,710.4 886,711 882,711.7 878,712.4 874,713.1 870,713.9 866,714.7 862,715.6 858,716.5 854,717.5 850,718.4 846,719.4 842,720.3 838,721.3 834,722.3 830,723.3 826,724.3 822,725.4 818,726.5 814,727.6 810,728.9 806,730.2 802,731.5 798,732.9 794,734.4 790,736 786,737.6 782,739.3 778,741.1 774,743 770,745 766,747.1 762,749.5 758,752.1 754,754.9 750,758 746,761.3 742,765.2 738,769.4 734,773.6 730,778.1 726,782.1 722,785.7 718,789.7 714,793.9 710,798.1 706,801.9 702,805.2 698,808.4 694,811.2 690,813.7 686,815.8 682,817.8 678,819.8 674,821.8 670,823.7 666,825.7 662,827.6 658,829.6 654,831.6 650,833.5 646,835.5 642,837.6 638,839.6 634,841.6 630,843.5 626,845.5 622,847.5 618,849.6 614,852 610,854.4 606,857 602,859.5 598,861.6 594,863.1 590,863.7 586,863.8 582,863.4 578,863 574,862.8 570,862.8 566,863.2 562,863.8 558,864.8 554,866.1 550,867.8 546,869.8 542,872.1 538,874.6 534,877.2 530,879.9 526,882.8 522,885.7 518,888.4 514,891 510,893.4 506,895.8 502,898.4 498,901.2 494,904.2 490,907.4 486,910.6 482,913.8 478,917 474,920.2 470,923.4 465.8,926.8 459.8,931.5 453.8,936.2 448.8,940.2 443.8,944.4 439.8,948 435.8,951.8 431.8,955.8 428.8,958.9 425.8,962.2 422.8,965.5 420.3,968.4 417.8,971.3 415.8,973.8 413.8,976.3 412.3,978.3 411,980 410,981.4 409.1,982.6 408.3,983.7 407.6,984.7 407,985.6 406.5,986.3 406.1,986.8 405.8,987.3"/>
<path d="M405.8,998.9 406.1,995.5 406.5,990.9 407,985.4 407.6,979 408.3,972.2 409.1,965.4 410,958.6 411,951.9 412.3,943.9 413.8,935.3 415.8,924.2 417.8,913.4 420.3,900.4 422.8,888.1 425.8,874.3 428.8,861.9 431.8,850.9 435.8,837.5 439.8,825.4 443.8,814.3 448.8,802 453.8,791.1 459.8,779.4 465.8,768.9 470,762.2 474,756.2 478,750.5 482,745.2 486,740.1 490,735.2 494,730.6 498,726.1 502,721.8 506,717.6 510,713.5 514,709.5 518,705.7 522,701.9 526,698.3 530,694.7 534,691.2 538,687.8 542,684.4 546,681 550,677.7 554,674.4 558,671.5 562,669 566,666.9 570,664.9 574,663.1 578,661.2 582,659.3 586,657.5 590,655.7 594,654 598,652.5 602,651 606,649.6 610,648.2 614,646.6 618,644.8 622,642.9 626,641 630,639.2 634,637.3 638,635.4 642,633.5 646,631.7 650,630.1 654,628.5 658,627 662,625.7 666,624.6 670,623.8 674,623 678,622 682,620.9 686,619.5 690,617.5 694,614.2 698,610.3 702,606 706,601.6 710,598.1 714,594.9 718,591.6 722,588.3 726,584.4 730,580.3 734,577 738,575.1 742,573.6 746,572.3 750,571 754,569.7 758,568.4 762,567.2 766,565.9 770,564.6 774,563.4 778,562.7 782,562.2 786,561.8 790,561.1 794,560 798,558.8 802,557.6 806,556.3 810,555.2 814,554.1 818,552.8 822,551.2 826,549.1 830,546.5 834,543.5 838,540.2 842,536.9 846,533.6 850,530.3 854,526.9 858,523.3 862,519.6 866,515.8 870,512 874,508.1 878,504.2 882,500.2 886,496.2 890,492.1 894,488 898,483.8 902,479.8 906,475.6 910,471.5 914,467.4 918,463.2 922,459.2 926,455.3 930,451.6 934,447.8 938,444 942,440.3 946,436.8 950,433.6 954,430.9 958,428.6 962,426.6 966,424.9 970,423.5 974,422.4 978,421.5 982,420.6 986,420 990,419.6 994,419.5 998,419.8 1002,420.3 1006,421 1010,421.9 1014,422.8 1018,423.7 1022,425 1026,426.4 1030,428.1 1034,429.9 1038,431.9 1042,433.9 1046,436 1050,438.1 1054,440.2 1058,442.5 1062,444.9 1066,447.5 1070,450.1 1074,452.8 1078,455.5 1082,458.2 1086,461 1090,463.7 1094,466.5 1098,469.5 1102,472.4 1106,475.4 1110,478.3 1114,481.2 1118,483.9 1122,486.5 1126,489 1130,491.4 1134,493.6 1138,495.9 1142,498.1 1146,500.3 1150,502.5 1154,504.7 1158,506.9 1162,508.9 1166,510.8 1170,512.4 1174,513.9 1178,515.4 1182,516.7 1186,518 1190,519.2 1194,520.3 1198,521.4 1202,522.5 1206,523.4 1210,524.3 1214,525.1 1218,525.7 1222,526.3 1226,526.9 1230,527.4 1234,527.8 1238,528.3 1242,528.7 1246,529.1 1250,529.5 1254,529.9 1258,530.1 1262,530.4 1266,530.5 1270,530.7 1274,530.8 1278,530.9 1282,531 1286,531.2 1290,531.4 1294,531.7 1298,531.9 1302,532 1306,532.1 1310,532 1314,531.8 1318,531.6 1322,531.5 1326,531.3 1330,531.1 1334,530.9 1338,530.6 1342,530.3 1346,529.9 1350,529.6 1354,529.2 1358,528.8 1362,528.4 1366,527.9 1370,527.5 1374,527 1378,526.6 1382,526.1 1386,525.6 1390,525 1394,524.4 1398,523.8 1402,523.2 1406,522.6 1410,522 1414,521.5 1418,520.9 1422,520.4 1426,519.9 1430,519.3 1434,518.8 1438,518 1442,516.8 1446,515.4 1450,514.1 1454,513 1458,512 1462,511.1 1466,510.1 1470,509 1474,507.8 1478,506.4 1482,504.8 1486,503 1490,501 1494,498.9 1498,496.7 1502,494.4 1506,492 1510,489.6 1514,487 1518,484.2 1522,481.3 1526,478.3 1530,475.1 1534,471.8 1538,468.4 1542,464.7 1546,460.8 1550,456.7 1554,452.3 1558,447.6 1562,442.5 1566,437 1570,430.7 1574,424 1578,417 1582,409.8 1586,402.8 1590,396 1594,389.2 1598,382.3 1600,378.8 1602,375.2 1604,371.5 1606,367.7 1608,363.8 1610,359.7 1612,355.5 1614,351.4 1616,347.3 1618,343.3 1620,339.5 1622,335.6 1624,331.7 1626,327.5 1628,323.2 1630,318.6 1632,313.9 1634,309.1 1636,304.3 1638,299.5 1640,294.2 1641,291.5 1642,288.9 1643,286.4 1644,284.2 1645,282.4 1646,281 1647,280 1648,279.1 1649,278.2 1650,277.2 1651,276.1 1652,274.8 1653,273.4 1654,271.9 1655,270.3 1656,268.6 1657,266.8 1657.8,265.4 1657.8,265.4 1657,278.7 1656,293.2 1655,306.7 1654,319 1653,330.3 1652,342 1651,352 1650,359.6 1649,366.3 1648,373 1647,381.2 1646,389.2 1645,394.6 1644,399 1643,402.9 1642,406.8 1641,411 1640,415.5 1638,426.5 1636,438.9 1634,450.8 1632,460.1 1630,468.2 1628,475.9 1626,483.5 1624,490.9 1622,498 1620,504.7 1618,510.9 1616,516.5 1614,521.6 1612,526.3 1610,530.5 1608,534.4 1606,538 1604,541.3 1602,544.5 1600,547.6 1598,550.5 1594,556.2 1590,561.4 1586,566.2 1582,570.8 1578,575.2 1574,579.5 1570,583.8 1566,587.9 1562,591.6 1558,594.9 1554,597.9 1550,600.6 1546,603.1 1542,605.4 1538,607.6 1534,609.6 1530,611.5 1526,613.4 1522,615.2 1518,616.9 1514,618.5 1510,620 1506,621.6 1502,623.1 1498,624.5 1494,625.9 1490,627.3 1486,628.6 1482,629.9 1478,631.1 1474,632.2 1470,633.3 1466,634.2 1462,635.2 1458,636 1454,636.9 1450,637.7 1446,638.4 1442,639.2 1438,639.9 1434,640.7 1430,641.4 1426,642.2 1422,643 1418,643.8 1414,644.5 1410,645.3 1406,646.1 1402,646.9 1398,647.7 1394,648.5 1390,649.2 1386,650 1382,650.8 1378,651.6 1374,652.3 1370,653.1 1366,653.9 1362,654.7 1358,655.4 1354,656.2 1350,656.9 1346,657.7 1342,658.4 1338,659.1 1334,659.7 1330,660.4 1326,661 1322,661.6 1318,662.2 1314,662.8 1310,663.4 1306,664 1302,664.5 1298,665.1 1294,665.6 1290,666.2 1286,666.7 1282,667.2 1278,667.7 1274,668.2 1270,668.7 1266,669.2 1262,669.7 1258,670.1 1254,670.6 1250,671 1246,671.4 1242,671.9 1238,672.3 1234,672.7 1230,673.2 1226,673.6 1222,674 1218,674.5 1214,674.9 1210,675.4 1206,675.8 1202,676.2 1198,676.7 1194,677.1 1190,677.5 1186,678 1182,678.4 1178,678.8 1174,679.2 1170,679.7 1166,680.1 1162,680.5 1158,681 1154,681.4 1150,681.8 1146,682.2 1142,682.7 1138,683.1 1134,683.5 1130,683.9 1126,684.3 1122,684.8 1118,685.2 1114,685.6 1110,686 1106,686.4 1102,686.9 1098,687.3 1094,687.7 1090,688.1 1086,688.5 1082,688.9 1078,689.3 1074,689.7 1070,690.1 1066,690.5 1062,690.9 1058,691.3 1054,691.7 1050,692.1 1046,692.5 1042,692.9 1038,693.3 1034,693.7 1030,694.1 1026,694.4 1022,694.8 1018,695.1 1014,695.4 1010,695.8 1006,696.1 1002,696.5 998,696.8 994,697.2 990,697.5 986,697.9 982,698.3 978,698.7 974,699.2 970,699.6 966,700.1 962,700.6 958,701.2 954,701.7 950,702.3 946,702.9 942,703.5 938,704.1 934,704.8 930,705.4 926,706 922,706.7 918,707.3 914,708 910,708.6 906,709.2 902,709.8 898,710.4 894,711.1 890,711.7 886,712.4 882,713.1 878,713.8 874,714.6 870,715.4 866,716.3 862,717.2 858,718.2 854,719.1 850,720.1 846,721.1 842,722.1 838,723.2 834,724.2 830,725.2 826,726.3 822,727.4 818,728.6 814,729.8 810,731.1 806,732.4 802,733.9 798,735.3 794,736.9 790,738.5 786,740.2 782,741.9 778,743.8 774,745.7 770,747.7 766,749.9 762,752.3 758,754.9 754,757.8 750,760.8 746,764.1 742,768 738,772.2 734,776.4 730,780.8 726,784.9 722,788.6 718,792.5 714,796.7 710,800.9 706,804.6 702,807.9 698,811.1 694,813.9 690,816.4 686,818.5 682,820.6 678,822.6 674,824.5 670,826.5 666,828.4 662,830.4 658,832.4 654,834.4 650,836.4 646,838.4 642,840.4 638,842.5 634,844.4 630,846.4 626,848.4 622,850.5 618,852.6 614,855 610,857.5 606,860.1 602,862.7 598,865 594,866.8 590,867.8 586,868.2 582,868.1 578,867.9 574,868 570,868.2 566,868.8 562,869.7 558,870.9 554,872.4 550,874.3 546,876.5 542,879.1 538,881.8 534,884.5 530,887.5 526,890.6 522,893.6 518,896.6 514,899.3 510,901.9 506,904.5 502,907.2 498,910.2 494,913.4 490,916.8 486,920.2 482,923.5 478,926.9 474,930.3 470,933.7 465.8,937.2 459.8,942.1 453.8,947 448.8,951.1 443.8,955.5 439.8,959.2 435.8,963.1 431.8,967.2 428.8,970.4 425.8,973.7 422.8,977.1 420.3,979.9 417.8,982.9 415.8,985.4 413.8,988 412.3,989.9 411,991.7 410,993 409.1,994.3 408.3,995.4 407.6,996.3 407,997.2 406.5,997.9 406.1,998.4 405.8,998.9"/>
<path d="M405.8,1010.6 406.1,1007 406.5,1002.4 407,996.7 407.6,990.1 408.3,983.1 409.1,976 410,969 411,961.9 412.3,953.6 413.8,944.6 415.8,933.1 417.8,921.9 420.3,908.4 422.8,895.6 425.8,881.4 428.8,868.5 431.8,857.2 435.8,843.3 439.8,830.6 443.8,819.1 448.8,806.4 453.8,795.2 459.8,783.1 465.8,772.2 470,765.3 474,759.1 478,753.3 482,747.8 486,742.6 490,737.6 494,732.8 498,728.2 502,723.7 506,719.4 510,715.2 514,711.1 518,707.1 522,703.3 526,699.5 530,695.9 534,692.3 538,688.8 542,685.4 546,681.9 550,678.4 554,675.1 558,672.1 562,669.6 566,667.4 570,665.4 574,663.5 578,661.6 582,659.6 586,657.8 590,655.9 594,654.2 598,652.6 602,651.2 606,649.8 610,648.3 614,646.7 618,644.9 622,643 626,641 630,639.2 634,637.3 638,635.4 642,633.5 646,631.7 650,630 654,628.4 658,626.9 662,625.6 666,624.5 670,623.6 674,622.8 678,621.8 682,620.6 686,619.2 690,617.2 694,613.9 698,609.9 702,605.6 706,601.3 710,597.8 714,594.4 718,591.1 722,587.7 726,583.7 730,579.6 734,576.2 738,574.3 742,572.8 746,571.6 750,570.3 754,569 758,567.8 762,566.6 766,565.4 770,564.1 774,563 778,562.3 782,561.8 786,561.3 790,560.6 794,559.5 798,558.2 802,557 806,555.7 810,554.5 814,553.4 818,552.1 822,550.5 826,548.4 830,545.8 834,542.8 838,539.5 842,536.1 846,532.7 850,529.4 854,526 858,522.4 862,518.6 866,514.8 870,510.9 874,506.9 878,503 882,498.9 886,494.8 890,490.7 894,486.5 898,482.3 902,478.1 906,473.9 910,469.7 914,465.5 918,461.2 922,457.1 926,453 930,449.1 934,445.3 938,441.4 942,437.5 946,433.8 950,430.3 954,427.2 958,424.5 962,422.3 966,420.3 970,418.5 974,417.1 978,416.1 982,415.1 986,414.3 990,413.6 994,413.2 998,413.2 1002,413.5 1006,414 1010,414.8 1014,415.7 1018,416.7 1022,417.7 1026,419 1030,420.6 1034,422.3 1038,424.3 1042,426.3 1046,428.5 1050,430.7 1054,432.9 1058,435.1 1062,437.5 1066,440.1 1070,442.8 1074,445.5 1078,448.4 1082,451.2 1086,454.1 1090,456.9 1094,459.8 1098,462.8 1102,465.9 1106,469 1110,472.1 1114,475.2 1118,478.1 1122,481 1126,483.6 1130,486.2 1134,488.6 1138,491 1142,493.3 1146,495.6 1150,498 1154,500.3 1158,502.6 1162,504.8 1166,506.9 1170,508.7 1174,510.4 1178,512 1182,513.4 1186,514.8 1190,516.1 1194,517.3 1198,518.5 1202,519.7 1206,520.7 1210,521.7 1214,522.5 1218,523.3 1222,524 1226,524.6 1230,525.1 1234,525.7 1238,526.2 1242,526.7 1246,527.1 1250,527.5 1254,527.9 1258,528.3 1262,528.6 1266,528.8 1270,529 1274,529.1 1278,529.2 1282,529.4 1286,529.6 1290,529.8 1294,530.1 1298,530.4 1302,530.6 1306,530.6 1310,530.6 1314,530.5 1318,530.3 1322,530.2 1326,530.1 1330,529.9 1334,529.8 1338,529.6 1342,529.3 1346,529 1350,528.6 1354,528.3 1358,527.9 1362,527.6 1366,527.2 1370,526.8 1374,526.3 1378,525.9 1382,525.5 1386,525 1390,524.5 1394,523.9 1398,523.3 1402,522.7 1406,522.2 1410,521.6 1414,521.1 1418,520.6 1422,520.1 1426,519.6 1430,519.1 1434,518.6 1438,517.9 1442,516.6 1446,515.2 1450,513.9 1454,512.8 1458,511.8 1462,510.8 1466,509.8 1470,508.7 1474,507.5 1478,506 1482,504.4 1486,502.5 1490,500.5 1494,498.4 1498,496.1 1502,493.8 1506,491.3 1510,488.8 1514,486.2 1518,483.4 1522,480.5 1526,477.4 1530,474.2 1534,470.9 1538,467.4 1542,463.7 1546,459.7 1550,455.5 1554,451 1558,446.2 1562,441.1 1566,435.4 1570,429 1574,422.2 1578,414.9 1582,407.6 1586,400.5 1590,393.5 1594,386.6 1598,379.6 1600,376 1602,372.3 1604,368.6 1606,364.7 1608,360.7 1610,356.5 1612,352.3 1614,348 1616,343.9 1618,339.9 1620,335.9 1622,332 1624,328 1626,323.8 1628,319.3 1630,314.6 1632,309.7 1634,304.8 1636,299.8 1638,294.9 1640,289.4 1641,286.6 1642,283.8 1643,281.3 1644,279 1645,277.2 1646,275.8 1647,274.8 1648,274 1649,273.1 1650,272.1 1651,270.9 1652,269.7 1653,268.3 1654,266.8 1655,265.1 1656,263.4 1657,261.6 1657.8,260.1 1657.8,260.1 1657,274.3 1656,289.9 1655,304.2 1654,317.3 1653,329.2 1652,341.4 1651,351.9 1650,359.9 1649,366.8 1648,373.8 1647,382.3 1646,390.6 1645,396.2 1644,400.8 1643,404.8 1642,408.8 1641,413.1 1640,417.6 1638,428.6 1636,440.9 1634,452.7 1632,461.9 1630,470 1628,477.7 1626,485.2 1624,492.5 1622,499.5 1620,506.1 1618,512.2 1616,517.6 1614,522.7 1612,527.3 1610,531.5 1608,535.3 1606,538.8 1604,542.2 1602,545.3 1600,548.3 1598,551.3 1594,556.9 1590,562.1 1586,566.9 1582,571.5 1578,575.9 1574,580.2 1570,584.5 1566,588.6 1562,592.3 1558,595.6 1554,598.5 1550,601.3 1546,603.7 1542,606 1538,608.2 1534,610.2 1530,612.1 1526,613.9 1522,615.7 1518,617.4 1514,619 1510,620.6 1506,622.1 1502,623.6 1498,625 1494,626.4 1490,627.8 1486,629.1 1482,630.4 1478,631.6 1474,632.7 1470,633.7 1466,634.7 1462,635.6 1458,636.4 1454,637.3 1450,638.1 1446,638.8 1442,639.6 1438,640.3 1434,641 1430,641.8 1426,642.5 1422,643.3 1418,644 1414,644.8 1410,645.6 1406,646.4 1402,647.1 1398,647.9 1394,648.6 1390,649.4 1386,650.2 1382,651 1378,651.7 1374,652.5 1370,653.3 1366,654.1 1362,654.8 1358,655.6 1354,656.3 1350,657.1 1346,657.8 1342,658.5 1338,659.2 1334,659.9 1330,660.6 1326,661.2 1322,661.8 1318,662.4 1314,663 1310,663.6 1306,664.1 1302,664.7 1298,665.3 1294,665.8 1290,666.3 1286,666.9 1282,667.4 1278,667.9 1274,668.4 1270,668.9 1266,669.4 1262,669.8 1258,670.3 1254,670.8 1250,671.2 1246,671.7 1242,672.1 1238,672.5 1234,673 1230,673.4 1226,673.9 1222,674.3 1218,674.8 1214,675.2 1210,675.7 1206,676.1 1202,676.5 1198,677 1194,677.4 1190,677.9 1186,678.3 1182,678.8 1178,679.2 1174,679.6 1170,680.1 1166,680.5 1162,681 1158,681.4 1154,681.8 1150,682.3 1146,682.7 1142,683.1 1138,683.6 1134,684 1130,684.4 1126,684.9 1122,685.3 1118,685.7 1114,686.1 1110,686.6 1106,687 1102,687.4 1098,687.8 1094,688.3 1090,688.7 1086,689.1 1082,689.5 1078,689.9 1074,690.4 1070,690.8 1066,691.2 1062,691.6 1058,692 1054,692.4 1050,692.8 1046,693.2 1042,693.6 1038,694 1034,694.4 1030,694.8 1026,695.1 1022,695.5 1018,695.8 1014,696.2 1010,696.5 1006,696.9 1002,697.2 998,697.6 994,697.9 990,698.3 986,698.7 982,699.1 978,699.5 974,700 970,700.5 966,701 962,701.5 958,702 954,702.6 950,703.2 946,703.8 942,704.5 938,705.1 934,705.8 930,706.4 926,707.1 922,707.8 918,708.4 914,709.1 910,709.8 906,710.4 902,711 898,711.7 894,712.4 890,713 886,713.7 882,714.5 878,715.2 874,716 870,716.9 866,717.8 862,718.8 858,719.8 854,720.8 850,721.9 846,722.9 842,724 838,725 834,726.1 830,727.2 826,728.3 822,729.5 818,730.7 814,732 810,733.3 806,734.7 802,736.2 798,737.7 794,739.3 790,741 786,742.7 782,744.5 778,746.4 774,748.4 770,750.4 766,752.6 762,755.1 758,757.7 754,760.6 750,763.6 746,766.9 742,770.8 738,775 734,779.1 730,783.6 726,787.6 722,791.4 718,795.3 714,799.5 710,803.6 706,807.3 702,810.7 698,813.8 694,816.6 690,819.1 686,821.3 682,823.3 678,825.3 674,827.3 670,829.2 666,831.2 662,833.2 658,835.2 654,837.2 650,839.2 646,841.2 642,843.3 638,845.3 634,847.3 630,849.3 626,851.3 622,853.4 618,855.6 614,858 610,860.5 606,863.2 602,865.8 598,868.3 594,870.4 590,871.7 586,872.4 582,872.6 578,872.7 574,872.9 570,873.4 566,874.3 562,875.4 558,876.8 554,878.5 550,880.6 546,883 542,885.7 538,888.6 534,891.6 530,894.7 526,898 522,901.3 518,904.4 514,907.3 510,910.1 506,912.8 502,915.7 498,918.8 494,922.3 490,925.9 486,929.4 482,933 478,936.5 474,940.1 470,943.6 465.8,947.3 459.8,952.5 453.8,957.6 448.8,961.9 443.8,966.4 439.8,970.2 435.8,974.2 431.8,978.4 428.8,981.7 425.8,985.1 422.8,988.5 420.3,991.5 417.8,994.5 415.8,997 413.8,999.6 412.3,1001.6 411,1003.3 410,1004.7 409.1,1005.9 408.3,1007 407.6,1008 407,1008.9 406.5,1009.6 406.1,1010.1 405.8,1010.6"/>
<path d="M405.8,1022.4 406.1,1018.7 406.5,1013.9 407,1008 407.6,1001.3 408.3,994 409.1,986.7 410,979.4 411,972 412.3,963.3 413.8,954 415.8,942 417.8,930.4 420.3,916.5 422.8,903.3 425.8,888.5 428.8,875.2 431.8,863.5 435.8,849.1 439.8,835.9 443.8,824 448.8,810.8 453.8,799.2 459.8,786.7 465.8,775.6 470,768.5 474,762.1 478,756.1 482,750.5 486,745 490,739.9 494,734.9 498,730.2 502,725.6 506,721.2 510,716.9 514,712.6 518,708.6 522,704.6 526,700.8 530,697 534,693.4 538,689.8 542,686.3 546,682.7 550,679.2 554,675.8 558,672.7 562,670.1 566,667.9 570,665.8 574,663.9 578,661.9 582,660 586,658 590,656.2 594,654.4 598,652.8 602,651.3 606,649.9 610,648.4 614,646.8 618,644.9 622,643 626,641.1 630,639.2 634,637.3 638,635.4 642,633.5 646,631.7 650,630 654,628.4 658,626.8 662,625.5 666,624.4 670,623.5 674,622.6 678,621.6 682,620.4 686,619 690,616.9 694,613.5 698,609.6 702,605.3 706,601 710,597.4 714,594 718,590.6 722,587.2 726,583.1 730,578.9 734,575.5 738,573.6 742,572.1 746,570.9 750,569.7 754,568.4 758,567.2 762,566.1 766,564.9 770,563.7 774,562.6 778,561.9 782,561.4 786,560.9 790,560.2 794,559 798,557.7 802,556.4 806,555.1 810,553.9 814,552.7 818,551.4 822,549.8 826,547.8 830,545.2 834,542.2 838,538.9 842,535.5 846,532 850,528.5 854,525.1 858,521.5 862,517.7 866,513.8 870,509.8 874,505.8 878,501.8 882,497.7 886,493.6 890,489.4 894,485.1 898,480.8 902,476.5 906,472.3 910,468 914,463.7 918,459.4 922,455.1 926,450.9 930,446.9 934,442.9 938,439 942,435.1 946,431.2 950,427.5 954,424 958,420.9 962,418.4 966,416.2 970,414.2 974,412.5 978,411.2 982,410.2 986,409.2 990,408.3 994,407.7 998,407.3 1002,407.3 1006,407.7 1010,408.3 1014,409.2 1018,410.1 1022,411.1 1026,412.2 1030,413.7 1034,415.3 1038,417.2 1042,419.3 1046,421.5 1050,423.7 1054,426 1058,428.3 1062,430.7 1066,433.2 1070,435.9 1074,438.8 1078,441.7 1082,444.6 1086,447.6 1090,450.6 1094,453.6 1098,456.6 1102,459.8 1106,463 1110,466.2 1114,469.5 1118,472.6 1122,475.7 1126,478.6 1130,481.3 1134,483.9 1138,486.4 1142,488.9 1146,491.3 1150,493.7 1154,496.1 1158,498.6 1162,501 1166,503.2 1170,505.3 1174,507.1 1178,508.8 1182,510.3 1186,511.8 1190,513.2 1194,514.5 1198,515.8 1202,517 1206,518.1 1210,519.2 1214,520.2 1218,521 1222,521.7 1226,522.4 1230,523.1 1234,523.6 1238,524.2 1242,524.7 1246,525.2 1250,525.7 1254,526.1 1258,526.5 1262,526.9 1266,527.2 1270,527.4 1274,527.6 1278,527.7 1282,527.9 1286,528.1 1290,528.4 1294,528.7 1298,529 1302,529.2 1306,529.3 1310,529.3 1314,529.2 1318,529.1 1322,529 1326,528.9 1330,528.8 1334,528.7 1338,528.5 1342,528.3 1346,528.1 1350,527.8 1354,527.5 1358,527.2 1362,526.8 1366,526.5 1370,526.1 1374,525.7 1378,525.3 1382,524.9 1386,524.5 1390,524 1394,523.4 1398,522.9 1402,522.3 1406,521.8 1410,521.3 1414,520.8 1418,520.3 1422,519.9 1426,519.4 1430,518.9 1434,518.5 1438,517.7 1442,516.5 1446,515 1450,513.7 1454,512.5 1458,511.5 1462,510.5 1466,509.5 1470,508.4 1474,507.2 1478,505.7 1482,504 1486,502.1 1490,500 1494,497.8 1498,495.5 1502,493.1 1506,490.6 1510,488 1514,485.4 1518,482.6 1522,479.6 1526,476.5 1530,473.2 1534,469.9 1538,466.3 1542,462.6 1546,458.6 1550,454.3 1554,449.8 1558,444.9 1562,439.6 1566,433.8 1570,427.3 1574,420.3 1578,412.9 1582,405.4 1586,398.1 1590,391 1594,384 1598,376.8 1600,373.2 1602,369.5 1604,365.6 1606,361.7 1608,357.6 1610,353.4 1612,349.1 1614,344.7 1616,340.5 1618,336.4 1620,332.4 1622,328.4 1624,324.3 1626,320 1628,315.4 1630,310.6 1632,305.6 1634,300.5 1636,295.4 1638,290.3 1640,284.6 1641,281.7 1642,278.8 1643,276.1 1644,273.8 1645,271.9 1646,270.6 1647,269.6 1648,268.8 1649,268 1650,267 1651,265.8 1652,264.6 1653,263.1 1654,261.6 1655,260 1656,258.2 1657,256.3 1657.8,254.7 1657.8,254.7 1657,270 1656,286.6 1655,301.7 1654,315.5 1653,328 1652,340.9 1651,351.8 1650,360.1 1649,367.3 1648,374.6 1647,383.5 1646,392 1645,397.8 1644,402.5 1643,406.6 1642,410.7 1641,415.1 1640,419.7 1638,430.7 1636,442.9 1634,454.6 1632,463.8 1630,471.8 1628,479.4 1626,486.8 1624,494 1622,500.9 1620,507.4 1618,513.4 1616,518.8 1614,523.8 1612,528.3 1610,532.5 1608,536.2 1606,539.7 1604,543 1602,546.1 1600,549.1 1598,552 1594,557.6 1590,562.8 1586,567.6 1582,572.2 1578,576.5 1574,580.9 1570,585.2 1566,589.3 1562,593 1558,596.3 1554,599.2 1550,601.9 1546,604.4 1542,606.6 1538,608.8 1534,610.8 1530,612.7 1526,614.5 1522,616.2 1518,617.9 1514,619.5 1510,621.1 1506,622.6 1502,624 1498,625.5 1494,626.9 1490,628.3 1486,629.6 1482,630.8 1478,632 1474,633.1 1470,634.2 1466,635.1 1462,636 1458,636.9 1454,637.7 1450,638.4 1446,639.2 1442,639.9 1438,640.6 1434,641.4 1430,642.1 1426,642.8 1422,643.6 1418,644.3 1414,645.1 1410,645.8 1406,646.6 1402,647.3 1398,648.1 1394,648.8 1390,649.6 1386,650.4 1382,651.1 1378,651.9 1374,652.7 1370,653.4 1366,654.2 1362,655 1358,655.7 1354,656.5 1350,657.2 1346,658 1342,658.7 1338,659.4 1334,660 1330,660.7 1326,661.3 1322,662 1318,662.6 1314,663.1 1310,663.7 1306,664.3 1302,664.9 1298,665.4 1294,666 1290,666.5 1286,667 1282,667.5 1278,668.1 1274,668.6 1270,669.1 1266,669.5 1262,670 1258,670.5 1254,671 1250,671.4 1246,671.9 1242,672.3 1238,672.8 1234,673.2 1230,673.7 1226,674.1 1222,674.6 1218,675 1214,675.5 1210,675.9 1206,676.4 1202,676.9 1198,677.3 1194,677.8 1190,678.2 1186,678.7 1182,679.1 1178,679.6 1174,680 1170,680.5 1166,680.9 1162,681.4 1158,681.8 1154,682.3 1150,682.7 1146,683.2 1142,683.6 1138,684.1 1134,684.5 1130,684.9 1126,685.4 1122,685.8 1118,686.2 1114,686.7 1110,687.1 1106,687.5 1102,688 1098,688.4 1094,688.8 1090,689.3 1086,689.7 1082,690.1 1078,690.6 1074,691 1070,691.4 1066,691.8 1062,692.2 1058,692.7 1054,693.1 1050,693.5 1046,693.9 1042,694.3 1038,694.7 1034,695.1 1030,695.5 1026,695.8 1022,696.2 1018,696.6 1014,696.9 1010,697.3 1006,697.6 1002,698 998,698.4 994,698.7 990,699.1 986,699.5 982,699.9 978,700.4 974,700.8 970,701.3 966,701.8 962,702.4 958,702.9 954,703.5 950,704.2 946,704.8 942,705.4 938,706.1 934,706.8 930,707.5 926,708.2 922,708.8 918,709.5 914,710.2 910,710.9 906,711.6 902,712.3 898,712.9 894,713.6 890,714.3 886,715.1 882,715.9 878,716.7 874,717.5 870,718.4 866,719.4 862,720.4 858,721.4 854,722.5 850,723.6 846,724.7 842,725.8 838,726.9 834,728 830,729.2 826,730.3 822,731.6 818,732.8 814,734.1 810,735.5 806,737 802,738.5 798,740.1 794,741.7 790,743.5 786,745.3 782,747.1 778,749.1 774,751.1 770,753.2 766,755.4 762,757.9 758,760.5 754,763.4 750,766.5 746,769.8 742,773.6 738,777.8 734,781.9 730,786.4 726,790.4 722,794.2 718,798.1 714,802.3 710,806.3 706,810 702,813.4 698,816.5 694,819.3 690,821.8 686,824 682,826 678,828 674,830 670,832 666,834 662,836 658,838 654,840 650,842 646,844 642,846.1 638,848.2 634,850.2 630,852.2 626,854.3 622,856.4 618,858.6 614,861 610,863.5 606,866.2 602,868.9 598,871.5 594,873.8 590,875.4 586,876.4 582,876.9 578,877.2 574,877.7 570,878.5 566,879.5 562,880.8 558,882.4 554,884.4 550,886.6 546,889.3 542,892.2 538,895.3 534,898.4 530,901.8 526,905.2 522,908.7 518,912 514,915.1 510,918 506,920.9 502,924 498,927.3 494,931 490,934.8 486,938.5 482,942.3 478,946 474,949.7 470,953.5 465.8,957.3 459.8,962.7 453.8,968.1 448.8,972.6 443.8,977.3 439.8,981.2 435.8,985.4 431.8,989.7 428.8,993.1 425.8,996.5 422.8,1000 420.3,1003 417.8,1006.1 415.8,1008.6 413.8,1011.3 412.3,1013.3 411,1015 410,1016.4 409.1,1017.7 408.3,1018.8 407.6,1019.8 407,1020.6 406.5,1021.3 406.1,1021.9 405.8,1022.4"/>
<path d="M405.8,1034.2 406.1,1030.4 406.5,1025.5 407,1019.4 407.6,1012.5 408.3,1005 409.1,997.4 410,989.9 411,982.2 412.3,973.1 413.8,963.4 415.8,951 417.8,939 420.3,924.6 422.8,910.9 425.8,895.7 428.8,882 431.8,869.8 435.8,854.9 439.8,841.3 443.8,828.9 448.8,815.2 453.8,803.3 459.8,790.4 465.8,779 470,771.6 474,765.1 478,759 482,753.1 486,747.5 490,742.2 494,737.1 498,732.2 502,727.5 506,723 510,718.5 514,714.2 518,710 522,706 526,702 530,698.2 534,694.5 538,690.8 542,687.2 546,683.6 550,680 554,676.5 558,673.4 562,670.7 566,668.4 570,666.3 574,664.3 578,662.3 582,660.3 586,658.3 590,656.4 594,654.7 598,653 602,651.5 606,650 610,648.5 614,646.8 618,645 622,643.1 626,641.1 630,639.2 634,637.4 638,635.4 642,633.5 646,631.7 650,630 654,628.3 658,626.8 662,625.4 666,624.2 670,623.3 674,622.4 678,621.4 682,620.1 686,618.7 690,616.6 694,613.2 698,609.2 702,604.9 706,600.6 710,597.1 714,593.6 718,590.1 722,586.6 726,582.5 730,578.2 734,574.7 738,572.8 742,571.4 746,570.2 750,569 754,567.8 758,566.6 762,565.5 766,564.4 770,563.2 774,562.2 778,561.5 782,561 786,560.4 790,559.7 794,558.5 798,557.2 802,555.8 806,554.4 810,553.2 814,552 818,550.7 822,549.1 826,547.1 830,544.5 834,541.5 838,538.2 842,534.8 846,531.2 850,527.7 854,524.2 858,520.5 862,516.7 866,512.7 870,508.7 874,504.7 878,500.6 882,496.5 886,492.3 890,488 894,483.7 898,479.3 902,474.9 906,470.6 910,466.3 914,461.9 918,457.5 922,453.2 926,448.9 930,444.6 934,440.5 938,436.6 942,432.6 946,428.6 950,424.6 954,420.9 958,417.5 962,414.6 966,412.1 970,409.9 974,408 978,406.3 982,405.1 986,404 990,403.1 994,402.2 998,401.6 1002,401.3 1006,401.4 1010,401.8 1014,402.5 1018,403.4 1022,404.4 1026,405.5 1030,406.7 1034,408.3 1038,410.1 1042,412.1 1046,414.3 1050,416.5 1054,418.9 1058,421.3 1062,423.7 1066,426.2 1070,428.9 1074,431.8 1078,434.8 1082,437.8 1086,440.9 1090,444 1094,447.1 1098,450.2 1102,453.5 1106,456.8 1110,460.2 1114,463.5 1118,466.9 1122,470.1 1126,473.2 1130,476.2 1134,479 1138,481.7 1142,484.3 1146,486.8 1150,489.3 1154,491.8 1158,494.4 1162,496.9 1166,499.3 1170,501.6 1174,503.6 1178,505.4 1182,507.1 1186,508.7 1190,510.2 1194,511.6 1198,513 1202,514.3 1206,515.5 1210,516.6 1214,517.7 1218,518.6 1222,519.4 1226,520.2 1230,520.9 1234,521.5 1238,522.2 1242,522.7 1246,523.3 1250,523.8 1254,524.3 1258,524.7 1262,525.1 1266,525.5 1270,525.8 1274,526 1278,526.2 1282,526.4 1286,526.6 1290,526.9 1294,527.2 1298,527.5 1302,527.8 1306,527.9 1310,528 1314,528 1318,527.9 1322,527.8 1326,527.7 1330,527.7 1334,527.6 1338,527.5 1342,527.3 1346,527.1 1350,526.9 1354,526.6 1358,526.3 1362,526.1 1366,525.8 1370,525.4 1374,525.1 1378,524.7 1382,524.3 1386,523.9 1390,523.4 1394,522.9 1398,522.4 1402,521.9 1406,521.4 1410,521 1414,520.5 1418,520 1422,519.6 1426,519.2 1430,518.7 1434,518.3 1438,517.5 1442,516.3 1446,514.8 1450,513.4 1454,512.3 1458,511.3 1462,510.3 1466,509.2 1470,508.1 1474,506.8 1478,505.3 1482,503.6 1486,501.7 1490,499.5 1494,497.3 1498,494.9 1502,492.4 1506,489.9 1510,487.3 1514,484.6 1518,481.7 1522,478.7 1526,475.6 1530,472.3 1534,468.9 1538,465.3 1542,461.5 1546,457.4 1550,453.1 1554,448.5 1558,443.5 1562,438.2 1566,432.3 1570,425.6 1574,418.5 1578,410.9 1582,403.2 1586,395.7 1590,388.5 1594,381.3 1598,374.1 1600,370.4 1602,366.6 1604,362.7 1606,358.7 1608,354.6 1610,350.2 1612,345.8 1614,341.4 1616,337.1 1618,332.9 1620,328.8 1622,324.8 1624,320.6 1626,316.2 1628,311.5 1630,306.6 1632,301.4 1634,296.2 1636,290.9 1638,285.7 1640,279.8 1641,276.7 1642,273.8 1643,271 1644,268.6 1645,266.7 1646,265.3 1647,264.4 1648,263.6 1649,262.8 1650,261.9 1651,260.7 1652,259.4 1653,258 1654,256.5 1655,254.8 1656,253 1657,251.1 1657.8,249.4 1657.8,249.4 1657,265.7 1656,283.3 1655,299.3 1654,313.8 1653,326.9 1652,340.3 1651,351.7 1650,360.4 1649,367.9 1648,375.4 1647,384.6 1646,393.4 1645,399.4 1644,404.2 1643,408.4 1642,412.6 1641,417.1 1640,421.8 1638,432.7 1636,444.8 1634,456.5 1632,465.6 1630,473.6 1628,481.1 1626,488.4 1624,495.6 1622,502.4 1620,508.8 1618,514.6 1616,520 1614,524.9 1612,529.4 1610,533.4 1608,537.2 1606,540.6 1604,543.8 1602,546.9 1600,549.9 1598,552.8 1594,558.3 1590,563.4 1586,568.3 1582,572.9 1578,577.2 1574,581.6 1570,585.9 1566,590 1562,593.7 1558,597 1554,599.9 1550,602.6 1546,605 1542,607.2 1538,609.4 1534,611.3 1530,613.2 1526,615.1 1522,616.8 1518,618.4 1514,620 1510,621.6 1506,623.1 1502,624.5 1498,626 1494,627.4 1490,628.7 1486,630 1482,631.3 1478,632.5 1474,633.6 1470,634.6 1466,635.5 1462,636.4 1458,637.3 1454,638.1 1450,638.8 1446,639.6 1442,640.3 1438,641 1434,641.7 1430,642.4 1426,643.1 1422,643.8 1418,644.6 1414,645.3 1410,646.1 1406,646.8 1402,647.5 1398,648.3 1394,649 1390,649.8 1386,650.5 1382,651.3 1378,652.1 1374,652.8 1370,653.6 1366,654.4 1362,655.1 1358,655.9 1354,656.6 1350,657.4 1346,658.1 1342,658.8 1338,659.5 1334,660.2 1330,660.9 1326,661.5 1322,662.1 1318,662.7 1314,663.3 1310,663.9 1306,664.5 1302,665 1298,665.6 1294,666.1 1290,666.7 1286,667.2 1282,667.7 1278,668.2 1274,668.7 1270,669.2 1266,669.7 1262,670.2 1258,670.7 1254,671.1 1250,671.6 1246,672.1 1242,672.5 1238,673 1234,673.5 1230,673.9 1226,674.4 1222,674.9 1218,675.3 1214,675.8 1210,676.2 1206,676.7 1202,677.2 1198,677.6 1194,678.1 1190,678.6 1186,679 1182,679.5 1178,680 1174,680.4 1170,680.9 1166,681.3 1162,681.8 1158,682.3 1154,682.7 1150,683.2 1146,683.6 1142,684.1 1138,684.5 1134,685 1130,685.4 1126,685.9 1122,686.3 1118,686.8 1114,687.2 1110,687.7 1106,688.1 1102,688.5 1098,689 1094,689.4 1090,689.9 1086,690.3 1082,690.7 1078,691.2 1074,691.6 1070,692 1066,692.5 1062,692.9 1058,693.3 1054,693.7 1050,694.2 1046,694.6 1042,695 1038,695.4 1034,695.8 1030,696.2 1026,696.6 1022,696.9 1018,697.3 1014,697.7 1010,698 1006,698.4 1002,698.8 998,699.1 994,699.5 990,699.9 986,700.3 982,700.7 978,701.2 974,701.7 970,702.1 966,702.7 962,703.2 958,703.8 954,704.4 950,705.1 946,705.7 942,706.4 938,707.1 934,707.8 930,708.5 926,709.2 922,709.9 918,710.7 914,711.4 910,712.1 906,712.8 902,713.5 898,714.2 894,714.9 890,715.7 886,716.4 882,717.2 878,718.1 874,719 870,719.9 866,720.9 862,722 858,723.1 854,724.2 850,725.3 846,726.5 842,727.6 838,728.8 834,730 830,731.1 826,732.4 822,733.6 818,734.9 814,736.3 810,737.7 806,739.3 802,740.8 798,742.5 794,744.2 790,746 786,747.8 782,749.7 778,751.7 774,753.8 770,755.9 766,758.2 762,760.7 758,763.3 754,766.2 750,769.3 746,772.6 742,776.4 738,780.6 734,784.7 730,789.1 726,793.2 722,797 718,800.9 714,805 710,809.1 706,812.8 702,816.1 698,819.2 694,822 690,824.5 686,826.7 682,828.7 678,830.7 674,832.7 670,834.7 666,836.7 662,838.7 658,840.7 654,842.8 650,844.8 646,846.9 642,848.9 638,851 634,853.1 630,855.1 626,857.2 622,859.3 618,861.5 614,864 610,866.6 606,869.3 602,872 598,874.7 594,877.2 590,879.1 586,880.3 582,881 578,881.6 574,882.3 570,883.3 566,884.6 562,886.1 558,887.9 554,890.1 550,892.5 546,895.4 542,898.5 538,901.7 534,905.1 530,908.6 526,912.3 522,915.9 518,919.4 514,922.7 510,925.8 506,928.9 502,932.1 498,935.6 494,939.5 490,943.5 486,947.4 482,951.4 478,955.3 474,959.3 470,963.2 465.8,967.2 459.8,972.9 453.8,978.5 448.8,983.2 443.8,988.1 439.8,992.2 435.8,996.5 431.8,1000.9 428.8,1004.4 425.8,1007.9 422.8,1011.6 420.3,1014.6 417.8,1017.7 415.8,1020.3 413.8,1023 412.3,1025 411,1026.8 410,1028.2 409.1,1029.4 408.3,1030.6 407.6,1031.6 407,1032.4 406.5,1033.1 406.1,1033.7 405.8,1034.2"/>
<path d="M405.8,1046.1 406.1,1042.2 406.5,1037.1 407,1030.9 407.6,1023.8 408.3,1016.1 409.1,1008.2 410,1000.4 411,992.4 412.3,983 413.8,972.9 415.8,960 417.8,947.6 420.3,932.7 422.8,918.6 425.8,903 428.8,888.8 431.8,876.2 435.8,860.8 439.8,846.6 443.8,833.8 448.8,819.6 453.8,807.3 459.8,794.1 465.8,782.4 470,774.8 474,768.1 478,761.8 482,755.8 486,750 490,744.6 494,739.3 498,734.3 502,729.5 506,724.8 510,720.2 514,715.8 518,711.5 522,707.3 526,703.3 530,699.4 534,695.6 538,691.8 542,688.1 546,684.4 550,680.7 554,677.2 558,674 562,671.3 566,668.9 570,666.8 574,664.7 578,662.7 582,660.6 586,658.6 590,656.7 594,654.9 598,653.2 602,651.7 606,650.1 610,648.6 614,646.9 618,645.1 622,643.1 626,641.1 630,639.3 634,637.4 638,635.4 642,633.5 646,631.7 650,630 654,628.3 658,626.7 662,625.3 666,624.1 670,623.1 674,622.2 678,621.2 682,619.9 686,618.4 690,616.3 694,612.8 698,608.8 702,604.6 706,600.3 710,596.7 714,593.2 718,589.6 722,586 726,581.8 730,577.5 734,574 738,572 742,570.6 746,569.4 750,568.3 754,567.1 758,566 762,565 766,563.9 770,562.8 774,561.8 778,561.1 782,560.6 786,560 790,559.2 794,558 798,556.7 802,555.2 806,553.8 810,552.5 814,551.2 818,549.9 822,548.3 826,546.4 830,543.9 834,540.9 838,537.5 842,534 846,530.4 850,526.8 854,523.2 858,519.5 862,515.7 866,511.7 870,507.6 874,503.5 878,499.3 882,495.1 886,490.9 890,486.6 894,482.2 898,477.8 902,473.3 906,468.9 910,464.5 914,460 918,455.6 922,451.1 926,446.7 930,442.4 934,438.1 938,434 942,430 946,425.9 950,421.9 954,417.9 958,414.3 962,411 966,408.1 970,405.7 974,403.5 978,401.6 982,400 986,398.9 990,397.8 994,396.8 998,396 1002,395.5 1006,395.2 1010,395.4 1014,395.9 1018,396.7 1022,397.6 1026,398.7 1030,399.8 1034,401.2 1038,402.9 1042,404.8 1046,407 1050,409.3 1054,411.7 1058,414.1 1062,416.6 1066,419.1 1070,421.8 1074,424.7 1078,427.7 1082,430.8 1086,434 1090,437.3 1094,440.5 1098,443.7 1102,447 1106,450.4 1110,453.9 1114,457.4 1118,460.9 1122,464.4 1126,467.7 1130,470.9 1134,473.9 1138,476.8 1142,479.5 1146,482.2 1150,484.8 1154,487.4 1158,490.1 1162,492.7 1166,495.3 1170,497.8 1174,500 1178,502 1182,503.8 1186,505.5 1190,507.1 1194,508.6 1198,510.1 1202,511.4 1206,512.7 1210,514 1214,515.1 1218,516.2 1222,517.1 1226,517.9 1230,518.7 1234,519.4 1238,520.1 1242,520.7 1246,521.3 1250,521.9 1254,522.4 1258,522.9 1262,523.4 1266,523.8 1270,524.1 1274,524.4 1278,524.6 1282,524.8 1286,525.1 1290,525.4 1294,525.7 1298,526 1302,526.3 1306,526.5 1310,526.6 1314,526.6 1318,526.6 1322,526.5 1326,526.5 1330,526.5 1334,526.5 1338,526.4 1342,526.3 1346,526.2 1350,526 1354,525.8 1358,525.5 1362,525.3 1366,525 1370,524.7 1374,524.4 1378,524.1 1382,523.7 1386,523.3 1390,522.9 1394,522.5 1398,522 1402,521.5 1406,521 1410,520.6 1414,520.2 1418,519.8 1422,519.3 1426,518.9 1430,518.5 1434,518.1 1438,517.4 1442,516.1 1446,514.6 1450,513.2 1454,512.1 1458,511 1462,510 1466,509 1470,507.8 1474,506.5 1478,505 1482,503.2 1486,501.2 1490,499 1494,496.7 1498,494.3 1502,491.8 1506,489.2 1510,486.5 1514,483.8 1518,480.9 1522,477.8 1526,474.7 1530,471.3 1534,467.9 1538,464.3 1542,460.4 1546,456.3 1550,451.9 1554,447.2 1558,442.2 1562,436.7 1566,430.7 1570,423.9 1574,416.6 1578,408.9 1582,401 1586,393.4 1590,386 1594,378.7 1598,371.3 1600,367.6 1602,363.7 1604,359.8 1606,355.7 1608,351.5 1610,347.1 1612,342.6 1614,338.1 1616,333.7 1618,329.4 1620,325.3 1622,321.2 1624,316.9 1626,312.4 1628,307.7 1630,302.6 1632,297.3 1634,291.9 1636,286.5 1638,281.1 1640,275 1641,271.8 1642,268.7 1643,265.9 1644,263.4 1645,261.4 1646,260.1 1647,259.2 1648,258.5 1649,257.7 1650,256.7 1651,255.6 1652,254.3 1653,252.9 1654,251.3 1655,249.6 1656,247.8 1657,245.8 1657.8,244.1 1657.8,244.1 1657,261.4 1656,280 1655,296.8 1654,312 1653,325.8 1652,339.7 1651,351.6 1650,360.6 1649,368.4 1648,376.2 1647,385.7 1646,394.8 1645,401 1644,405.9 1643,410.3 1642,414.5 1641,419.1 1640,423.9 1638,434.8 1636,446.8 1634,458.3 1632,467.5 1630,475.3 1628,482.8 1626,490.1 1624,497.1 1622,503.8 1620,510.1 1618,515.9 1616,521.1 1614,526 1612,530.4 1610,534.4 1608,538.1 1606,541.5 1604,544.7 1602,547.7 1600,550.6 1598,553.5 1594,559 1590,564.1 1586,569 1582,573.5 1578,577.9 1574,582.3 1570,586.6 1566,590.7 1562,594.4 1558,597.7 1554,600.6 1550,603.2 1546,605.6 1542,607.9 1538,609.9 1534,611.9 1530,613.8 1526,615.6 1522,617.3 1518,619 1514,620.6 1510,622.1 1506,623.6 1502,625 1498,626.5 1494,627.9 1490,629.2 1486,630.5 1482,631.8 1478,632.9 1474,634 1470,635.1 1466,636 1462,636.9 1458,637.7 1454,638.5 1450,639.2 1446,640 1442,640.7 1438,641.4 1434,642 1430,642.7 1426,643.4 1422,644.1 1418,644.9 1414,645.6 1410,646.3 1406,647 1402,647.8 1398,648.5 1394,649.2 1390,650 1386,650.7 1382,651.5 1378,652.2 1374,653 1370,653.8 1366,654.5 1362,655.3 1358,656 1354,656.8 1350,657.5 1346,658.3 1342,659 1338,659.7 1334,660.4 1330,661 1326,661.6 1322,662.3 1318,662.9 1314,663.5 1310,664 1306,664.6 1302,665.2 1298,665.7 1294,666.3 1290,666.8 1286,667.3 1282,667.9 1278,668.4 1274,668.9 1270,669.4 1266,669.9 1262,670.4 1258,670.9 1254,671.3 1250,671.8 1246,672.3 1242,672.8 1238,673.2 1234,673.7 1230,674.2 1226,674.6 1222,675.1 1218,675.6 1214,676.1 1210,676.5 1206,677 1202,677.5 1198,678 1194,678.4 1190,678.9 1186,679.4 1182,679.9 1178,680.3 1174,680.8 1170,681.3 1166,681.8 1162,682.2 1158,682.7 1154,683.2 1150,683.6 1146,684.1 1142,684.6 1138,685 1134,685.5 1130,685.9 1126,686.4 1122,686.8 1118,687.3 1114,687.8 1110,688.2 1106,688.7 1102,689.1 1098,689.6 1094,690 1090,690.4 1086,690.9 1082,691.3 1078,691.8 1074,692.2 1070,692.7 1066,693.1 1062,693.5 1058,694 1054,694.4 1050,694.8 1046,695.2 1042,695.7 1038,696.1 1034,696.5 1030,696.9 1026,697.3 1022,697.7 1018,698 1014,698.4 1010,698.8 1006,699.1 1002,699.5 998,699.9 994,700.3 990,700.7 986,701.1 982,701.5 978,702 974,702.5 970,703 966,703.5 962,704.1 958,704.7 954,705.4 950,706 946,706.7 942,707.4 938,708.1 934,708.8 930,709.5 926,710.3 922,711 918,711.8 914,712.5 910,713.2 906,714 902,714.7 898,715.4 894,716.2 890,717 886,717.8 882,718.6 878,719.5 874,720.4 870,721.4 866,722.5 862,723.6 858,724.7 854,725.9 850,727.1 846,728.3 842,729.5 838,730.7 834,731.9 830,733.1 826,734.4 822,735.7 818,737.1 814,738.5 810,740 806,741.5 802,743.2 798,744.8 794,746.6 790,748.4 786,750.3 782,752.3 778,754.3 774,756.4 770,758.6 766,760.9 762,763.4 758,766.1 754,769 750,772.1 746,775.4 742,779.2 738,783.4 734,787.5 730,791.9 726,796 722,799.8 718,803.7 714,807.8 710,811.8 706,815.5 702,818.8 698,821.9 694,824.8 690,827.2 686,829.4 682,831.5 678,833.5 674,835.5 670,837.5 666,839.5 662,841.5 658,843.5 654,845.6 650,847.6 646,849.7 642,851.8 638,853.9 634,855.9 630,858 626,860.1 622,862.2 618,864.5 614,867 610,869.6 606,872.3 602,875.1 598,877.8 594,880.5 590,882.6 586,884.1 582,885.1 578,885.9 574,886.8 570,888 566,889.5 562,891.2 558,893.3 554,895.6 550,898.3 546,901.3 542,904.6 538,908 534,911.6 530,915.3 526,919.2 522,923 518,926.7 514,930.2 510,933.4 506,936.7 502,940.1 498,943.8 494,947.8 490,952 486,956.2 482,960.3 478,964.5 474,968.6 470,972.7 465.8,977 459.8,983 453.8,988.8 448.8,993.7 443.8,998.8 439.8,1003.1 435.8,1007.5 431.8,1012.2 428.8,1015.7 425.8,1019.4 422.8,1023.1 420.3,1026.2 417.8,1029.4 415.8,1032 413.8,1034.7 412.3,1036.8 411,1038.6 410,1040 409.1,1041.3 408.3,1042.4 407.6,1043.4 407,1044.3 406.5,1045 406.1,1045.6 405.8,1046.1"/>
<path d="M405.8,1058 406.1,1054 406.5,1048.8 407,1042.4 407.6,1035.1 408.3,1027.2 409.1,1019.1 410,1011 411,1002.7 412.3,992.9 413.8,982.4 415.8,969.1 417.8,956.2 420.3,940.9 422.8,926.4 425.8,910.2 428.8,895.6 431.8,882.6 435.8,866.6 439.8,852 443.8,838.8 448.8,824.1 453.8,811.4 459.8,797.9 465.8,785.8 470,778 474,771.2 478,764.6 482,758.5 486,752.6 490,746.9 494,741.5 498,736.4 502,731.4 506,726.6 510,721.9 514,717.4 518,713 522,708.7 526,704.6 530,700.6 534,696.7 538,692.9 542,689.1 546,685.3 550,681.5 554,677.9 558,674.6 562,671.8 566,669.4 570,667.2 574,665.2 578,663.1 582,661 586,658.9 590,656.9 594,655.1 598,653.4 602,651.8 606,650.3 610,648.7 614,647 618,645.1 622,643.1 626,641.2 630,639.3 634,637.4 638,635.5 642,633.5 646,631.7 650,629.9 654,628.3 658,626.7 662,625.2 666,624 670,623 674,622 678,620.9 682,619.6 686,618.1 690,616 694,612.5 698,608.4 702,604.2 706,600 710,596.3 714,592.7 718,589.2 722,585.5 726,581.2 730,576.8 734,573.2 738,571.3 742,569.9 746,568.7 750,567.7 754,566.5 758,565.4 762,564.4 766,563.4 770,562.3 774,561.4 778,560.7 782,560.2 786,559.6 790,558.8 794,557.5 798,556.1 802,554.7 806,553.2 810,551.8 814,550.5 818,549.2 822,547.6 826,545.7 830,543.2 834,540.2 838,536.9 842,533.3 846,529.6 850,525.9 854,522.3 858,518.6 862,514.6 866,510.6 870,506.5 874,502.3 878,498.1 882,493.9 886,489.6 890,485.2 894,480.7 898,476.2 902,471.7 906,467.2 910,462.7 914,458.2 918,453.7 922,449.2 926,444.7 930,440.2 934,435.8 938,431.6 942,427.5 946,423.4 950,419.2 954,415.1 958,411.2 962,407.6 966,404.4 970,401.7 974,399.4 978,397.2 982,395.4 986,393.9 990,392.8 994,391.7 998,390.8 1002,390 1006,389.5 1010,389.4 1014,389.6 1018,390.3 1022,391.1 1026,392.2 1030,393.3 1034,394.5 1038,396.1 1042,397.9 1046,400 1050,402.3 1054,404.7 1058,407.2 1062,409.8 1066,412.4 1070,415 1074,417.9 1078,421 1082,424.1 1086,427.4 1090,430.8 1094,434.1 1098,437.5 1102,440.8 1106,444.3 1110,447.9 1114,451.5 1118,455.2 1122,458.8 1126,462.3 1130,465.7 1134,468.9 1138,472 1142,474.9 1146,477.7 1150,480.4 1154,483.1 1158,485.9 1162,488.6 1166,491.4 1170,494 1174,496.4 1178,498.6 1182,500.6 1186,502.4 1190,504.1 1194,505.7 1198,507.3 1202,508.7 1206,510.1 1210,511.4 1214,512.6 1218,513.8 1222,514.8 1226,515.7 1230,516.5 1234,517.3 1238,518 1242,518.7 1246,519.4 1250,520 1254,520.6 1258,521.1 1262,521.6 1266,522.1 1270,522.5 1274,522.8 1278,523 1282,523.3 1286,523.6 1290,523.9 1294,524.2 1298,524.6 1302,524.9 1306,525.1 1310,525.3 1314,525.4 1318,525.4 1322,525.3 1326,525.4 1330,525.4 1334,525.4 1338,525.4 1342,525.3 1346,525.2 1350,525.1 1354,524.9 1358,524.7 1362,524.5 1366,524.3 1370,524.1 1374,523.8 1378,523.4 1382,523.1 1386,522.8 1390,522.4 1394,522 1398,521.5 1402,521.1 1406,520.7 1410,520.3 1414,519.9 1418,519.5 1422,519.1 1426,518.7 1430,518.3 1434,517.9 1438,517.2 1442,515.9 1446,514.4 1450,513 1454,511.8 1458,510.8 1462,509.7 1466,508.7 1470,507.5 1474,506.2 1478,504.6 1482,502.8 1486,500.8 1490,498.6 1494,496.2 1498,493.7 1502,491.1 1506,488.5 1510,485.8 1514,483 1518,480.1 1522,477 1526,473.8 1530,470.4 1534,466.9 1538,463.2 1542,459.3 1546,455.2 1550,450.7 1554,445.9 1558,440.8 1562,435.3 1566,429.1 1570,422.2 1574,414.8 1578,406.9 1582,398.8 1586,391 1590,383.5 1594,376.1 1598,368.6 1600,364.8 1602,360.9 1604,356.8 1606,352.7 1608,348.4 1610,343.9 1612,339.3 1614,334.8 1616,330.3 1618,326 1620,321.8 1622,317.6 1624,313.2 1626,308.7 1628,303.8 1630,298.6 1632,293.1 1634,287.6 1636,282 1638,276.5 1640,270.2 1641,266.9 1642,263.7 1643,260.8 1644,258.2 1645,256.2 1646,254.9 1647,254 1648,253.3 1649,252.5 1650,251.6 1651,250.5 1652,249.2 1653,247.8 1654,246.2 1655,244.4 1656,242.5 1657,240.5 1657.8,238.8 1657.8,238.8 1657,257 1656,276.6 1655,294.3 1654,310.3 1653,324.6 1652,339.2 1651,351.5 1650,360.9 1649,368.9 1648,377 1647,386.8 1646,396.2 1645,402.6 1644,407.7 1643,412.1 1642,416.5 1641,421.1 1640,426 1638,436.9 1636,448.7 1634,460.2 1632,469.3 1630,477.1 1628,484.6 1626,491.7 1624,498.7 1622,505.2 1620,511.4 1618,517.1 1616,522.3 1614,527.1 1612,531.4 1610,535.4 1608,539 1606,542.4 1604,545.5 1602,548.5 1600,551.4 1598,554.2 1594,559.7 1590,564.8 1586,569.6 1582,574.2 1578,578.6 1574,583 1570,587.3 1566,591.4 1562,595.1 1558,598.3 1554,601.2 1550,603.9 1546,606.3 1542,608.5 1538,610.5 1534,612.5 1530,614.4 1526,616.2 1522,617.9 1518,619.5 1514,621.1 1510,622.6 1506,624.1 1502,625.5 1498,626.9 1494,628.3 1490,629.7 1486,631 1482,632.2 1478,633.4 1474,634.5 1470,635.5 1466,636.4 1462,637.3 1458,638.1 1454,638.9 1450,639.6 1446,640.3 1442,641 1438,641.7 1434,642.4 1430,643.1 1426,643.7 1422,644.4 1418,645.1 1414,645.8 1410,646.5 1406,647.2 1402,648 1398,648.7 1394,649.4 1390,650.1 1386,650.9 1382,651.6 1378,652.4 1374,653.2 1370,653.9 1366,654.7 1362,655.4 1358,656.2 1354,656.9 1350,657.7 1346,658.4 1342,659.1 1338,659.8 1334,660.5 1330,661.2 1326,661.8 1322,662.4 1318,663 1314,663.6 1310,664.2 1306,664.8 1302,665.3 1298,665.9 1294,666.4 1290,667 1286,667.5 1282,668 1278,668.5 1274,669.1 1270,669.6 1266,670.1 1262,670.6 1258,671 1254,671.5 1250,672 1246,672.5 1242,673 1238,673.4 1234,673.9 1230,674.4 1226,674.9 1222,675.4 1218,675.9 1214,676.4 1210,676.8 1206,677.3 1202,677.8 1198,678.3 1194,678.8 1190,679.3 1186,679.8 1182,680.2 1178,680.7 1174,681.2 1170,681.7 1166,682.2 1162,682.7 1158,683.1 1154,683.6 1150,684.1 1146,684.6 1142,685 1138,685.5 1134,686 1130,686.4 1126,686.9 1122,687.4 1118,687.8 1114,688.3 1110,688.7 1106,689.2 1102,689.7 1098,690.1 1094,690.6 1090,691 1086,691.5 1082,691.9 1078,692.4 1074,692.8 1070,693.3 1066,693.7 1062,694.2 1058,694.6 1054,695.1 1050,695.5 1046,695.9 1042,696.4 1038,696.8 1034,697.2 1030,697.6 1026,698 1022,698.4 1018,698.8 1014,699.2 1010,699.5 1006,699.9 1002,700.3 998,700.7 994,701.1 990,701.5 986,701.9 982,702.4 978,702.8 974,703.3 970,703.8 966,704.4 962,705 958,705.6 954,706.3 950,706.9 946,707.6 942,708.3 938,709.1 934,709.8 930,710.6 926,711.3 922,712.1 918,712.9 914,713.6 910,714.4 906,715.2 902,715.9 898,716.7 894,717.5 890,718.3 886,719.1 882,720 878,720.9 874,721.9 870,722.9 866,724 862,725.2 858,726.4 854,727.6 850,728.8 846,730.1 842,731.3 838,732.5 834,733.8 830,735.1 826,736.4 822,737.8 818,739.2 814,740.7 810,742.2 806,743.8 802,745.5 798,747.2 794,749 790,750.9 786,752.9 782,754.9 778,757 774,759.1 770,761.4 766,763.7 762,766.2 758,769 754,771.8 750,774.9 746,778.2 742,782 738,786.1 734,790.3 730,794.7 726,798.8 722,802.6 718,806.6 714,810.6 710,814.5 706,818.2 702,821.5 698,824.6 694,827.5 690,829.9 686,832.1 682,834.2 678,836.2 674,838.2 670,840.2 666,842.2 662,844.3 658,846.3 654,848.4 650,850.4 646,852.5 642,854.6 638,856.7 634,858.8 630,860.9 626,863 622,865.2 618,867.5 614,869.9 610,872.6 606,875.4 602,878.1 598,881 594,883.7 590,886 586,887.8 582,889 578,890 574,891.2 570,892.6 566,894.3 562,896.2 558,898.5 554,901 550,903.8 546,907.1 542,910.5 538,914.2 534,917.9 530,921.8 526,925.9 522,929.9 518,933.8 514,937.5 510,940.9 506,944.3 502,947.9 498,951.8 494,956 490,960.5 486,964.9 482,969.2 478,973.6 474,977.9 470,982.2 465.8,986.7 459.8,992.9 453.8,999 448.8,1004.2 443.8,1009.5 439.8,1014 435.8,1018.6 431.8,1023.4 428.8,1027 425.8,1030.8 422.8,1034.6 420.3,1037.8 417.8,1041.1 415.8,1043.7 413.8,1046.5 412.3,1048.6 411,1050.4 410,1051.9 409.1,1053.1 408.3,1054.3 407.6,1055.3 407,1056.2 406.5,1056.9 406.1,1057.5 405.8,1058"/>
<path d="M405.8,1070 406.1,1065.9 406.5,1060.6 407,1054 407.6,1046.5 408.3,1038.3 409.1,1030 410,1021.6 411,1013 412.3,1002.8 413.8,992 415.8,978.2 417.8,964.9 420.3,949.1 422.8,934.1 425.8,917.5 428.8,902.4 431.8,889 435.8,872.5 439.8,857.4 443.8,843.7 448.8,828.6 453.8,815.5 459.8,801.6 465.8,789.2 470,781.3 474,774.2 478,767.5 482,761.2 486,755.1 490,749.3 494,743.8 498,738.5 502,733.3 506,728.4 510,723.6 514,718.9 518,714.4 522,710.1 526,705.9 530,701.8 534,697.8 538,693.9 542,690 546,686.1 550,682.3 554,678.6 558,675.2 562,672.4 566,670 570,667.7 574,665.6 578,663.4 582,661.3 586,659.2 590,657.2 594,655.3 598,653.6 602,652 606,650.4 610,648.8 614,647.1 618,645.2 622,643.2 626,641.2 630,639.3 634,637.4 638,635.5 642,633.5 646,631.7 650,629.9 654,628.2 658,626.6 662,625.1 666,623.9 670,622.8 674,621.8 678,620.7 682,619.4 686,617.8 690,615.7 694,612.1 698,608 702,603.9 706,599.7 710,595.9 714,592.3 718,588.7 722,584.9 726,580.6 730,576 734,572.4 738,570.5 742,569.1 746,568 750,566.9 754,565.9 758,564.8 762,563.8 766,562.9 770,561.9 774,561 778,560.3 782,559.7 786,559.1 790,558.3 794,557 798,555.6 802,554.1 806,552.5 810,551.1 814,549.8 818,548.4 822,546.8 826,544.9 830,542.4 834,539.5 838,536.1 842,532.5 846,528.8 850,525 854,521.2 858,517.5 862,513.5 866,509.5 870,505.3 874,501 878,496.7 882,492.4 886,488.1 890,483.7 894,479.1 898,474.6 902,470 906,465.3 910,460.7 914,456.2 918,451.6 922,447 926,442.4 930,437.8 934,433.3 938,429 942,424.7 946,420.5 950,416.3 954,412.1 958,408 962,404.1 966,400.6 970,397.5 974,394.9 978,392.6 982,390.5 986,388.7 990,387.4 994,386.3 998,385.2 1002,384.3 1006,383.6 1010,383.2 1014,383.1 1018,383.5 1022,384.2 1026,385.2 1030,386.3 1034,387.5 1038,388.8 1042,390.5 1046,392.5 1050,394.7 1054,397.2 1058,399.7 1062,402.4 1066,405 1070,407.7 1074,410.6 1078,413.6 1082,416.9 1086,420.2 1090,423.6 1094,427.1 1098,430.7 1102,434.1 1106,437.7 1110,441.3 1114,445.1 1118,448.9 1122,452.6 1126,456.4 1130,460 1134,463.5 1138,466.7 1142,469.8 1146,472.8 1150,475.7 1154,478.5 1158,481.3 1162,484.2 1166,487.1 1170,489.9 1174,492.5 1178,494.9 1182,497 1186,499 1190,500.8 1194,502.6 1198,504.2 1202,505.7 1206,507.2 1210,508.6 1214,509.9 1218,511.2 1222,512.3 1226,513.3 1230,514.2 1234,515 1238,515.8 1242,516.6 1246,517.3 1250,517.9 1254,518.6 1258,519.2 1262,519.8 1266,520.3 1270,520.7 1274,521.1 1278,521.4 1282,521.7 1286,522 1290,522.3 1294,522.7 1298,523 1302,523.4 1306,523.7 1310,523.9 1314,524 1318,524 1322,524 1326,524.1 1330,524.2 1334,524.3 1338,524.3 1342,524.3 1346,524.2 1350,524.1 1354,524 1358,523.9 1362,523.7 1366,523.5 1370,523.3 1374,523.1 1378,522.8 1382,522.5 1386,522.2 1390,521.8 1394,521.5 1398,521.1 1402,520.7 1406,520.3 1410,519.9 1414,519.5 1418,519.2 1422,518.8 1426,518.4 1430,518.1 1434,517.7 1438,517 1442,515.7 1446,514.2 1450,512.8 1454,511.6 1458,510.5 1462,509.5 1466,508.4 1470,507.2 1474,505.9 1478,504.3 1482,502.4 1486,500.3 1490,498.1 1494,495.6 1498,493.1 1502,490.4 1506,487.7 1510,485 1514,482.2 1518,479.2 1522,476.1 1526,472.8 1530,469.4 1534,465.9 1538,462.2 1542,458.2 1546,454 1550,449.5 1554,444.6 1558,439.4 1562,433.8 1566,427.6 1570,420.5 1574,412.9 1578,404.9 1582,396.6 1586,388.7 1590,381 1594,373.5 1598,365.8 1600,362 1602,358 1604,353.9 1606,349.7 1608,345.3 1610,340.8 1612,336.1 1614,331.4 1616,326.9 1618,322.5 1620,318.2 1622,313.9 1624,309.5 1626,304.9 1628,299.9 1630,294.5 1632,289 1634,283.3 1636,277.6 1638,271.9 1640,265.4 1641,262 1642,258.7 1643,255.7 1644,253 1645,251 1646,249.6 1647,248.8 1648,248.1 1649,247.4 1650,246.5 1651,245.4 1652,244.1 1653,242.7 1654,241 1655,239.3 1656,237.3 1657,235.3 1657.8,233.5 1657.8,233.5 1657,252.7 1656,273.3 1655,291.9 1654,308.5 1653,323.5 1652,338.6 1651,351.4 1650,361.1 1649,369.4 1648,377.8 1647,387.9 1646,397.6 1645,404.2 1644,409.4 1643,413.9 1642,418.4 1641,423.1 1640,428 1638,439 1636,450.7 1634,462.1 1632,471.1 1630,478.9 1628,486.3 1626,493.4 1624,500.2 1622,506.7 1620,512.8 1618,518.4 1616,523.5 1614,528.2 1612,532.5 1610,536.4 1608,539.9 1606,543.2 1604,546.4 1602,549.3 1600,552.2 1598,555 1594,560.4 1590,565.5 1586,570.3 1582,574.9 1578,579.3 1574,583.7 1570,588 1566,592.1 1562,595.8 1558,599 1554,601.9 1550,604.5 1546,606.9 1542,609.1 1538,611.1 1534,613.1 1530,615 1526,616.7 1522,618.4 1518,620 1514,621.6 1510,623.1 1506,624.6 1502,626 1498,627.4 1494,628.8 1490,630.2 1486,631.5 1482,632.7 1478,633.9 1474,634.9 1470,635.9 1466,636.9 1462,637.7 1458,638.5 1454,639.3 1450,640 1446,640.7 1442,641.4 1438,642.1 1434,642.7 1430,643.4 1426,644.1 1422,644.7 1418,645.4 1414,646.1 1410,646.8 1406,647.5 1402,648.2 1398,648.9 1394,649.6 1390,650.3 1386,651.1 1382,651.8 1378,652.6 1374,653.3 1370,654.1 1366,654.8 1362,655.6 1358,656.3 1354,657.1 1350,657.8 1346,658.6 1342,659.3 1338,660 1334,660.7 1330,661.3 1326,662 1322,662.6 1318,663.2 1314,663.8 1310,664.3 1306,664.9 1302,665.5 1298,666 1294,666.6 1290,667.1 1286,667.7 1282,668.2 1278,668.7 1274,669.2 1270,669.7 1266,670.2 1262,670.7 1258,671.2 1254,671.7 1250,672.2 1246,672.7 1242,673.2 1238,673.7 1234,674.2 1230,674.7 1226,675.2 1222,675.7 1218,676.1 1214,676.6 1210,677.1 1206,677.6 1202,678.1 1198,678.6 1194,679.1 1190,679.6 1186,680.1 1182,680.6 1178,681.1 1174,681.6 1170,682.1 1166,682.6 1162,683.1 1158,683.6 1154,684.1 1150,684.5 1146,685 1142,685.5 1138,686 1134,686.5 1130,686.9 1126,687.4 1122,687.9 1118,688.4 1114,688.8 1110,689.3 1106,689.8 1102,690.2 1098,690.7 1094,691.2 1090,691.6 1086,692.1 1082,692.5 1078,693 1074,693.5 1070,693.9 1066,694.4 1062,694.8 1058,695.3 1054,695.7 1050,696.2 1046,696.6 1042,697 1038,697.5 1034,697.9 1030,698.3 1026,698.7 1022,699.1 1018,699.5 1014,699.9 1010,700.3 1006,700.7 1002,701 998,701.4 994,701.9 990,702.3 986,702.7 982,703.2 978,703.6 974,704.1 970,704.7 966,705.3 962,705.9 958,706.5 954,707.2 950,707.9 946,708.6 942,709.3 938,710.1 934,710.8 930,711.6 926,712.4 922,713.2 918,714 914,714.8 910,715.6 906,716.3 902,717.1 898,717.9 894,718.8 890,719.6 886,720.5 882,721.4 878,722.3 874,723.3 870,724.4 866,725.6 862,726.8 858,728 854,729.3 850,730.6 846,731.8 842,733.1 838,734.4 834,735.7 830,737.1 826,738.4 822,739.8 818,741.3 814,742.8 810,744.4 806,746.1 802,747.8 798,749.6 794,751.5 790,753.4 786,755.4 782,757.5 778,759.6 774,761.8 770,764.1 766,766.5 762,769 758,771.8 754,774.7 750,777.7 746,781 742,784.8 738,788.9 734,793.1 730,797.4 726,801.5 722,805.4 718,809.4 714,813.4 710,817.3 706,820.9 702,824.2 698,827.3 694,830.2 690,832.6 686,834.8 682,836.9 678,838.9 674,840.9 670,843 666,845 662,847.1 658,849.1 654,851.2 650,853.3 646,855.4 642,857.5 638,859.6 634,861.7 630,863.8 626,865.9 622,868.1 618,870.4 614,872.9 610,875.6 606,878.4 602,881.2 598,884.1 594,886.9 590,889.4 586,891.3 582,892.8 578,894.1 574,895.4 570,897 566,898.9 562,901.1 558,903.5 554,906.3 550,909.3 546,912.7 542,916.4 538,920.2 534,924.1 530,928.2 526,932.5 522,936.7 518,940.8 514,944.6 510,948.2 506,951.8 502,955.6 498,959.7 494,964.1 490,968.8 486,973.4 482,977.9 478,982.5 474,987.1 470,991.6 465.8,996.3 459.8,1002.8 453.8,1009.2 448.8,1014.6 443.8,1020.2 439.8,1024.8 435.8,1029.6 431.8,1034.5 428.8,1038.3 425.8,1042.2 422.8,1046.1 420.3,1049.4 417.8,1052.8 415.8,1055.5 413.8,1058.3 412.3,1060.4 411,1062.3 410,1063.8 409.1,1065.1 408.3,1066.2 407.6,1067.3 407,1068.2 406.5,1068.9 406.1,1069.5 405.8,1070"/>
<path d="M405.8,1082 406.1,1077.8 406.5,1072.4 407,1065.7 407.6,1057.9 408.3,1049.5 409.1,1040.9 410,1032.2 411,1023.4 412.3,1012.8 413.8,1001.6 415.8,987.3 417.8,973.6 420.3,957.3 422.8,941.9 425.8,924.8 428.8,909.3 431.8,895.5 435.8,878.5 439.8,862.9 443.8,848.7 448.8,833.1 453.8,819.7 459.8,805.4 465.8,792.6 470,784.5 474,777.3 478,770.4 482,763.9 486,757.6 490,751.7 494,746 498,740.5 502,735.3 506,730.2 510,725.3 514,720.5 518,715.9 522,711.5 526,707.2 530,703 534,698.9 538,694.9 542,691 546,687 550,683.1 554,679.3 558,675.9 562,673 566,670.5 570,668.2 574,666 578,663.8 582,661.6 586,659.5 590,657.5 594,655.5 598,653.8 602,652.1 606,650.5 610,648.9 614,647.2 618,645.3 622,643.2 626,641.2 630,639.3 634,637.4 638,635.5 642,633.5 646,631.7 650,629.9 654,628.2 658,626.5 662,625 666,623.7 670,622.7 674,621.6 678,620.5 682,619.1 686,617.5 690,615.4 694,611.8 698,607.7 702,603.5 706,599.3 710,595.6 714,591.9 718,588.2 722,584.4 726,579.9 730,575.3 734,571.7 738,569.8 742,568.4 746,567.3 750,566.3 754,565.2 758,564.2 762,563.3 766,562.4 770,561.4 774,560.6 778,559.9 782,559.3 786,558.7 790,557.8 794,556.5 798,555 802,553.5 806,551.9 810,550.4 814,549.1 818,547.7 822,546.1 826,544.1 830,541.7 834,538.8 838,535.4 842,531.8 846,527.9 850,524.1 854,520.3 858,516.5 862,512.5 866,508.4 870,504.1 874,499.8 878,495.5 882,491.1 886,486.7 890,482.2 894,477.7 898,473 902,468.3 906,463.6 910,459 914,454.3 918,449.7 922,445 926,440.3 930,435.7 934,431 938,426.5 942,422.1 946,417.9 950,413.6 954,409.3 958,405.1 962,401 966,397.2 970,393.8 974,390.9 978,388.4 982,386.1 986,384.1 990,382.4 994,381.2 998,380.1 1002,379 1006,378.1 1010,377.5 1014,377.2 1018,377.2 1022,377.7 1026,378.6 1030,379.7 1034,380.9 1038,382.1 1042,383.7 1046,385.5 1050,387.7 1054,390 1058,392.6 1062,395.3 1066,398.1 1070,400.8 1074,403.7 1078,406.7 1082,410 1086,413.4 1090,416.9 1094,420.5 1098,424.1 1102,427.7 1106,431.3 1110,435.1 1114,438.9 1118,442.8 1122,446.8 1126,450.7 1130,454.5 1134,458.2 1138,461.6 1142,464.9 1146,468.1 1150,471.1 1154,474.1 1158,477 1162,479.9 1166,482.9 1170,485.9 1174,488.7 1178,491.3 1182,493.6 1186,495.7 1190,497.7 1194,499.5 1198,501.2 1202,502.9 1206,504.4 1210,505.9 1214,507.3 1218,508.7 1222,509.9 1226,511 1230,512 1234,512.9 1238,513.7 1242,514.5 1246,515.3 1250,516 1254,516.7 1258,517.3 1262,518 1266,518.5 1270,519 1274,519.4 1278,519.8 1282,520.1 1286,520.5 1290,520.8 1294,521.2 1298,521.6 1302,522 1306,522.3 1310,522.5 1314,522.7 1318,522.8 1322,522.8 1326,522.9 1330,523 1334,523.1 1338,523.2 1342,523.2 1346,523.2 1350,523.2 1354,523.1 1358,523.1 1362,523 1366,522.8 1370,522.6 1374,522.4 1378,522.1 1382,521.9 1386,521.6 1390,521.3 1394,521 1398,520.6 1402,520.3 1406,519.9 1410,519.5 1414,519.2 1418,518.9 1422,518.5 1426,518.2 1430,517.9 1434,517.5 1438,516.8 1442,515.6 1446,514 1450,512.5 1454,511.4 1458,510.3 1462,509.2 1466,508.1 1470,506.9 1474,505.5 1478,503.9 1482,502 1486,499.9 1490,497.6 1494,495.1 1498,492.5 1502,489.8 1506,487 1510,484.2 1514,481.4 1518,478.4 1522,475.2 1526,471.9 1530,468.5 1534,464.9 1538,461.2 1542,457.2 1546,452.9 1550,448.3 1554,443.4 1558,438.1 1562,432.4 1566,426 1570,418.8 1574,411.1 1578,402.9 1582,394.5 1586,386.3 1590,378.5 1594,370.8 1598,363.1 1600,359.2 1602,355.1 1604,351 1606,346.7 1608,342.3 1610,337.6 1612,332.9 1614,328.1 1616,323.5 1618,319 1620,314.7 1622,310.3 1624,305.9 1626,301.1 1628,296 1630,290.5 1632,284.8 1634,279 1636,273.1 1638,267.3 1640,260.5 1641,257 1642,253.6 1643,250.5 1644,247.8 1645,245.7 1646,244.4 1647,243.6 1648,242.9 1649,242.2 1650,241.4 1651,240.3 1652,239 1653,237.5 1654,235.9 1655,234.1 1656,232.1 1657,230 1657.8,228.2 1657.8,228.2 1657,248.4 1656,270 1655,289.4 1654,306.8 1653,322.4 1652,338.1 1651,351.3 1650,361.4 1649,370 1648,378.6 1647,389 1646,399 1645,405.7 1644,411.1 1643,415.8 1642,420.3 1641,425.2 1640,430.1 1638,441 1636,452.7 1634,464 1632,473 1630,480.7 1628,488 1626,495 1624,501.8 1622,508.1 1620,514.1 1618,519.6 1616,524.6 1614,529.3 1612,533.5 1610,537.3 1608,540.9 1606,544.1 1604,547.2 1602,550.1 1600,553 1598,555.7 1594,561.1 1590,566.2 1586,571 1582,575.6 1578,580 1574,584.4 1570,588.7 1566,592.8 1562,596.5 1558,599.7 1554,602.6 1550,605.2 1546,607.5 1542,609.7 1538,611.7 1534,613.7 1530,615.5 1526,617.3 1522,618.9 1518,620.6 1514,622.1 1510,623.6 1506,625.1 1502,626.5 1498,627.9 1494,629.3 1490,630.6 1486,631.9 1482,633.2 1478,634.3 1474,635.4 1470,636.4 1466,637.3 1462,638.1 1458,638.9 1454,639.7 1450,640.4 1446,641.1 1442,641.8 1438,642.4 1434,643.1 1430,643.7 1426,644.4 1422,645 1418,645.7 1414,646.3 1410,647 1406,647.7 1402,648.4 1398,649.1 1394,649.8 1390,650.5 1386,651.2 1382,652 1378,652.7 1374,653.5 1370,654.2 1366,655 1362,655.8 1358,656.5 1354,657.2 1350,658 1346,658.7 1342,659.4 1338,660.1 1334,660.8 1330,661.5 1326,662.1 1322,662.7 1318,663.3 1314,663.9 1310,664.5 1306,665.1 1302,665.6 1298,666.2 1294,666.7 1290,667.3 1286,667.8 1282,668.3 1278,668.9 1274,669.4 1270,669.9 1266,670.4 1262,670.9 1258,671.4 1254,671.9 1250,672.4 1246,672.9 1242,673.4 1238,673.9 1234,674.4 1230,674.9 1226,675.4 1222,675.9 1218,676.4 1214,676.9 1210,677.4 1206,677.9 1202,678.5 1198,679 1194,679.5 1190,680 1186,680.5 1182,681 1178,681.5 1174,682 1170,682.5 1166,683 1162,683.5 1158,684 1154,684.5 1150,685 1146,685.5 1142,686 1138,686.5 1134,687 1130,687.4 1126,687.9 1122,688.4 1118,688.9 1114,689.4 1110,689.8 1106,690.3 1102,690.8 1098,691.3 1094,691.7 1090,692.2 1086,692.7 1082,693.2 1078,693.6 1074,694.1 1070,694.5 1066,695 1062,695.5 1058,695.9 1054,696.4 1050,696.8 1046,697.3 1042,697.7 1038,698.2 1034,698.6 1030,699 1026,699.5 1022,699.9 1018,700.2 1014,700.6 1010,701 1006,701.4 1002,701.8 998,702.2 994,702.6 990,703.1 986,703.5 982,704 978,704.5 974,705 970,705.5 966,706.1 962,706.7 958,707.4 954,708.1 950,708.8 946,709.5 942,710.3 938,711.1 934,711.8 930,712.6 926,713.4 922,714.3 918,715.1 914,715.9 910,716.7 906,717.5 902,718.3 898,719.2 894,720 890,720.9 886,721.8 882,722.8 878,723.8 874,724.8 870,725.9 866,727.1 862,728.4 858,729.6 854,731 850,732.3 846,733.6 842,735 838,736.3 834,737.7 830,739 826,740.5 822,741.9 818,743.4 814,745 810,746.6 806,748.3 802,750.1 798,752 794,753.9 790,755.9 786,758 782,760.1 778,762.3 774,764.5 770,766.8 766,769.2 762,771.8 758,774.6 754,777.5 750,780.6 746,783.9 742,787.6 738,791.7 734,795.8 730,800.2 726,804.3 722,808.2 718,812.2 714,816.1 710,820 706,823.6 702,826.9 698,830 694,832.9 690,835.3 686,837.6 682,839.6 678,841.7 674,843.7 670,845.7 666,847.8 662,849.8 658,851.9 654,854 650,856.1 646,858.2 642,860.3 638,862.5 634,864.6 630,866.7 626,868.9 622,871.1 618,873.4 614,875.9 610,878.6 606,881.4 602,884.3 598,887.1 594,890 590,892.6 586,894.8 582,896.5 578,898 574,899.6 570,901.4 566,903.5 562,905.9 558,908.5 554,911.4 550,914.6 546,918.2 542,922.1 538,926.1 534,930.2 530,934.4 526,938.9 522,943.4 518,947.6 514,951.6 510,955.4 506,959.2 502,963.1 498,967.4 494,972.1 490,976.9 486,981.8 482,986.5 478,991.3 474,996.1 470,1000.8 465.8,1005.7 459.8,1012.6 453.8,1019.3 448.8,1024.9 443.8,1030.8 439.8,1035.6 435.8,1040.5 431.8,1045.7 428.8,1049.6 425.8,1053.6 422.8,1057.6 420.3,1061 417.8,1064.5 415.8,1067.3 413.8,1070.1 412.3,1072.3 411,1074.2 410,1075.7 409.1,1077 408.3,1078.2 407.6,1079.3 407,1080.2 406.5,1080.9 406.1,1081.5 405.8,1082"/>
<path d="M405.8,1094.1 406.1,1089.8 406.5,1084.2 407,1077.3 407.6,1069.4 408.3,1060.8 409.1,1051.9 410,1042.9 411,1033.8 412.3,1022.9 413.8,1011.2 415.8,996.5 417.8,982.4 420.3,965.6 422.8,949.8 425.8,932.2 428.8,916.2 431.8,901.9 435.8,884.4 439.8,868.3 443.8,853.7 448.8,837.6 453.8,823.8 459.8,809.1 465.8,796.1 470,787.8 474,780.3 478,773.3 482,766.6 486,760.2 490,754.1 494,748.2 498,742.6 502,737.3 506,732.1 510,727 514,722.1 518,717.4 522,712.9 526,708.5 530,704.2 534,700 538,695.9 542,691.9 546,687.9 550,683.9 554,680 558,676.5 562,673.6 566,671 570,668.7 574,666.4 578,664.2 582,662 586,659.8 590,657.7 594,655.8 598,654 602,652.3 606,650.7 610,649 614,647.3 618,645.3 622,643.3 626,641.3 630,639.4 634,637.4 638,635.5 642,633.5 646,631.7 650,629.9 654,628.1 658,626.5 662,624.9 666,623.6 670,622.5 674,621.4 678,620.3 682,618.9 686,617.3 690,615.1 694,611.4 698,607.3 702,603.2 706,599 710,595.2 714,591.5 718,587.7 722,583.8 726,579.3 730,574.7 734,570.9 738,569 742,567.7 746,566.6 750,565.6 754,564.6 758,563.6 762,562.7 766,561.9 770,561 774,560.2 778,559.5 782,558.9 786,558.3 790,557.4 794,556 798,554.5 802,552.9 806,551.3 810,549.7 814,548.3 818,546.9 822,545.3 826,543.4 830,541 834,538 838,534.7 842,531 846,527.2 850,523.2 854,519.3 858,515.4 862,511.4 866,507.3 870,503 874,498.7 878,494.2 882,489.8 886,485.3 890,480.8 894,476.2 898,471.5 902,466.7 906,462 910,457.2 914,452.4 918,447.7 922,443 926,438.3 930,433.5 934,428.8 938,424.1 942,419.6 946,415.2 950,410.9 954,406.5 958,402.2 962,397.9 966,393.9 970,390.2 974,387 978,384.2 982,381.8 986,379.5 990,377.6 994,376.1 998,374.9 1002,373.8 1006,372.8 1010,372 1014,371.4 1018,371.2 1022,371.5 1026,372.1 1030,373.1 1034,374.3 1038,375.6 1042,376.9 1046,378.6 1050,380.7 1054,383 1058,385.5 1062,388.2 1066,391.1 1070,393.9 1074,396.8 1078,399.8 1082,403.1 1086,406.5 1090,410.1 1094,413.8 1098,417.5 1102,421.3 1106,425 1110,428.8 1114,432.7 1118,436.7 1122,440.8 1126,444.9 1130,448.9 1134,452.8 1138,456.5 1142,460 1146,463.3 1150,466.5 1154,469.6 1158,472.6 1162,475.6 1166,478.7 1170,481.8 1174,484.8 1178,487.6 1182,490.1 1186,492.4 1190,494.5 1194,496.4 1198,498.3 1202,500 1206,501.6 1210,503.2 1214,504.7 1218,506.1 1222,507.5 1226,508.7 1230,509.7 1234,510.7 1238,511.6 1242,512.5 1246,513.3 1250,514 1254,514.8 1258,515.5 1262,516.2 1266,516.8 1270,517.3 1274,517.8 1278,518.2 1282,518.6 1286,518.9 1290,519.3 1294,519.7 1298,520.1 1302,520.5 1306,520.9 1310,521.1 1314,521.3 1318,521.5 1322,521.6 1326,521.7 1330,521.9 1334,522 1338,522.1 1342,522.2 1346,522.3 1350,522.3 1354,522.3 1358,522.2 1362,522.2 1366,522.1 1370,521.9 1374,521.7 1378,521.5 1382,521.3 1386,521 1390,520.8 1394,520.5 1398,520.2 1402,519.8 1406,519.5 1410,519.2 1414,518.9 1418,518.6 1422,518.3 1426,518 1430,517.7 1434,517.3 1438,516.7 1442,515.4 1446,513.8 1450,512.3 1454,511.1 1458,510 1462,508.9 1466,507.8 1470,506.6 1474,505.2 1478,503.6 1482,501.7 1486,499.5 1490,497.1 1494,494.5 1498,491.9 1502,489.1 1506,486.3 1510,483.5 1514,480.6 1518,477.6 1522,474.4 1526,471 1530,467.6 1534,463.9 1538,460.1 1542,456.1 1546,451.7 1550,447.1 1554,442.1 1558,436.7 1562,430.9 1566,424.4 1570,417.1 1574,409.3 1578,400.8 1582,392.3 1586,384 1590,376 1594,368.2 1598,360.3 1600,356.3 1602,352.3 1604,348 1606,343.7 1608,339.2 1610,334.5 1612,329.6 1614,324.8 1616,320.1 1618,315.5 1620,311.1 1622,306.7 1624,302.2 1626,297.3 1628,292.1 1630,286.5 1632,280.7 1634,274.7 1636,268.7 1638,262.7 1640,255.7 1641,252.1 1642,248.6 1643,245.4 1644,242.6 1645,240.5 1646,239.2 1647,238.4 1648,237.8 1649,237.1 1650,236.2 1651,235.2 1652,233.9 1653,232.4 1654,230.7 1655,228.9 1656,226.9 1657,224.8 1657.8,222.9 1657.8,222.9 1657,244.1 1656,266.7 1655,286.9 1654,305.1 1653,321.2 1652,337.5 1651,351.2 1650,361.6 1649,370.5 1648,379.4 1647,390.1 1646,400.4 1645,407.3 1644,412.8 1643,417.6 1642,422.2 1641,427.2 1640,432.2 1638,443.1 1636,454.6 1634,465.9 1632,474.8 1630,482.5 1628,489.7 1626,496.7 1624,503.3 1622,509.6 1620,515.5 1618,520.9 1616,525.8 1614,530.4 1612,534.5 1610,538.3 1608,541.8 1606,545 1604,548 1602,550.9 1600,553.7 1598,556.5 1594,561.8 1590,566.9 1586,571.7 1582,576.3 1578,580.7 1574,585.1 1570,589.4 1566,593.5 1562,597.3 1558,600.4 1554,603.3 1550,605.8 1546,608.2 1542,610.3 1538,612.3 1534,614.3 1530,616.1 1526,617.8 1522,619.5 1518,621.1 1514,622.6 1510,624.1 1506,625.6 1502,627 1498,628.4 1494,629.8 1490,631.1 1486,632.4 1482,633.6 1478,634.8 1474,635.9 1470,636.8 1466,637.7 1462,638.6 1458,639.3 1454,640.1 1450,640.8 1446,641.5 1442,642.1 1438,642.8 1434,643.4 1430,644 1426,644.7 1422,645.3 1418,646 1414,646.6 1410,647.3 1406,647.9 1402,648.6 1398,649.3 1394,650 1390,650.7 1386,651.4 1382,652.2 1378,652.9 1374,653.6 1370,654.4 1366,655.2 1362,655.9 1358,656.7 1354,657.4 1350,658.1 1346,658.9 1342,659.6 1338,660.3 1334,661 1330,661.6 1326,662.3 1322,662.9 1318,663.5 1314,664.1 1310,664.7 1306,665.2 1302,665.8 1298,666.4 1294,666.9 1290,667.4 1286,668 1282,668.5 1278,669 1274,669.5 1270,670.1 1266,670.6 1262,671.1 1258,671.6 1254,672.1 1250,672.6 1246,673.1 1242,673.6 1238,674.1 1234,674.6 1230,675.2 1226,675.7 1222,676.2 1218,676.7 1214,677.2 1210,677.7 1206,678.3 1202,678.8 1198,679.3 1194,679.8 1190,680.3 1186,680.8 1182,681.4 1178,681.9 1174,682.4 1170,682.9 1166,683.4 1162,683.9 1158,684.4 1154,684.9 1150,685.4 1146,685.9 1142,686.4 1138,686.9 1134,687.4 1130,687.9 1126,688.4 1122,688.9 1118,689.4 1114,689.9 1110,690.4 1106,690.9 1102,691.4 1098,691.8 1094,692.3 1090,692.8 1086,693.3 1082,693.8 1078,694.2 1074,694.7 1070,695.2 1066,695.6 1062,696.1 1058,696.6 1054,697 1050,697.5 1046,698 1042,698.4 1038,698.9 1034,699.3 1030,699.8 1026,700.2 1022,700.6 1018,701 1014,701.4 1010,701.8 1006,702.2 1002,702.6 998,703 994,703.4 990,703.9 986,704.3 982,704.8 978,705.3 974,705.8 970,706.4 966,707 962,707.6 958,708.3 954,709 950,709.7 946,710.5 942,711.2 938,712 934,712.8 930,713.7 926,714.5 922,715.3 918,716.2 914,717 910,717.9 906,718.7 902,719.6 898,720.4 894,721.3 890,722.2 886,723.2 882,724.2 878,725.2 874,726.3 870,727.4 866,728.7 862,729.9 858,731.3 854,732.6 850,734 846,735.4 842,736.8 838,738.2 834,739.6 830,741 826,742.5 822,744 818,745.5 814,747.2 810,748.8 806,750.6 802,752.5 798,754.4 794,756.4 790,758.4 786,760.5 782,762.7 778,764.9 774,767.2 770,769.6 766,772 762,774.6 758,777.4 754,780.3 750,783.4 746,786.7 742,790.4 738,794.5 734,798.6 730,803 726,807.1 722,811 718,815 714,818.9 710,822.7 706,826.3 702,829.6 698,832.7 694,835.6 690,838.1 686,840.3 682,842.4 678,844.4 674,846.4 670,848.4 666,850.5 662,852.6 658,854.7 654,856.8 650,858.9 646,861 642,863.2 638,865.3 634,867.4 630,869.6 626,871.8 622,874 618,876.4 614,878.9 610,881.7 606,884.5 602,887.3 598,890.2 594,893.1 590,895.9 586,898.2 582,900.1 578,901.8 574,903.6 570,905.6 566,907.9 562,910.5 558,913.3 554,916.4 550,919.8 546,923.6 542,927.6 538,931.8 534,936.1 530,940.6 526,945.2 522,949.9 518,954.3 514,958.5 510,962.5 506,966.4 502,970.5 498,975 494,979.9 490,985 486,990 482,995 478,1000 474,1005 470,1010 465.8,1015.1 459.8,1022.3 453.8,1029.3 448.8,1035.2 443.8,1041.3 439.8,1046.3 435.8,1051.5 431.8,1056.8 428.8,1060.9 425.8,1065 422.8,1069.1 420.3,1072.6 417.8,1076.2 415.8,1079.1 413.8,1082 412.3,1084.2 411,1086.2 410,1087.7 409.1,1089 408.3,1090.2 407.6,1091.3 407,1092.2 406.5,1093 406.1,1093.6 405.8,1094.1"/>
<path d="M405.8,1106.2 406.1,1101.8 406.5,1096.1 407,1089 407.6,1080.9 408.3,1072 409.1,1062.9 410,1053.7 411,1044.2 412.3,1032.9 413.8,1020.9 415.8,1005.7 417.8,991.2 420.3,973.9 422.8,957.6 425.8,939.5 428.8,923.1 431.8,908.4 435.8,890.4 439.8,873.8 443.8,858.8 448.8,842.2 453.8,828 459.8,812.9 465.8,799.6 470,791 474,783.4 478,776.2 482,769.3 486,762.7 490,756.5 494,750.5 498,744.7 502,739.2 506,733.9 510,728.7 514,723.7 518,718.9 522,714.3 526,709.8 530,705.4 534,701.1 538,697 542,692.9 546,688.7 550,684.7 554,680.7 558,677.2 562,674.2 566,671.5 570,669.1 574,666.9 578,664.6 582,662.3 586,660.1 590,658 594,656 598,654.1 602,652.4 606,650.8 610,649.1 614,647.3 618,645.4 622,643.3 626,641.3 630,639.4 634,637.5 638,635.5 642,633.5 646,631.7 650,629.9 654,628.1 658,626.4 662,624.8 666,623.5 670,622.3 674,621.3 678,620.1 682,618.6 686,617 690,614.7 694,611.1 698,606.9 702,602.8 706,598.7 710,594.9 714,591 718,587.2 722,583.3 726,578.7 730,574 734,570.2 738,568.3 742,567 746,565.9 750,564.9 754,564 758,563 762,562.2 766,561.4 770,560.5 774,559.8 778,559.1 782,558.5 786,557.8 790,556.9 794,555.6 798,554 802,552.3 806,550.6 810,549.1 814,547.6 818,546.2 822,544.6 826,542.7 830,540.3 834,537.3 838,533.9 842,530.3 846,526.4 850,522.4 854,518.3 858,514.4 862,510.4 866,506.2 870,501.9 874,497.5 878,493 882,488.5 886,483.9 890,479.3 894,474.7 898,469.9 902,465.1 906,460.3 910,455.4 914,450.6 918,445.8 922,441 926,436.2 930,431.3 934,426.5 938,421.8 942,417.1 946,412.6 950,408.2 954,403.8 958,399.3 962,395 966,390.7 970,386.8 974,383.2 978,380.1 982,377.5 986,375.1 990,373 994,371.2 998,369.9 1002,368.7 1006,367.6 1010,366.6 1014,365.9 1018,365.4 1022,365.4 1026,365.8 1030,366.6 1034,367.7 1038,369 1042,370.3 1046,371.8 1050,373.7 1054,375.9 1058,378.4 1062,381.2 1066,384 1070,387 1074,389.9 1078,392.9 1082,396.2 1086,399.6 1090,403.3 1094,407 1098,410.9 1102,414.8 1106,418.6 1110,422.5 1114,426.5 1118,430.6 1122,434.8 1126,439 1130,443.2 1134,447.3 1138,451.2 1142,454.9 1146,458.4 1150,461.8 1154,465 1158,468.2 1162,471.3 1166,474.5 1170,477.7 1174,480.8 1178,483.8 1182,486.6 1186,489 1190,491.3 1194,493.3 1198,495.3 1202,497.1 1206,498.8 1210,500.5 1214,502.1 1218,503.6 1222,505 1226,506.3 1230,507.4 1234,508.5 1238,509.5 1242,510.4 1246,511.3 1250,512.1 1254,512.9 1258,513.6 1262,514.3 1266,515 1270,515.6 1274,516.2 1278,516.6 1282,517 1286,517.4 1290,517.8 1294,518.2 1298,518.7 1302,519.1 1306,519.5 1310,519.8 1314,520 1318,520.2 1322,520.3 1326,520.5 1330,520.7 1334,520.9 1338,521.1 1342,521.2 1346,521.3 1350,521.4 1354,521.4 1358,521.4 1362,521.4 1366,521.3 1370,521.2 1374,521.1 1378,520.9 1382,520.7 1386,520.5 1390,520.2 1394,520 1398,519.7 1402,519.4 1406,519.1 1410,518.8 1414,518.6 1418,518.3 1422,518 1426,517.7 1430,517.4 1434,517.1 1438,516.5 1442,515.2 1446,513.6 1450,512.1 1454,510.9 1458,509.8 1462,508.7 1466,507.6 1470,506.3 1474,504.9 1478,503.2 1482,501.3 1486,499 1490,496.6 1494,494 1498,491.3 1502,488.5 1506,485.6 1510,482.7 1514,479.8 1518,476.7 1522,473.5 1526,470.1 1530,466.6 1534,462.9 1538,459.1 1542,455 1546,450.6 1550,445.9 1554,440.8 1558,435.3 1562,429.4 1566,422.9 1570,415.4 1574,407.4 1578,398.8 1582,390.1 1586,381.6 1590,373.5 1594,365.6 1598,357.6 1600,353.5 1602,349.4 1604,345.1 1606,340.7 1608,336.1 1610,331.3 1612,326.4 1614,321.5 1616,316.6 1618,312.1 1620,307.6 1622,303.1 1624,298.5 1626,293.6 1628,288.3 1630,282.5 1632,276.5 1634,270.4 1636,264.2 1638,258.1 1640,250.9 1641,247.2 1642,243.6 1643,240.3 1644,237.5 1645,235.3 1646,233.9 1647,233.2 1648,232.6 1649,232 1650,231.1 1651,230.1 1652,228.8 1653,227.3 1654,225.6 1655,223.7 1656,221.7 1657,219.5 1657.8,217.6 1657.8,217.6 1657,239.7 1656,263.4 1655,284.5 1654,303.3 1653,320.1 1652,336.9 1651,351.1 1650,361.8 1649,371 1648,380.2 1647,391.3 1646,401.8 1645,408.9 1644,414.6 1643,419.5 1642,424.2 1641,429.2 1640,434.3 1638,445.2 1636,456.6 1634,467.7 1632,476.6 1630,484.3 1628,491.5 1626,498.3 1624,504.8 1622,511 1620,516.8 1618,522.1 1616,527 1614,531.5 1612,535.6 1610,539.3 1608,542.7 1606,545.9 1604,548.9 1602,551.7 1600,554.5 1598,557.2 1594,562.6 1590,567.6 1586,572.4 1582,577 1578,581.4 1574,585.8 1570,590.1 1566,594.2 1562,598 1558,601.1 1554,603.9 1550,606.5 1546,608.8 1542,610.9 1538,612.9 1534,614.8 1530,616.7 1526,618.4 1522,620 1518,621.6 1514,623.1 1510,624.6 1506,626.1 1502,627.5 1498,628.9 1494,630.3 1490,631.6 1486,632.9 1482,634.1 1478,635.2 1474,636.3 1470,637.3 1466,638.2 1462,639 1458,639.8 1454,640.5 1450,641.2 1446,641.9 1442,642.5 1438,643.1 1434,643.8 1430,644.4 1426,645 1422,645.6 1418,646.2 1414,646.9 1410,647.5 1406,648.1 1402,648.8 1398,649.5 1394,650.2 1390,650.9 1386,651.6 1382,652.3 1378,653.1 1374,653.8 1370,654.6 1366,655.3 1362,656.1 1358,656.8 1354,657.5 1350,658.3 1346,659 1342,659.7 1338,660.4 1334,661.1 1330,661.8 1326,662.4 1322,663 1318,663.6 1314,664.2 1310,664.8 1306,665.4 1302,666 1298,666.5 1294,667.1 1290,667.6 1286,668.1 1282,668.7 1278,669.2 1274,669.7 1270,670.2 1266,670.7 1262,671.3 1258,671.8 1254,672.3 1250,672.8 1246,673.3 1242,673.8 1238,674.4 1234,674.9 1230,675.4 1226,675.9 1222,676.5 1218,677 1214,677.5 1210,678 1206,678.6 1202,679.1 1198,679.6 1194,680.1 1190,680.7 1186,681.2 1182,681.7 1178,682.3 1174,682.8 1170,683.3 1166,683.8 1162,684.4 1158,684.9 1154,685.4 1150,685.9 1146,686.4 1142,686.9 1138,687.4 1134,687.9 1130,688.4 1126,688.9 1122,689.4 1118,689.9 1114,690.4 1110,690.9 1106,691.4 1102,691.9 1098,692.4 1094,692.9 1090,693.4 1086,693.9 1082,694.4 1078,694.8 1074,695.3 1070,695.8 1066,696.3 1062,696.8 1058,697.2 1054,697.7 1050,698.2 1046,698.6 1042,699.1 1038,699.6 1034,700 1030,700.5 1026,700.9 1022,701.3 1018,701.7 1014,702.1 1010,702.5 1006,702.9 1002,703.3 998,703.8 994,704.2 990,704.6 986,705.1 982,705.6 978,706.1 974,706.6 970,707.2 966,707.8 962,708.5 958,709.2 954,709.9 950,710.6 946,711.4 942,712.2 938,713 934,713.9 930,714.7 926,715.6 922,716.4 918,717.3 914,718.2 910,719 906,719.9 902,720.8 898,721.7 894,722.6 890,723.5 886,724.5 882,725.5 878,726.6 874,727.7 870,728.9 866,730.2 862,731.5 858,732.9 854,734.3 850,735.8 846,737.2 842,738.6 838,740.1 834,741.5 830,743 826,744.5 822,746 818,747.7 814,749.3 810,751.1 806,752.9 802,754.8 798,756.8 794,758.8 790,760.9 786,763.1 782,765.3 778,767.6 774,769.9 770,772.3 766,774.8 762,777.4 758,780.2 754,783.1 750,786.2 746,789.5 742,793.2 738,797.3 734,801.4 730,805.7 726,809.9 722,813.8 718,817.8 714,821.7 710,825.5 706,829 702,832.3 698,835.4 694,838.3 690,840.8 686,843 682,845.1 678,847.1 674,849.1 670,851.2 666,853.3 662,855.4 658,857.5 654,859.6 650,861.7 646,863.8 642,866 638,868.2 634,870.3 630,872.5 626,874.7 622,877 618,879.4 614,881.9 610,884.7 606,887.5 602,890.4 598,893.3 594,896.2 590,899 586,901.6 582,903.6 578,905.6 574,907.5 570,909.8 566,912.3 562,915 558,918.1 554,921.4 550,924.9 546,928.9 542,933.1 538,937.5 534,941.9 530,946.6 526,951.4 522,956.3 518,960.9 514,965.3 510,969.4 506,973.5 502,977.8 498,982.5 494,987.6 490,992.9 486,998.2 482,1003.4 478,1008.6 474,1013.9 470,1019 465.8,1024.4 459.8,1031.9 453.8,1039.3 448.8,1045.4 443.8,1051.8 439.8,1057 435.8,1062.4 431.8,1067.9 428.8,1072.1 425.8,1076.4 422.8,1080.7 420.3,1084.3 417.8,1087.9 415.8,1090.9 413.8,1093.9 412.3,1096.1 411,1098.1 410,1099.7 409.1,1101 408.3,1102.3 407.6,1103.4 407,1104.3 406.5,1105.1 406.1,1105.7 405.8,1106.2"/>
<path d="M405.8,1118.4 406.1,1113.9 406.5,1108 407,1100.8 407.6,1092.5 408.3,1083.4 409.1,1074 410,1064.4 411,1054.7 412.3,1043 413.8,1030.6 415.8,1015 417.8,1000 420.3,982.3 422.8,965.5 425.8,946.9 428.8,930.1 431.8,915 435.8,896.4 439.8,879.3 443.8,863.8 448.8,846.7 453.8,832.2 459.8,816.7 465.8,803 470,794.3 474,786.5 478,779.1 482,772 486,765.3 490,758.9 494,752.7 498,746.9 502,741.2 506,735.7 510,730.5 514,725.3 518,720.4 522,715.7 526,711.1 530,706.6 534,702.2 538,698 542,693.8 546,689.6 550,685.4 554,681.4 558,677.8 562,674.7 566,672.1 570,669.6 574,667.3 578,665 582,662.7 586,660.4 590,658.2 594,656.2 598,654.3 602,652.6 606,650.9 610,649.2 614,647.4 618,645.4 622,643.4 626,641.3 630,639.4 634,637.5 638,635.5 642,633.5 646,631.7 650,629.8 654,628 658,626.3 662,624.7 666,623.4 670,622.2 674,621.1 678,619.8 682,618.4 686,616.7 690,614.4 694,610.7 698,606.6 702,602.5 706,598.4 710,594.5 714,590.6 718,586.7 722,582.7 726,578.1 730,573.3 734,569.4 738,567.5 742,566.2 746,565.2 750,564.3 754,563.3 758,562.4 762,561.7 766,560.9 770,560.1 774,559.4 778,558.7 782,558.1 786,557.4 790,556.5 794,555.1 798,553.5 802,551.8 806,550 810,548.4 814,546.9 818,545.4 822,543.8 826,541.9 830,539.5 834,536.6 838,533.2 842,529.5 846,525.5 850,521.5 854,517.4 858,513.4 862,509.3 866,505.1 870,500.7 874,496.3 878,491.7 882,487.1 886,482.5 890,477.9 894,473.2 898,468.3 902,463.5 906,458.6 910,453.6 914,448.7 918,443.8 922,439 926,434.1 930,429.2 934,424.3 938,419.4 942,414.6 946,410 950,405.5 954,401 958,396.5 962,392 966,387.6 970,383.4 974,379.6 978,376.2 982,373.3 986,370.8 990,368.4 994,366.4 998,364.8 1002,363.5 1006,362.4 1010,361.3 1014,360.4 1018,359.7 1022,359.4 1026,359.5 1030,360.1 1034,361.1 1038,362.3 1042,363.7 1046,365.1 1050,366.8 1054,368.9 1058,371.4 1062,374 1066,376.9 1070,379.9 1074,383 1078,386 1082,389.2 1086,392.7 1090,396.4 1094,400.2 1098,404.1 1102,408.1 1106,412.2 1110,416.2 1114,420.2 1118,424.4 1122,428.7 1126,433 1130,437.4 1134,441.7 1138,445.8 1142,449.8 1146,453.5 1150,457 1154,460.4 1158,463.7 1162,467 1166,470.2 1170,473.5 1174,476.8 1178,480 1182,482.9 1186,485.6 1190,488 1194,490.2 1198,492.2 1202,494.1 1206,495.9 1210,497.7 1214,499.4 1218,501 1222,502.5 1226,503.9 1230,505.1 1234,506.3 1238,507.3 1242,508.3 1246,509.2 1250,510.1 1254,510.9 1258,511.7 1262,512.5 1266,513.2 1270,513.9 1274,514.5 1278,515 1282,515.4 1286,515.9 1290,516.3 1294,516.7 1298,517.2 1302,517.6 1306,518 1310,518.4 1314,518.7 1318,518.9 1322,519.1 1326,519.3 1330,519.5 1334,519.8 1338,520 1342,520.2 1346,520.3 1350,520.4 1354,520.5 1358,520.6 1362,520.6 1366,520.6 1370,520.5 1374,520.4 1378,520.2 1382,520.1 1386,519.9 1390,519.7 1394,519.5 1398,519.2 1402,519 1406,518.7 1410,518.5 1414,518.3 1418,518 1422,517.8 1426,517.5 1430,517.2 1434,517 1438,516.3 1442,515 1446,513.4 1450,511.9 1454,510.7 1458,509.5 1462,508.4 1466,507.3 1470,506 1474,504.6 1478,502.9 1482,500.9 1486,498.6 1490,496.1 1494,493.5 1498,490.7 1502,487.8 1506,484.9 1510,482 1514,479 1518,475.9 1522,472.6 1526,469.2 1530,465.7 1534,462 1538,458.1 1542,453.9 1546,449.5 1550,444.7 1554,439.5 1558,434 1562,428 1566,421.3 1570,413.7 1574,405.6 1578,396.8 1582,387.9 1586,379.2 1590,371 1594,363 1598,354.9 1600,350.7 1602,346.5 1604,342.2 1606,337.7 1608,333.1 1610,328.2 1612,323.1 1614,318.1 1616,313.2 1618,308.6 1620,304 1622,299.5 1624,294.8 1626,289.8 1628,284.4 1630,278.5 1632,272.4 1634,266.1 1636,259.8 1638,253.5 1640,246.1 1641,242.3 1642,238.5 1643,235.2 1644,232.3 1645,230 1646,228.7 1647,228 1648,227.4 1649,226.8 1650,226 1651,225 1652,223.7 1653,222.2 1654,220.5 1655,218.6 1656,216.5 1657,214.2 1657.8,212.3 1657.8,212.3 1657,235.4 1656,260.1 1655,282 1654,301.6 1653,319 1652,336.4 1651,351 1650,362.1 1649,371.6 1648,381 1647,392.4 1646,403.2 1645,410.5 1644,416.3 1643,421.3 1642,426.1 1641,431.2 1640,436.4 1638,447.3 1636,458.5 1634,469.6 1632,478.5 1630,486 1628,493.2 1626,500 1624,506.4 1622,512.5 1620,518.1 1618,523.4 1616,528.2 1614,532.6 1612,536.6 1610,540.3 1608,543.6 1606,546.8 1604,549.7 1602,552.5 1600,555.3 1598,557.9 1594,563.3 1590,568.3 1586,573.1 1582,577.6 1578,582.1 1574,586.5 1570,590.8 1566,595 1562,598.7 1558,601.8 1554,604.6 1550,607.1 1546,609.4 1542,611.5 1538,613.5 1534,615.4 1530,617.2 1526,618.9 1522,620.6 1518,622.1 1514,623.7 1510,625.1 1506,626.6 1502,628 1498,629.4 1494,630.7 1490,632.1 1486,633.3 1482,634.6 1478,635.7 1474,636.8 1470,637.7 1466,638.6 1462,639.4 1458,640.2 1454,640.9 1450,641.6 1446,642.2 1442,642.9 1438,643.5 1434,644.1 1430,644.7 1426,645.3 1422,645.9 1418,646.5 1414,647.1 1410,647.7 1406,648.4 1402,649 1398,649.7 1394,650.4 1390,651.1 1386,651.8 1382,652.5 1378,653.2 1374,654 1370,654.7 1366,655.5 1362,656.2 1358,657 1354,657.7 1350,658.4 1346,659.2 1342,659.9 1338,660.6 1334,661.3 1330,661.9 1326,662.6 1322,663.2 1318,663.8 1314,664.4 1310,665 1306,665.5 1302,666.1 1298,666.7 1294,667.2 1290,667.8 1286,668.3 1282,668.8 1278,669.4 1274,669.9 1270,670.4 1266,670.9 1262,671.4 1258,672 1254,672.5 1250,673 1246,673.5 1242,674.1 1238,674.6 1234,675.1 1230,675.7 1226,676.2 1222,676.7 1218,677.3 1214,677.8 1210,678.3 1206,678.9 1202,679.4 1198,680 1194,680.5 1190,681 1186,681.6 1182,682.1 1178,682.6 1174,683.2 1170,683.7 1166,684.2 1162,684.8 1158,685.3 1154,685.8 1150,686.4 1146,686.9 1142,687.4 1138,687.9 1134,688.4 1130,688.9 1126,689.4 1122,690 1118,690.5 1114,691 1110,691.5 1106,692 1102,692.5 1098,693 1094,693.5 1090,694 1086,694.5 1082,695 1078,695.5 1074,695.9 1070,696.4 1066,696.9 1062,697.4 1058,697.9 1054,698.4 1050,698.9 1046,699.3 1042,699.8 1038,700.3 1034,700.7 1030,701.2 1026,701.6 1022,702 1018,702.5 1014,702.9 1010,703.3 1006,703.7 1002,704.1 998,704.5 994,705 990,705.4 986,705.9 982,706.4 978,706.9 974,707.5 970,708.1 966,708.7 962,709.4 958,710.1 954,710.8 950,711.6 946,712.4 942,713.2 938,714 934,714.9 930,715.7 926,716.6 922,717.5 918,718.4 914,719.3 910,720.2 906,721.1 902,722 898,722.9 894,723.9 890,724.9 886,725.9 882,726.9 878,728 874,729.2 870,730.4 866,731.7 862,733.1 858,734.6 854,736 850,737.5 846,739 842,740.5 838,741.9 834,743.4 830,745 826,746.5 822,748.1 818,749.8 814,751.5 810,753.3 806,755.2 802,757.1 798,759.1 794,761.2 790,763.4 786,765.6 782,767.9 778,770.2 774,772.6 770,775 766,777.6 762,780.2 758,783 754,785.9 750,789 746,792.3 742,796 738,800.1 734,804.2 730,808.5 726,812.7 722,816.7 718,820.6 714,824.5 710,828.2 706,831.7 702,835 698,838.2 694,841 690,843.5 686,845.7 682,847.8 678,849.9 674,851.9 670,853.9 666,856.1 662,858.2 658,860.3 654,862.4 650,864.5 646,866.7 642,868.9 638,871 634,873.2 630,875.4 626,877.6 622,879.9 618,882.3 614,884.9 610,887.7 606,890.6 602,893.4 598,896.3 594,899.3 590,902.2 586,904.8 582,907.1 578,909.2 574,911.4 570,913.8 566,916.5 562,919.5 558,922.7 554,926.2 550,930 546,934.1 542,938.5 538,943 534,947.7 530,952.5 526,957.5 522,962.6 518,967.4 514,971.9 510,976.2 506,980.5 502,985 498,989.9 494,995.2 490,1000.8 486,1006.2 482,1011.7 478,1017.1 474,1022.6 470,1028 465.8,1033.6 459.8,1041.5 453.8,1049.1 448.8,1055.6 443.8,1062.2 439.8,1067.6 435.8,1073.2 431.8,1079 428.8,1083.3 425.8,1087.7 422.8,1092.2 420.3,1095.9 417.8,1099.6 415.8,1102.7 413.8,1105.8 412.3,1108.1 411,1110.1 410,1111.7 409.1,1113.1 408.3,1114.4 407.6,1115.5 407,1116.5 406.5,1117.2 406.1,1117.9 405.8,1118.4"/>
<path d="M405.8,1130.6 406.1,1126 406.5,1120 407,1112.6 407.6,1104.1 408.3,1094.7 409.1,1085.1 410,1075.3 411,1065.2 412.3,1053.2 413.8,1040.3 415.8,1024.2 417.8,1008.9 420.3,990.6 422.8,973.4 425.8,954.4 428.8,937.1 431.8,921.5 435.8,902.4 439.8,884.8 443.8,868.9 448.8,851.3 453.8,836.4 459.8,820.5 465.8,806.5 470,797.6 474,789.6 478,782 482,774.8 486,767.9 490,761.3 494,755 498,749 502,743.2 506,737.6 510,732.2 514,727 518,721.9 522,717.1 526,712.4 530,707.8 534,703.4 538,699 542,694.8 546,690.5 550,686.2 554,682.2 558,678.5 562,675.3 566,672.6 570,670.1 574,667.7 578,665.4 582,663 586,660.7 590,658.5 594,656.4 598,654.5 602,652.8 606,651.1 610,649.3 614,647.5 618,645.5 622,643.4 626,641.4 630,639.4 634,637.5 638,635.5 642,633.5 646,631.7 650,629.8 654,628 658,626.3 662,624.6 666,623.2 670,622 674,620.9 678,619.6 682,618.2 686,616.5 690,614.2 694,610.4 698,606.2 702,602.2 706,598.1 710,594.2 714,590.2 718,586.3 722,582.2 726,577.5 730,572.6 734,568.7 738,566.8 742,565.5 746,564.5 750,563.6 754,562.8 758,561.9 762,561.1 766,560.4 770,559.7 774,559 778,558.4 782,557.7 786,557 790,556 794,554.6 798,553 802,551.2 806,549.4 810,547.8 814,546.2 818,544.7 822,543.1 826,541.2 830,538.8 834,535.9 838,532.5 842,528.8 846,524.8 850,520.7 854,516.5 858,512.4 862,508.3 866,504 870,499.6 874,495.1 878,490.5 882,485.8 886,481.2 890,476.5 894,471.7 898,466.8 902,461.9 906,456.9 910,451.9 914,446.9 918,442 922,437 926,432.1 930,427.1 934,422.1 938,417.2 942,412.3 946,407.5 950,402.9 954,398.4 958,393.8 962,389.2 966,384.7 970,380.3 974,376.3 978,372.6 982,369.4 986,366.7 990,364.2 994,362 998,360.1 1002,358.7 1006,357.5 1010,356.3 1014,355.3 1018,354.5 1022,353.9 1026,353.8 1030,354.1 1034,354.9 1038,356.1 1042,357.4 1046,358.8 1050,360.4 1054,362.3 1058,364.7 1062,367.3 1066,370.2 1070,373.2 1074,376.3 1078,379.5 1082,382.7 1086,386.2 1090,389.8 1094,393.7 1098,397.7 1102,401.8 1106,406 1110,410.1 1114,414.2 1118,418.5 1122,422.9 1126,427.3 1130,431.8 1134,436.3 1138,440.6 1142,444.8 1146,448.7 1150,452.4 1154,456 1158,459.4 1162,462.8 1166,466.1 1170,469.5 1174,472.9 1178,476.3 1182,479.4 1186,482.3 1190,484.8 1194,487.1 1198,489.3 1202,491.3 1206,493.2 1210,495 1214,496.8 1218,498.5 1222,500.1 1226,501.6 1230,502.9 1234,504.1 1238,505.3 1242,506.3 1246,507.3 1250,508.2 1254,509.1 1258,509.9 1262,510.8 1266,511.5 1270,512.3 1274,512.9 1278,513.5 1282,514 1286,514.4 1290,514.9 1294,515.3 1298,515.8 1302,516.2 1306,516.7 1310,517.1 1314,517.4 1318,517.7 1322,517.9 1326,518.1 1330,518.4 1334,518.7 1338,518.9 1342,519.2 1346,519.4 1350,519.5 1354,519.7 1358,519.8 1362,519.9 1366,519.9 1370,519.9 1374,519.8 1378,519.6 1382,519.5 1386,519.4 1390,519.2 1394,519 1398,518.8 1402,518.6 1406,518.4 1410,518.2 1414,517.9 1418,517.7 1422,517.5 1426,517.3 1430,517 1434,516.8 1438,516.2 1442,514.9 1446,513.2 1450,511.7 1454,510.4 1458,509.3 1462,508.2 1466,507 1470,505.7 1474,504.3 1478,502.5 1482,500.5 1486,498.2 1490,495.6 1494,492.9 1498,490.1 1502,487.1 1506,484.2 1510,481.2 1514,478.2 1518,475 1522,471.8 1526,468.3 1530,464.7 1534,461 1538,457 1542,452.8 1546,448.3 1550,443.5 1554,438.2 1558,432.6 1562,426.5 1566,419.7 1570,412 1574,403.7 1578,394.8 1582,385.7 1586,376.9 1590,368.5 1594,360.3 1598,352.1 1600,347.9 1602,343.6 1604,339.3 1606,334.7 1608,330 1610,325 1612,319.9 1614,314.8 1616,309.8 1618,305.1 1620,300.5 1622,295.9 1624,291.1 1626,286 1628,280.5 1630,274.5 1632,268.2 1634,261.8 1636,255.3 1638,248.9 1640,241.3 1641,237.3 1642,233.5 1643,230 1644,227.1 1645,224.8 1646,223.4 1647,222.7 1648,222.2 1649,221.7 1650,220.9 1651,219.8 1652,218.6 1653,217 1654,215.3 1655,213.4 1656,211.3 1657,209 1657.8,207 1657.8,207 1657,231.1 1656,256.8 1655,279.6 1654,299.8 1653,317.9 1652,335.8 1651,350.9 1650,362.3 1649,372.1 1648,381.8 1647,393.5 1646,404.6 1645,412.1 1644,418 1643,423.1 1642,428 1641,433.2 1640,438.5 1638,449.3 1636,460.5 1634,471.5 1632,480.3 1630,487.8 1628,494.9 1626,501.6 1624,507.9 1622,513.9 1620,519.5 1618,524.6 1616,529.3 1614,533.6 1612,537.6 1610,541.2 1608,544.6 1606,547.6 1604,550.6 1602,553.3 1600,556 1598,558.7 1594,564 1590,569 1586,573.8 1582,578.3 1578,582.7 1574,587.1 1570,591.5 1566,595.7 1562,599.4 1558,602.5 1554,605.3 1550,607.8 1546,610 1542,612.1 1538,614.1 1534,616 1530,617.8 1526,619.5 1522,621.1 1518,622.7 1514,624.2 1510,625.6 1506,627.1 1502,628.5 1498,629.9 1494,631.2 1490,632.5 1486,633.8 1482,635 1478,636.2 1474,637.2 1470,638.2 1466,639 1462,639.8 1458,640.6 1454,641.3 1450,642 1446,642.6 1442,643.2 1438,643.8 1434,644.4 1430,645 1426,645.6 1422,646.2 1418,646.8 1414,647.4 1410,648 1406,648.6 1402,649.2 1398,649.9 1394,650.6 1390,651.2 1386,652 1382,652.7 1378,653.4 1374,654.1 1370,654.9 1366,655.6 1362,656.4 1358,657.1 1354,657.9 1350,658.6 1346,659.3 1342,660 1338,660.7 1334,661.4 1330,662.1 1326,662.7 1322,663.3 1318,663.9 1314,664.5 1310,665.1 1306,665.7 1302,666.3 1298,666.8 1294,667.4 1290,667.9 1286,668.5 1282,669 1278,669.5 1274,670 1270,670.6 1266,671.1 1262,671.6 1258,672.1 1254,672.7 1250,673.2 1246,673.7 1242,674.3 1238,674.8 1234,675.4 1230,675.9 1226,676.4 1222,677 1218,677.5 1214,678.1 1210,678.6 1206,679.2 1202,679.7 1198,680.3 1194,680.8 1190,681.4 1186,681.9 1182,682.5 1178,683 1174,683.6 1170,684.1 1166,684.7 1162,685.2 1158,685.7 1154,686.3 1150,686.8 1146,687.3 1142,687.9 1138,688.4 1134,688.9 1130,689.4 1126,690 1122,690.5 1118,691 1114,691.5 1110,692 1106,692.5 1102,693 1098,693.6 1094,694.1 1090,694.6 1086,695.1 1082,695.6 1078,696.1 1074,696.6 1070,697.1 1066,697.6 1062,698.1 1058,698.5 1054,699 1050,699.5 1046,700 1042,700.5 1038,701 1034,701.4 1030,701.9 1026,702.3 1022,702.8 1018,703.2 1014,703.6 1010,704 1006,704.4 1002,704.9 998,705.3 994,705.8 990,706.2 986,706.7 982,707.2 978,707.7 974,708.3 970,708.9 966,709.6 962,710.2 958,711 954,711.7 950,712.5 946,713.3 942,714.2 938,715 934,715.9 930,716.8 926,717.7 922,718.6 918,719.5 914,720.4 910,721.4 906,722.3 902,723.2 898,724.2 894,725.2 890,726.2 886,727.2 882,728.3 878,729.4 874,730.6 870,731.9 866,733.3 862,734.7 858,736.2 854,737.7 850,739.2 846,740.8 842,742.3 838,743.8 834,745.4 830,746.9 826,748.5 822,750.2 818,751.9 814,753.7 810,755.5 806,757.4 802,759.4 798,761.5 794,763.7 790,765.9 786,768.2 782,770.5 778,772.9 774,775.3 770,777.8 766,780.3 762,783 758,785.8 754,788.8 750,791.9 746,795.2 742,798.8 738,802.8 734,807 730,811.3 726,815.4 722,819.5 718,823.4 714,827.2 710,830.9 706,834.5 702,837.8 698,840.9 694,843.7 690,846.2 686,848.4 682,850.5 678,852.6 674,854.6 670,856.7 666,858.8 662,860.9 658,863.1 654,865.2 650,867.3 646,869.5 642,871.7 638,873.9 634,876.1 630,878.3 626,880.5 622,882.9 618,885.3 614,887.9 610,890.7 606,893.6 602,896.5 598,899.4 594,902.4 590,905.3 586,908.1 582,910.5 578,912.8 574,915.2 570,917.8 566,920.7 562,923.9 558,927.3 554,930.9 550,934.9 546,939.2 542,943.7 538,948.5 534,953.3 530,958.3 526,963.5 522,968.7 518,973.8 514,978.5 510,983 506,987.4 502,992.1 498,997.2 494,1002.7 490,1008.5 486,1014.2 482,1019.9 478,1025.6 474,1031.2 470,1036.9 465.8,1042.8 459.8,1050.9 453.8,1059 448.8,1065.7 443.8,1072.6 439.8,1078.3 435.8,1084.1 431.8,1090 428.8,1094.5 425.8,1099.1 422.8,1103.7 420.3,1107.5 417.8,1111.4 415.8,1114.5 413.8,1117.7 412.3,1120.1 411,1122.2 410,1123.8 409.1,1125.2 408.3,1126.5 407.6,1127.7 407,1128.6 406.5,1129.4 406.1,1130.1 405.8,1130.6"/>
<path d="M405.8,1142.9 406.1,1138.2 406.5,1132 407,1124.5 407.6,1115.7 408.3,1106.1 409.1,1096.2 410,1086.1 411,1075.8 412.3,1063.3 413.8,1050.1 415.8,1033.6 417.8,1017.8 420.3,999 422.8,981.4 425.8,961.8 428.8,944.1 431.8,928.1 435.8,908.4 439.8,890.3 443.8,873.9 448.8,855.9 453.8,840.6 459.8,824.4 465.8,810 470,800.9 474,792.7 478,784.9 482,777.5 486,770.5 490,763.7 494,757.3 498,751.1 502,745.2 506,739.4 510,733.9 514,728.6 518,723.4 522,718.5 526,713.7 530,709 534,704.5 538,700.1 542,695.7 546,691.4 550,687 554,682.9 558,679.1 562,675.9 566,673.1 570,670.6 574,668.1 578,665.7 582,663.3 586,661 590,658.8 594,656.6 598,654.7 602,652.9 606,651.2 610,649.5 614,647.6 618,645.6 622,643.5 626,641.4 630,639.4 634,637.5 638,635.5 642,633.5 646,631.6 650,629.8 654,628 658,626.2 662,624.6 666,623.1 670,621.9 674,620.7 678,619.4 682,617.9 686,616.2 690,613.8 694,610.1 698,605.8 702,601.8 706,597.8 710,593.8 714,589.8 718,585.8 722,581.6 726,576.9 730,571.9 734,568 738,566 742,564.8 746,563.8 750,563 754,562.1 758,561.3 762,560.6 766,559.9 770,559.2 774,558.6 778,558 782,557.3 786,556.6 790,555.5 794,554.1 798,552.4 802,550.6 806,548.8 810,547.1 814,545.5 818,543.9 822,542.3 826,540.3 830,538 834,535.1 838,531.7 842,527.9 846,523.9 850,519.7 854,515.5 858,511.3 862,507.1 866,502.8 870,498.4 874,493.8 878,489.2 882,484.4 886,479.7 890,474.9 894,470.1 898,465.2 902,460.2 906,455.1 910,450.1 914,445 918,439.9 922,434.9 926,429.9 930,424.8 934,419.8 938,414.7 942,409.7 946,404.8 950,400.1 954,395.4 958,390.8 962,386.2 966,381.5 970,377 974,372.7 978,368.8 982,365.3 986,362.3 990,359.7 994,357.3 998,355.2 1002,353.5 1006,352.2 1010,350.9 1014,349.8 1018,348.9 1022,348.2 1026,347.8 1030,347.8 1034,348.4 1038,349.4 1042,350.6 1046,352.1 1050,353.5 1054,355.3 1058,357.5 1062,360.1 1066,362.9 1070,366 1074,369.2 1078,372.4 1082,375.7 1086,379.1 1090,382.8 1094,386.7 1098,390.8 1102,395 1106,399.2 1110,403.5 1114,407.8 1118,412.1 1122,416.5 1126,421.1 1130,425.8 1134,430.4 1138,434.9 1142,439.3 1146,443.5 1150,447.4 1154,451.1 1158,454.7 1162,458.3 1166,461.7 1170,465.2 1174,468.7 1178,472.2 1182,475.5 1186,478.6 1190,481.3 1194,483.8 1198,486.1 1202,488.2 1206,490.2 1210,492.2 1214,494 1218,495.8 1222,497.5 1226,499.1 1230,500.5 1234,501.8 1238,503 1242,504.1 1246,505.2 1250,506.1 1254,507.1 1258,508 1262,508.9 1266,509.7 1270,510.5 1274,511.2 1278,511.8 1282,512.3 1286,512.8 1290,513.3 1294,513.8 1298,514.3 1302,514.8 1306,515.2 1310,515.6 1314,516 1318,516.3 1322,516.6 1326,516.9 1330,517.2 1334,517.5 1338,517.8 1342,518.1 1346,518.3 1350,518.6 1354,518.8 1358,518.9 1362,519 1366,519.1 1370,519.1 1374,519.1 1378,519 1382,518.9 1386,518.8 1390,518.6 1394,518.5 1398,518.3 1402,518.1 1406,518 1410,517.8 1414,517.6 1418,517.4 1422,517.2 1426,517 1430,516.8 1434,516.6 1438,516 1442,514.7 1446,513 1450,511.5 1454,510.2 1458,509 1462,507.9 1466,506.7 1470,505.4 1474,503.9 1478,502.2 1482,500.1 1486,497.7 1490,495.1 1494,492.4 1498,489.5 1502,486.5 1506,483.4 1510,480.4 1514,477.4 1518,474.2 1522,470.9 1526,467.4 1530,463.8 1534,460 1538,456 1542,451.7 1546,447.2 1550,442.3 1554,437 1558,431.3 1562,425.1 1566,418.2 1570,410.3 1574,401.9 1578,392.8 1582,383.5 1586,374.5 1590,366 1594,357.7 1598,349.4 1600,345.1 1602,340.8 1604,336.3 1606,331.7 1608,326.9 1610,321.9 1612,316.7 1614,311.5 1616,306.4 1618,301.6 1620,297 1622,292.3 1624,287.4 1626,282.3 1628,276.6 1630,270.5 1632,264.1 1634,257.5 1636,250.9 1638,244.3 1640,236.5 1641,232.4 1642,228.5 1643,224.9 1644,221.9 1645,219.6 1646,218.2 1647,217.5 1648,217.1 1649,216.5 1650,215.8 1651,214.7 1652,213.4 1653,211.9 1654,210.2 1655,208.2 1656,206.1 1657,203.7 1657.8,201.7 1657.8,201.7 1657,226.7 1656,253.4 1655,277.1 1654,298.1 1653,316.7 1652,335.2 1651,350.8 1650,362.6 1649,372.6 1648,382.6 1647,394.6 1646,406 1645,413.7 1644,419.7 1643,425 1642,430 1641,435.2 1640,440.6 1638,451.4 1636,462.4 1634,473.4 1632,482.1 1630,489.6 1628,496.6 1626,503.2 1624,509.5 1622,515.4 1620,520.8 1618,525.9 1616,530.5 1614,534.7 1612,538.6 1610,542.2 1608,545.5 1606,548.5 1604,551.4 1602,554.1 1600,556.8 1598,559.4 1594,564.7 1590,569.7 1586,574.4 1582,579 1578,583.4 1574,587.8 1570,592.2 1566,596.4 1562,600.1 1558,603.2 1554,605.9 1550,608.4 1546,610.7 1542,612.8 1538,614.7 1534,616.6 1530,618.4 1526,620 1522,621.7 1518,623.2 1514,624.7 1510,626.1 1506,627.6 1502,629 1498,630.3 1494,631.7 1490,633 1486,634.3 1482,635.5 1478,636.6 1474,637.7 1470,638.6 1466,639.5 1462,640.3 1458,641 1454,641.7 1450,642.4 1446,643 1442,643.6 1438,644.2 1434,644.8 1430,645.3 1426,645.9 1422,646.5 1418,647 1414,647.6 1410,648.2 1406,648.8 1402,649.4 1398,650.1 1394,650.7 1390,651.4 1386,652.1 1382,652.8 1378,653.6 1374,654.3 1370,655 1366,655.8 1362,656.5 1358,657.3 1354,658 1350,658.7 1346,659.5 1342,660.2 1338,660.9 1334,661.6 1330,662.2 1326,662.9 1322,663.5 1318,664.1 1314,664.7 1310,665.3 1306,665.9 1302,666.4 1298,667 1294,667.5 1290,668.1 1286,668.6 1282,669.1 1278,669.7 1274,670.2 1270,670.7 1266,671.3 1262,671.8 1258,672.3 1254,672.9 1250,673.4 1246,673.9 1242,674.5 1238,675 1234,675.6 1230,676.1 1226,676.7 1222,677.3 1218,677.8 1214,678.4 1210,678.9 1206,679.5 1202,680 1198,680.6 1194,681.2 1190,681.7 1186,682.3 1182,682.8 1178,683.4 1174,684 1170,684.5 1166,685.1 1162,685.6 1158,686.2 1154,686.7 1150,687.3 1146,687.8 1142,688.3 1138,688.9 1134,689.4 1130,689.9 1126,690.5 1122,691 1118,691.5 1114,692 1110,692.6 1106,693.1 1102,693.6 1098,694.1 1094,694.6 1090,695.2 1086,695.7 1082,696.2 1078,696.7 1074,697.2 1070,697.7 1066,698.2 1062,698.7 1058,699.2 1054,699.7 1050,700.2 1046,700.7 1042,701.2 1038,701.7 1034,702.1 1030,702.6 1026,703.1 1022,703.5 1018,703.9 1014,704.3 1010,704.8 1006,705.2 1002,705.6 998,706.1 994,706.5 990,707 986,707.5 982,708 978,708.6 974,709.1 970,709.8 966,710.4 962,711.1 958,711.9 954,712.6 950,713.4 946,714.3 942,715.1 938,716 934,716.9 930,717.8 926,718.7 922,719.7 918,720.6 914,721.6 910,722.5 906,723.5 902,724.4 898,725.4 894,726.4 890,727.5 886,728.6 882,729.7 878,730.9 874,732.1 870,733.4 866,734.8 862,736.3 858,737.8 854,739.4 850,741 846,742.5 842,744.1 838,745.7 834,747.3 830,748.9 826,750.6 822,752.3 818,754 814,755.8 810,757.7 806,759.7 802,761.8 798,763.9 794,766.1 790,768.4 786,770.7 782,773.1 778,775.5 774,778 770,780.5 766,783.1 762,785.8 758,788.6 754,791.6 750,794.7 746,798 742,801.6 738,805.6 734,809.7 730,814 726,818.2 722,822.3 718,826.2 714,830 710,833.7 706,837.2 702,840.5 698,843.6 694,846.4 690,848.9 686,851.1 682,853.3 678,855.3 674,857.3 670,859.4 666,861.6 662,863.7 658,865.8 654,868 650,870.2 646,872.3 642,874.6 638,876.8 634,879 630,881.2 626,883.5 622,885.8 618,888.3 614,890.9 610,893.8 606,896.6 602,899.5 598,902.5 594,905.4 590,908.4 586,911.3 582,913.9 578,916.4 574,918.9 570,921.8 566,924.8 562,928.2 558,931.8 554,935.6 550,939.7 546,944.2 542,948.9 538,953.8 534,958.8 530,964 526,969.4 522,974.8 518,980.1 514,984.9 510,989.6 506,994.2 502,999.1 498,1004.4 494,1010.2 490,1016.1 486,1022.1 482,1028 478,1033.9 474,1039.8 470,1045.7 465.8,1051.8 459.8,1060.4 453.8,1068.7 448.8,1075.7 443.8,1082.9 439.8,1088.8 435.8,1094.9 431.8,1101.1 428.8,1105.8 425.8,1110.5 422.8,1115.2 420.3,1119.2 417.8,1123.2 415.8,1126.4 413.8,1129.6 412.3,1132.1 411,1134.2 410,1135.9 409.1,1137.4 408.3,1138.7 407.6,1139.9 407,1140.9 406.5,1141.7 406.1,1142.4 405.8,1142.9"/>
<path d="M405.8,1155.2 406.1,1150.4 406.5,1144.1 407,1136.4 407.6,1127.4 408.3,1117.6 409.1,1107.4 410,1097 411,1086.4 412.3,1073.6 413.8,1059.9 415.8,1042.9 417.8,1026.7 420.3,1007.5 422.8,989.4 425.8,969.3 428.8,951.1 431.8,934.7 435.8,914.5 439.8,895.9 443.8,879 448.8,860.5 453.8,844.8 459.8,828.2 465.8,813.5 470,804.2 474,795.8 478,787.9 482,780.3 486,773.1 490,766.2 494,759.6 498,753.2 502,747.2 506,741.3 510,735.7 514,730.2 518,725 522,719.9 526,715 530,710.3 534,705.6 538,701.1 542,696.7 546,692.2 550,687.8 554,683.6 558,679.8 562,676.5 566,673.6 570,671 574,668.6 578,666.1 582,663.7 586,661.3 590,659 594,656.9 598,654.9 602,653.1 606,651.3 610,649.6 614,647.7 618,645.6 622,643.5 626,641.4 630,639.5 634,637.5 638,635.5 642,633.5 646,631.6 650,629.8 654,627.9 658,626.1 662,624.5 666,623 670,621.7 674,620.5 678,619.2 682,617.7 686,615.9 690,613.5 694,609.7 698,605.5 702,601.5 706,597.5 710,593.5 714,589.4 718,585.3 722,581.1 726,576.2 730,571.2 734,567.2 738,565.3 742,564.1 746,563.1 750,562.3 754,561.5 758,560.7 762,560 766,559.4 770,558.8 774,558.2 778,557.6 782,556.9 786,556.1 790,555.1 794,553.6 798,551.9 802,550.1 806,548.2 810,546.4 814,544.8 818,543.2 822,541.5 826,539.6 830,537.2 834,534.3 838,530.9 842,527.2 846,523.1 850,518.9 854,514.5 858,510.3 862,506 866,501.7 870,497.2 874,492.6 878,487.9 882,483.1 886,478.3 890,473.4 894,468.5 898,463.6 902,458.5 906,453.4 910,448.3 914,443.1 918,437.9 922,432.8 926,427.8 930,422.6 934,417.5 938,412.4 942,407.3 946,402.3 950,397.4 954,392.6 958,388 962,383.2 966,378.5 970,373.8 974,369.4 978,365.2 982,361.4 986,358.2 990,355.4 994,352.8 998,350.5 1002,348.6 1006,347.1 1010,345.8 1014,344.6 1018,343.6 1022,342.7 1026,342.2 1030,341.9 1034,342.2 1038,343 1042,344.2 1046,345.6 1050,347.1 1054,348.7 1058,350.8 1062,353.3 1066,356 1070,359.1 1074,362.3 1078,365.6 1082,369 1086,372.4 1090,376.1 1094,380 1098,384.1 1102,388.4 1106,392.8 1110,397.2 1114,401.6 1118,406 1122,410.5 1126,415.2 1130,420 1134,424.7 1138,429.4 1142,434 1146,438.4 1150,442.6 1154,446.5 1158,450.2 1162,453.9 1166,457.5 1170,461 1174,464.7 1178,468.3 1182,471.8 1186,475 1190,478 1194,480.6 1198,483 1202,485.3 1206,487.4 1210,489.4 1214,491.3 1218,493.2 1222,495 1226,496.6 1230,498.2 1234,499.6 1238,500.9 1242,502 1246,503.1 1250,504.2 1254,505.2 1258,506.1 1262,507 1266,507.9 1270,508.8 1274,509.5 1278,510.2 1282,510.8 1286,511.3 1290,511.8 1294,512.3 1298,512.8 1302,513.3 1306,513.8 1310,514.3 1314,514.7 1318,515 1322,515.4 1326,515.7 1330,516 1334,516.4 1338,516.7 1342,517.1 1346,517.4 1350,517.6 1354,517.9 1358,518.1 1362,518.3 1366,518.4 1370,518.4 1374,518.4 1378,518.3 1382,518.3 1386,518.2 1390,518.1 1394,518 1398,517.9 1402,517.7 1406,517.6 1410,517.4 1414,517.3 1418,517.1 1422,517 1426,516.8 1430,516.6 1434,516.4 1438,515.8 1442,514.5 1446,512.8 1450,511.2 1454,510 1458,508.8 1462,507.6 1466,506.4 1470,505.1 1474,503.6 1478,501.8 1482,499.7 1486,497.3 1490,494.6 1494,491.8 1498,488.9 1502,485.8 1506,482.7 1510,479.7 1514,476.6 1518,473.4 1522,470 1526,466.5 1530,462.8 1534,459 1538,455 1542,450.7 1546,446 1550,441.1 1554,435.7 1558,429.9 1562,423.6 1566,416.6 1570,408.6 1574,400 1578,390.8 1582,381.3 1586,372.2 1590,363.5 1594,355.1 1598,346.6 1600,342.3 1602,337.9 1604,333.4 1606,328.7 1608,323.8 1610,318.7 1612,313.4 1614,308.2 1616,303 1618,298.2 1620,293.4 1622,288.7 1624,283.7 1626,278.5 1628,272.7 1630,266.5 1632,259.9 1634,253.2 1636,246.4 1638,239.7 1640,231.7 1641,227.5 1642,223.5 1643,219.8 1644,216.7 1645,214.3 1646,213 1647,212.3 1648,211.9 1649,211.4 1650,210.6 1651,209.6 1652,208.3 1653,206.8 1654,205 1655,203 1656,200.8 1657,198.5 1657.8,196.4 1657.8,196.4 1657,222.4 1656,250.1 1655,274.6 1654,296.3 1653,315.6 1652,334.7 1651,350.7 1650,362.8 1649,373.2 1648,383.4 1647,395.7 1646,407.4 1645,415.3 1644,421.5 1643,426.8 1642,431.9 1641,437.3 1640,442.7 1638,453.5 1636,464.4 1634,475.3 1632,484 1630,491.4 1628,498.3 1626,504.9 1624,511 1622,516.8 1620,522.1 1618,527.1 1616,531.7 1614,535.8 1612,539.7 1610,543.2 1608,546.4 1606,549.4 1604,552.2 1602,554.9 1600,557.6 1598,560.2 1594,565.4 1590,570.4 1586,575.1 1582,579.7 1578,584.1 1574,588.5 1570,592.9 1566,597.1 1562,600.8 1558,603.9 1554,606.6 1550,609.1 1546,611.3 1542,613.4 1538,615.3 1534,617.2 1530,618.9 1526,620.6 1522,622.2 1518,623.7 1514,625.2 1510,626.7 1506,628.1 1502,629.4 1498,630.8 1494,632.2 1490,633.5 1486,634.8 1482,636 1478,637.1 1474,638.1 1470,639.1 1466,639.9 1462,640.7 1458,641.4 1454,642.1 1450,642.8 1446,643.4 1442,644 1438,644.6 1434,645.1 1430,645.7 1426,646.2 1422,646.8 1418,647.3 1414,647.9 1410,648.5 1406,649 1402,649.7 1398,650.3 1394,650.9 1390,651.6 1386,652.3 1382,653 1378,653.7 1374,654.5 1370,655.2 1366,655.9 1362,656.7 1358,657.4 1354,658.2 1350,658.9 1346,659.6 1342,660.3 1338,661 1334,661.7 1330,662.4 1326,663 1322,663.6 1318,664.3 1314,664.9 1310,665.4 1306,666 1302,666.6 1298,667.1 1294,667.7 1290,668.2 1286,668.8 1282,669.3 1278,669.8 1274,670.4 1270,670.9 1266,671.4 1262,672 1258,672.5 1254,673.1 1250,673.6 1246,674.2 1242,674.7 1238,675.3 1234,675.8 1230,676.4 1226,677 1222,677.5 1218,678.1 1214,678.7 1210,679.2 1206,679.8 1202,680.4 1198,680.9 1194,681.5 1190,682.1 1186,682.7 1182,683.2 1178,683.8 1174,684.4 1170,684.9 1166,685.5 1162,686 1158,686.6 1154,687.2 1150,687.7 1146,688.3 1142,688.8 1138,689.4 1134,689.9 1130,690.4 1126,691 1122,691.5 1118,692 1114,692.6 1110,693.1 1106,693.6 1102,694.2 1098,694.7 1094,695.2 1090,695.7 1086,696.3 1082,696.8 1078,697.3 1074,697.8 1070,698.3 1066,698.8 1062,699.4 1058,699.9 1054,700.4 1050,700.9 1046,701.4 1042,701.9 1038,702.4 1034,702.9 1030,703.3 1026,703.8 1022,704.2 1018,704.7 1014,705.1 1010,705.5 1006,706 1002,706.4 998,706.9 994,707.3 990,707.8 986,708.3 982,708.8 978,709.4 974,710 970,710.6 966,711.3 962,712 958,712.7 954,713.5 950,714.4 946,715.2 942,716.1 938,717 934,717.9 930,718.8 926,719.8 922,720.8 918,721.7 914,722.7 910,723.7 906,724.7 902,725.7 898,726.7 894,727.7 890,728.8 886,729.9 882,731.1 878,732.3 874,733.6 870,734.9 866,736.4 862,737.9 858,739.5 854,741.1 850,742.7 846,744.3 842,746 838,747.6 834,749.2 830,750.9 826,752.6 822,754.3 818,756.1 814,758 810,759.9 806,762 802,764.1 798,766.3 794,768.5 790,770.9 786,773.2 782,775.7 778,778.2 774,780.7 770,783.2 766,785.9 762,788.6 758,791.4 754,794.4 750,797.5 746,800.8 742,804.4 738,808.4 734,812.5 730,816.8 726,821 722,825.1 718,829 714,832.8 710,836.4 706,839.9 702,843.2 698,846.3 694,849.1 690,851.6 686,853.9 682,856 678,858 674,860.1 670,862.2 666,864.3 662,866.5 658,868.6 654,870.8 650,873 646,875.2 642,877.4 638,879.6 634,881.8 630,884.1 626,886.4 622,888.8 618,891.3 614,893.9 610,896.8 606,899.7 602,902.6 598,905.5 594,908.5 590,911.5 586,914.4 582,917.2 578,919.8 574,922.6 570,925.6 566,928.9 562,932.4 558,936.2 554,940.2 550,944.5 546,949.1 542,954.1 538,959.1 534,964.3 530,969.7 526,975.3 522,980.9 518,986.3 514,991.3 510,996.2 506,1001 502,1006 498,1011.5 494,1017.5 490,1023.7 486,1029.9 482,1036 478,1042.2 474,1048.3 470,1054.5 465.8,1060.8 459.8,1069.7 453.8,1078.5 448.8,1085.8 443.8,1093.2 439.8,1099.4 435.8,1105.7 431.8,1112.1 428.8,1117 425.8,1121.9 422.8,1126.8 420.3,1130.9 417.8,1135 415.8,1138.3 413.8,1141.6 412.3,1144.2 411,1146.3 410,1148 409.1,1149.6 408.3,1150.9 407.6,1152.1 407,1153.1 406.5,1154 406.1,1154.7 405.8,1155.2"/>
<path d="M405.8,1167.6 406.1,1162.7 406.5,1156.2 407,1148.3 407.6,1139.2 408.3,1129.1 409.1,1118.7 410,1108 411,1097 412.3,1083.8 413.8,1069.8 415.8,1052.3 417.8,1035.7 420.3,1015.9 422.8,997.4 425.8,976.8 428.8,958.2 431.8,941.3 435.8,920.6 439.8,901.5 443.8,884.2 448.8,865.2 453.8,849.1 459.8,832.1 465.8,817.1 470,807.5 474,799 478,790.8 482,783.1 486,775.7 490,768.6 494,761.9 498,755.4 502,749.2 506,743.2 510,737.4 514,731.9 518,726.5 522,721.3 526,716.3 530,711.5 534,706.8 538,702.2 542,697.7 546,693.1 550,688.7 554,684.3 558,680.4 562,677.1 566,674.2 570,671.5 574,669 578,666.5 582,664 586,661.6 590,659.3 594,657.1 598,655.1 602,653.2 606,651.5 610,649.7 614,647.8 618,645.7 622,643.6 626,641.5 630,639.5 634,637.5 638,635.5 642,633.5 646,631.6 650,629.8 654,627.9 658,626.1 662,624.4 666,622.9 670,621.6 674,620.3 678,619 682,617.4 686,615.6 690,613.2 694,609.4 698,605.1 702,601.1 706,597.1 710,593.1 714,588.9 718,584.8 722,580.5 726,575.6 730,570.4 734,566.4 738,564.5 742,563.3 746,562.4 750,561.6 754,560.8 758,560.1 762,559.5 766,558.9 770,558.3 774,557.8 778,557.2 782,556.5 786,555.7 790,554.6 794,553.1 798,551.3 802,549.4 806,547.5 810,545.7 814,544 818,542.4 822,540.7 826,538.7 830,536.4 834,533.5 838,530.1 842,526.3 846,522.2 850,517.9 854,513.5 858,509.1 862,504.8 866,500.4 870,495.9 874,491.2 878,486.4 882,481.6 886,476.7 890,471.7 894,466.8 898,461.8 902,456.7 906,451.5 910,446.2 914,441 918,435.8 922,430.5 926,425.4 930,420.2 934,415 938,409.8 942,404.6 946,399.4 950,394.4 954,389.5 958,384.8 962,380 966,375.2 970,370.4 974,365.7 978,361.3 982,357.3 986,353.8 990,350.7 994,348 998,345.5 1002,343.4 1006,341.6 1010,340.3 1014,339 1018,337.9 1022,336.9 1026,336.1 1030,335.7 1034,335.7 1038,336.3 1042,337.3 1046,338.6 1050,340.1 1054,341.7 1058,343.6 1062,345.9 1066,348.6 1070,351.6 1074,354.9 1078,358.3 1082,361.7 1086,365.2 1090,368.9 1094,372.8 1098,376.9 1102,381.3 1106,385.7 1110,390.3 1114,394.8 1118,399.4 1122,404 1126,408.7 1130,413.6 1134,418.6 1138,423.5 1142,428.3 1146,432.9 1150,437.3 1154,441.4 1158,445.3 1162,449.1 1166,452.9 1170,456.5 1174,460.2 1178,464 1182,467.7 1186,471.1 1190,474.3 1194,477.1 1198,479.6 1202,482 1206,484.2 1210,486.4 1214,488.4 1218,490.3 1222,492.2 1226,494 1230,495.6 1234,497.2 1238,498.5 1242,499.8 1246,500.9 1250,502 1254,503.1 1258,504.1 1262,505 1266,506 1270,506.9 1274,507.7 1278,508.4 1282,509.1 1286,509.7 1290,510.2 1294,510.7 1298,511.3 1302,511.8 1306,512.3 1310,512.8 1314,513.2 1318,513.6 1322,514 1326,514.4 1330,514.8 1334,515.2 1338,515.6 1342,515.9 1346,516.3 1350,516.6 1354,516.9 1358,517.2 1362,517.4 1366,517.6 1370,517.7 1374,517.7 1378,517.7 1382,517.6 1386,517.6 1390,517.5 1394,517.4 1398,517.4 1402,517.3 1406,517.2 1410,517.1 1414,517 1418,516.8 1422,516.7 1426,516.5 1430,516.4 1434,516.2 1438,515.7 1442,514.3 1446,512.6 1450,511 1454,509.7 1458,508.5 1462,507.4 1466,506.2 1470,504.8 1474,503.3 1478,501.5 1482,499.3 1486,496.9 1490,494.2 1494,491.3 1498,488.2 1502,485.1 1506,482 1510,478.9 1514,475.8 1518,472.5 1522,469.1 1526,465.6 1530,461.9 1534,458 1538,453.9 1542,449.6 1546,444.9 1550,439.9 1554,434.4 1558,428.5 1562,422.2 1566,415 1570,406.9 1574,398.2 1578,388.7 1582,379.1 1586,369.8 1590,361 1594,352.5 1598,343.9 1600,339.5 1602,335 1604,330.5 1606,325.7 1608,320.8 1610,315.6 1612,310.2 1614,304.8 1616,299.6 1618,294.7 1620,289.9 1622,285.1 1624,280.1 1626,274.7 1628,268.9 1630,262.5 1632,255.8 1634,248.9 1636,242 1638,235 1640,226.8 1641,222.6 1642,218.4 1643,214.7 1644,211.5 1645,209.1 1646,207.7 1647,207.1 1648,206.7 1649,206.2 1650,205.5 1651,204.5 1652,203.2 1653,201.7 1654,199.9 1655,197.9 1656,195.6 1657,193.2 1657.8,191.1 1657.8,191.1 1657,218.1 1656,246.8 1655,272.2 1654,294.6 1653,314.5 1652,334.1 1651,350.6 1650,363.1 1649,373.7 1648,384.2 1647,396.8 1646,408.8 1645,416.9 1644,423.2 1643,428.6 1642,433.8 1641,439.3 1640,444.8 1638,455.6 1636,466.4 1634,477.1 1632,485.8 1630,493.2 1628,500.1 1626,506.5 1624,512.6 1622,518.2 1620,523.5 1618,528.3 1616,532.8 1614,536.9 1612,540.7 1610,544.2 1608,547.3 1606,550.3 1604,553.1 1602,555.7 1600,558.3 1598,560.9 1594,566.1 1590,571.1 1586,575.8 1582,580.4 1578,584.8 1574,589.2 1570,593.6 1566,597.8 1562,601.5 1558,604.6 1554,607.3 1550,609.7 1546,611.9 1542,614 1538,615.9 1534,617.8 1530,619.5 1526,621.2 1522,622.7 1518,624.3 1514,625.7 1510,627.2 1506,628.6 1502,629.9 1498,631.3 1494,632.7 1490,634 1486,635.2 1482,636.4 1478,637.5 1474,638.6 1470,639.5 1466,640.3 1462,641.1 1458,641.8 1454,642.5 1450,643.1 1446,643.8 1442,644.3 1438,644.9 1434,645.5 1430,646 1426,646.5 1422,647.1 1418,647.6 1414,648.1 1410,648.7 1406,649.3 1402,649.9 1398,650.5 1394,651.1 1390,651.8 1386,652.5 1382,653.2 1378,653.9 1374,654.6 1370,655.4 1366,656.1 1362,656.8 1358,657.6 1354,658.3 1350,659 1346,659.8 1342,660.5 1338,661.2 1334,661.9 1330,662.5 1326,663.2 1322,663.8 1318,664.4 1314,665 1310,665.6 1306,666.2 1302,666.7 1298,667.3 1294,667.8 1290,668.4 1286,668.9 1282,669.5 1278,670 1274,670.5 1270,671.1 1266,671.6 1262,672.1 1258,672.7 1254,673.2 1250,673.8 1246,674.4 1242,674.9 1238,675.5 1234,676.1 1230,676.6 1226,677.2 1222,677.8 1218,678.4 1214,678.9 1210,679.5 1206,680.1 1202,680.7 1198,681.3 1194,681.9 1190,682.4 1186,683 1182,683.6 1178,684.2 1174,684.7 1170,685.3 1166,685.9 1162,686.5 1158,687 1154,687.6 1150,688.2 1146,688.7 1142,689.3 1138,689.8 1134,690.4 1130,690.9 1126,691.5 1122,692 1118,692.6 1114,693.1 1110,693.7 1106,694.2 1102,694.7 1098,695.3 1094,695.8 1090,696.3 1086,696.9 1082,697.4 1078,697.9 1074,698.4 1070,699 1066,699.5 1062,700 1058,700.5 1054,701 1050,701.5 1046,702.1 1042,702.6 1038,703.1 1034,703.6 1030,704 1026,704.5 1022,705 1018,705.4 1014,705.8 1010,706.3 1006,706.7 1002,707.2 998,707.6 994,708.1 990,708.6 986,709.1 982,709.6 978,710.2 974,710.8 970,711.4 966,712.1 962,712.9 958,713.6 954,714.4 950,715.3 946,716.2 942,717.1 938,718 934,718.9 930,719.9 926,720.9 922,721.9 918,722.8 914,723.8 910,724.9 906,725.9 902,726.9 898,727.9 894,729 890,730.1 886,731.3 882,732.5 878,733.7 874,735 870,736.4 866,737.9 862,739.5 858,741.1 854,742.8 850,744.4 846,746.1 842,747.8 838,749.5 834,751.1 830,752.9 826,754.6 822,756.4 818,758.2 814,760.2 810,762.2 806,764.2 802,766.4 798,768.7 794,771 790,773.4 786,775.8 782,778.3 778,780.8 774,783.4 770,786 766,788.6 762,791.4 758,794.2 754,797.2 750,800.3 746,803.6 742,807.2 738,811.2 734,815.3 730,819.6 726,823.8 722,827.9 718,831.9 714,835.6 710,839.1 706,842.6 702,845.9 698,849 694,851.8 690,854.3 686,856.6 682,858.7 678,860.8 674,862.8 670,864.9 666,867.1 662,869.3 658,871.4 654,873.6 650,875.8 646,878 642,880.2 638,882.5 634,884.7 630,887 626,889.3 622,891.7 618,894.2 614,896.9 610,899.8 606,902.7 602,905.6 598,908.6 594,911.6 590,914.6 586,917.6 582,920.4 578,923.3 574,926.2 570,929.4 566,932.9 562,936.6 558,940.6 554,944.8 550,949.2 546,954 542,959.1 538,964.4 534,969.7 530,975.3 526,981 522,986.8 518,992.4 514,997.6 510,1002.6 506,1007.6 502,1012.9 498,1018.6 494,1024.7 490,1031.2 486,1037.6 482,1044 478,1050.4 474,1056.8 470,1063.1 465.8,1069.8 459.8,1079 453.8,1088.1 448.8,1095.7 443.8,1103.5 439.8,1110 435.8,1116.5 431.8,1123.2 428.8,1128.2 425.8,1133.2 422.8,1138.3 420.3,1142.5 417.8,1146.8 415.8,1150.2 413.8,1153.7 412.3,1156.2 411,1158.5 410,1160.2 409.1,1161.8 408.3,1163.2 407.6,1164.4 407,1165.5 406.5,1166.3 406.1,1167 405.8,1167.6"/>
<path d="M405.8,1180 406.1,1175 406.5,1168.4 407,1160.3 407.6,1151 408.3,1140.7 409.1,1130 410,1119 411,1107.7 412.3,1094.2 413.8,1079.7 415.8,1061.8 417.8,1044.7 420.3,1024.5 422.8,1005.5 425.8,984.4 428.8,965.3 431.8,948 435.8,926.7 439.8,907.1 443.8,889.3 448.8,869.8 453.8,853.3 459.8,836 465.8,820.6 470,810.9 474,802.1 478,793.8 482,785.9 486,778.3 490,771.1 494,764.2 498,757.5 502,751.2 506,745.1 510,739.2 514,733.5 518,728 522,722.8 526,717.7 530,712.7 534,707.9 538,703.2 542,698.6 546,694 550,689.5 554,685.1 558,681.1 562,677.7 566,674.7 570,672 574,669.5 578,666.9 582,664.4 586,661.9 590,659.5 594,657.3 598,655.3 602,653.4 606,651.6 610,649.8 614,647.9 618,645.8 622,643.6 626,641.5 630,639.5 634,637.5 638,635.5 642,633.6 646,631.6 650,629.7 654,627.8 658,626 662,624.3 666,622.7 670,621.4 674,620.1 678,618.8 682,617.2 686,615.3 690,612.9 694,609 698,604.7 702,600.8 706,596.8 710,592.7 714,588.5 718,584.3 722,580 726,574.9 730,569.7 734,565.7 738,563.8 742,562.6 746,561.7 750,560.9 754,560.2 758,559.5 762,558.9 766,558.4 770,557.9 774,557.3 778,556.8 782,556.1 786,555.2 790,554.1 794,552.6 798,550.8 802,548.8 806,546.9 810,545 814,543.2 818,541.6 822,539.8 826,537.9 830,535.5 834,532.6 838,529.2 842,525.4 846,521.3 850,516.9 854,512.4 858,508 862,503.6 866,499.1 870,494.6 874,489.8 878,485 882,480.1 886,475.1 890,470.1 894,465.1 898,460 902,454.8 906,449.6 910,444.3 914,438.9 918,433.6 922,428.3 926,423.1 930,417.8 934,412.5 938,407.2 942,401.9 946,396.7 950,391.5 954,386.5 958,381.6 962,376.8 966,371.9 970,367 974,362.2 978,357.7 982,353.4 986,349.6 990,346.3 994,343.4 998,340.8 1002,338.4 1006,336.5 1010,334.9 1014,333.7 1018,332.4 1022,331.3 1026,330.4 1030,329.8 1034,329.6 1038,329.9 1042,330.7 1046,331.9 1050,333.4 1054,335 1058,336.7 1062,338.9 1066,341.5 1070,344.5 1074,347.8 1078,351.2 1082,354.7 1086,358.3 1090,362 1094,365.9 1098,370.1 1102,374.5 1106,379 1110,383.7 1114,388.4 1118,393.1 1122,397.7 1126,402.6 1130,407.6 1134,412.6 1138,417.7 1142,422.7 1146,427.5 1150,432.2 1154,436.5 1158,440.6 1162,444.6 1166,448.4 1170,452.2 1174,456 1178,459.9 1182,463.7 1186,467.3 1190,470.7 1194,473.7 1198,476.4 1202,478.9 1206,481.2 1210,483.5 1214,485.6 1218,487.6 1222,489.6 1226,491.4 1230,493.2 1234,494.8 1238,496.3 1242,497.6 1246,498.8 1250,500 1254,501.1 1258,502.1 1262,503.1 1266,504.1 1270,505.1 1274,506 1278,506.7 1282,507.4 1286,508.1 1290,508.7 1294,509.2 1298,509.8 1302,510.3 1306,510.8 1310,511.3 1314,511.8 1318,512.3 1322,512.7 1326,513.1 1330,513.6 1334,514 1338,514.4 1342,514.9 1346,515.3 1350,515.7 1354,516 1358,516.3 1362,516.6 1366,516.8 1370,516.9 1374,517 1378,517 1382,517 1386,517 1390,517 1394,516.9 1398,516.9 1402,516.8 1406,516.8 1410,516.7 1414,516.6 1418,516.5 1422,516.4 1426,516.3 1430,516.2 1434,516 1438,515.5 1442,514.1 1446,512.4 1450,510.8 1454,509.5 1458,508.3 1462,507.1 1466,505.9 1470,504.5 1474,503 1478,501.1 1482,498.9 1486,496.4 1490,493.7 1494,490.7 1498,487.6 1502,484.5 1506,481.3 1510,478.2 1514,475 1518,471.7 1522,468.3 1526,464.7 1530,460.9 1534,457 1538,452.9 1542,448.5 1546,443.8 1550,438.7 1554,433.1 1558,427.2 1562,420.7 1566,413.5 1570,405.2 1574,396.3 1578,386.7 1582,376.9 1586,367.5 1590,358.5 1594,349.8 1598,341.1 1600,336.7 1602,332.2 1604,327.5 1606,322.7 1608,317.7 1610,312.4 1612,307 1614,301.5 1616,296.2 1618,291.2 1620,286.3 1622,281.4 1624,276.4 1626,270.9 1628,265 1630,258.5 1632,251.6 1634,244.6 1636,237.5 1638,230.4 1640,222 1641,217.6 1642,213.4 1643,209.5 1644,206.3 1645,203.9 1646,202.5 1647,201.9 1648,201.5 1649,201.1 1650,200.4 1651,199.4 1652,198.1 1653,196.6 1654,194.7 1655,192.7 1656,190.4 1657,187.9 1657.8,185.8 1657.8,185.8 1657,213.8 1656,243.5 1655,269.7 1654,292.9 1653,313.3 1652,333.5 1651,350.5 1650,363.3 1649,374.2 1648,385 1647,397.9 1646,410.2 1645,418.5 1644,424.9 1643,430.5 1642,435.7 1641,441.3 1640,446.8 1638,457.6 1636,468.3 1634,479 1632,487.6 1630,495 1628,501.8 1626,508.2 1624,514.1 1622,519.7 1620,524.8 1618,529.6 1616,534 1614,538 1612,541.7 1610,545.1 1608,548.3 1606,551.2 1604,553.9 1602,556.5 1600,559.1 1598,561.7 1594,566.8 1590,571.8 1586,576.5 1582,581.1 1578,585.5 1574,589.9 1570,594.3 1566,598.5 1562,602.2 1558,605.3 1554,608 1550,610.4 1546,612.6 1542,614.6 1538,616.5 1534,618.3 1530,620.1 1526,621.7 1522,623.3 1518,624.8 1514,626.3 1510,627.7 1506,629.1 1502,630.4 1498,631.8 1494,633.1 1490,634.4 1486,635.7 1482,636.9 1478,638 1474,639 1470,639.9 1466,640.8 1462,641.5 1458,642.2 1454,642.9 1450,643.5 1446,644.1 1442,644.7 1438,645.3 1434,645.8 1430,646.3 1426,646.8 1422,647.4 1418,647.9 1414,648.4 1410,648.9 1406,649.5 1402,650.1 1398,650.7 1394,651.3 1390,652 1386,652.7 1382,653.4 1378,654.1 1374,654.8 1370,655.5 1366,656.3 1362,657 1358,657.7 1354,658.5 1350,659.2 1346,659.9 1342,660.6 1338,661.3 1334,662 1330,662.7 1326,663.3 1322,664 1318,664.6 1314,665.2 1310,665.8 1306,666.3 1302,666.9 1298,667.4 1294,668 1290,668.5 1286,669.1 1282,669.6 1278,670.2 1274,670.7 1270,671.2 1266,671.8 1262,672.3 1258,672.9 1254,673.4 1250,674 1246,674.6 1242,675.1 1238,675.7 1234,676.3 1230,676.9 1226,677.5 1222,678.1 1218,678.6 1214,679.2 1210,679.8 1206,680.4 1202,681 1198,681.6 1194,682.2 1190,682.8 1186,683.4 1182,684 1178,684.6 1174,685.1 1170,685.7 1166,686.3 1162,686.9 1158,687.5 1154,688 1150,688.6 1146,689.2 1142,689.8 1138,690.3 1134,690.9 1130,691.4 1126,692 1122,692.5 1118,693.1 1114,693.7 1110,694.2 1106,694.7 1102,695.3 1098,695.8 1094,696.4 1090,696.9 1086,697.5 1082,698 1078,698.5 1074,699.1 1070,699.6 1066,700.1 1062,700.6 1058,701.2 1054,701.7 1050,702.2 1046,702.7 1042,703.2 1038,703.8 1034,704.3 1030,704.8 1026,705.2 1022,705.7 1018,706.1 1014,706.6 1010,707 1006,707.5 1002,707.9 998,708.4 994,708.9 990,709.4 986,709.9 982,710.5 978,711 974,711.6 970,712.3 966,713 962,713.7 958,714.5 954,715.4 950,716.2 946,717.1 942,718 938,719 934,719.9 930,720.9 926,721.9 922,722.9 918,724 914,725 910,726 906,727 902,728.1 898,729.2 894,730.3 890,731.4 886,732.6 882,733.8 878,735.1 874,736.5 870,737.9 866,739.5 862,741.1 858,742.7 854,744.4 850,746.2 846,747.9 842,749.6 838,751.3 834,753.1 830,754.8 826,756.6 822,758.5 818,760.4 814,762.3 810,764.4 806,766.5 802,768.7 798,771 794,773.4 790,775.8 786,778.3 782,780.9 778,783.4 774,786 770,788.7 766,791.4 762,794.2 758,797 754,800 750,803.2 746,806.4 742,810.1 738,814 734,818.1 730,822.3 726,826.6 722,830.7 718,834.7 714,838.3 710,841.9 706,845.3 702,848.6 698,851.7 694,854.5 690,857 686,859.3 682,861.4 678,863.5 674,865.6 670,867.7 666,869.9 662,872 658,874.2 654,876.4 650,878.6 646,880.8 642,883.1 638,885.3 634,887.6 630,889.9 626,892.2 622,894.7 618,897.2 614,899.9 610,902.8 606,905.8 602,908.7 598,911.6 594,914.6 590,917.6 586,920.7 582,923.6 578,926.6 574,929.8 570,933.2 566,936.8 562,940.7 558,944.9 554,949.2 550,953.9 546,958.8 542,964.1 538,969.5 534,975 530,980.8 526,986.7 522,992.7 518,998.4 514,1003.9 510,1009 506,1014.2 502,1019.6 498,1025.5 494,1031.9 490,1038.6 486,1045.3 482,1051.9 478,1058.5 474,1065.1 470,1071.8 465.8,1078.7 459.8,1088.3 453.8,1097.8 448.8,1105.7 443.8,1113.8 439.8,1120.5 435.8,1127.3 431.8,1134.2 428.8,1139.4 425.8,1144.7 422.8,1149.9 420.3,1154.3 417.8,1158.7 415.8,1162.2 413.8,1165.7 412.3,1168.4 411,1170.7 410,1172.5 409.1,1174.1 408.3,1175.5 407.6,1176.8 407,1177.8 406.5,1178.7 406.1,1179.5 405.8,1180"/>
<path style="fill:#000;stroke:none" d="M1630,258.5 1631,255.1 1632,251.6 1633,248.1 1634,244.6 1635,241 1636,237.5 1637,234 1638,230.4 1639,226.4 1640,222 1641,217.6 1642,213.4 1643,209.5 1644,206.3 1645,203.9 1646,202.5 1647,201.9 1648,201.5 1649,201.1 1650,200.4 1651,199.4 1652,198.1 1653,196.6 1654,194.7 1655,192.7 1656,190.4 1657.8,185.8 1657.8,333 1657.8,329 1656,331.2 1655,332.4 1654,333.6 1653,334.9 1652,336.1 1651,337.4 1650,338.7 1649,339.9 1648,341.2 1647,342.5 1646,343.9 1645,345.2 1644,346.5 1643,347.9 1642,349.2 1641,350.6 1640,352 1639,353.4 1638,354.8 1637,356.2 1636,357.7 1635,359.2 1634,360.7 1633,362.1 1632,363.6 1631,365.2 1630,366.7Z"/>
</g>
<g class="ax">
<path d="M228.1,79.0 V1257.0 H1826.0"/>
<path d="M228.1,79.0 h-23.0"/>
<path d="M228.1,169.6 h-11.3"/>
<path d="M228.1,260.2 h-23.0"/>
<path d="M228.1,350.8 h-11.3"/>
<path d="M228.1,441.5 h-23.0"/>
<path d="M228.1,532.1 h-11.3"/>
<path d="M228.1,622.7 h-23.0"/>
<path d="M228.1,713.3 h-11.3"/>
<path d="M228.1,803.9 h-23.0"/>
<path d="M228.1,894.5 h-11.3"/>
<path d="M228.1,985.2 h-23.0"/>
<path d="M228.1,1075.8 h-11.3"/>
<path d="M228.1,1166.4 h-23.0"/>
<path d="M228.1,1257.0 h-11.3"/>
<path d="M228.1,1257.0 v11.8"/>
<path d="M316.9,1257.0 v23.5"/>
<path d="M405.6,1257.0 v11.8"/>
<path d="M494.4,1257.0 v23.5"/>
<path d="M583.2,1257.0 v11.8"/>
<path d="M672.0,1257.0 v23.5"/>
<path d="M760.7,1257.0 v11.8"/>
<path d="M849.5,1257.0 v23.5"/>
<path d="M938.3,1257.0 v11.8"/>
<path d="M1027.0,1257.0 v23.5"/>
<path d="M1115.8,1257.0 v11.8"/>
<path d="M1204.6,1257.0 v23.5"/>
<path d="M1293.3,1257.0 v11.8"/>
<path d="M1382.1,1257.0 v23.5"/>
<path d="M1470.9,1257.0 v11.8"/>
<path d="M1559.7,1257.0 v23.5"/>
<path d="M1648.4,1257.0 v11.8"/>
<path d="M1737.2,1257.0 v23.5"/>
<path d="M1826.0,1257.0 v11.8"/>
</g>
<g class="ar">
<path class="h" d="M1650.6,35.0 L1642.1,66.3 L1659.1,66.3 Z"/><path class="s" d="M1650.6,66.3 L1650.6,153.8"/>
<path class="h" d="M1030.6,181.0 L1022.1,213.5 L1039.1,213.5 Z"/><path class="s" d="M1030.6,213.5 L1030.6,299.6"/>
<path class="h" d="M1566.4,744.7 L1559.1,712.1 L1576,712.1 Z"/><path class="s" d="M1568.6,625.2 L1567.5,712.1"/>
<path class="h" d="M841,887.7 L833.2,856.1 L849.9,856.1 Z"/><path class="s" d="M842.5,769 L841.6,856.1"/>
<path class="h" d="M511.8,1182.7 L504,1151 L520.9,1151 Z"/><path class="s" d="M513.5,1064.2 L512.5,1151"/>
</g>
<g>
<text x="190.3" y="91.6" text-anchor="end" class="t">60</text>
<text x="190.3" y="272.8" text-anchor="end" class="t">40</text>
<text x="190.3" y="454.1" text-anchor="end" class="t">20</text>
<text x="190.3" y="635.3" text-anchor="end" class="t">0</text>
<text x="190.3" y="816.5" text-anchor="end" class="t">-20</text>
<text x="190.3" y="997.8" text-anchor="end" class="t">-40</text>
<text x="190.3" y="1179.0" text-anchor="end" class="t">-60</text>
<text x="317.3" y="1332.8" text-anchor="middle" class="t">-0.6</text>
<text x="494.8" y="1332.8" text-anchor="middle" class="t">-0.4</text>
<text x="672.4" y="1332.8" text-anchor="middle" class="t">-0.2</text>
<text x="849.9" y="1332.8" text-anchor="middle" class="t">0.0</text>
<text x="1027.4" y="1332.8" text-anchor="middle" class="t">0.2</text>
<text x="1205.0" y="1332.8" text-anchor="middle" class="t">0.4</text>
<text x="1382.5" y="1332.8" text-anchor="middle" class="t">0.6</text>
<text x="1560.1" y="1332.8" text-anchor="middle" class="t">0.8</text>
<text x="1737.6" y="1332.8" text-anchor="middle" class="t">1.0</text>
<text x="341.7" y="118.6" text-anchor="middle" style="font-size:63px">(a)</text>
<text x="1027.6" y="1428.6" text-anchor="middle" class="l">Potencial (V) <tspan font-style="italic">vs.</tspan> Ag/AgCl</text>
<text transform="translate(79.4,628.5) rotate(-90)" text-anchor="middle" class="l">Current (µA)</text>
</g>
</svg>
</body></html>
